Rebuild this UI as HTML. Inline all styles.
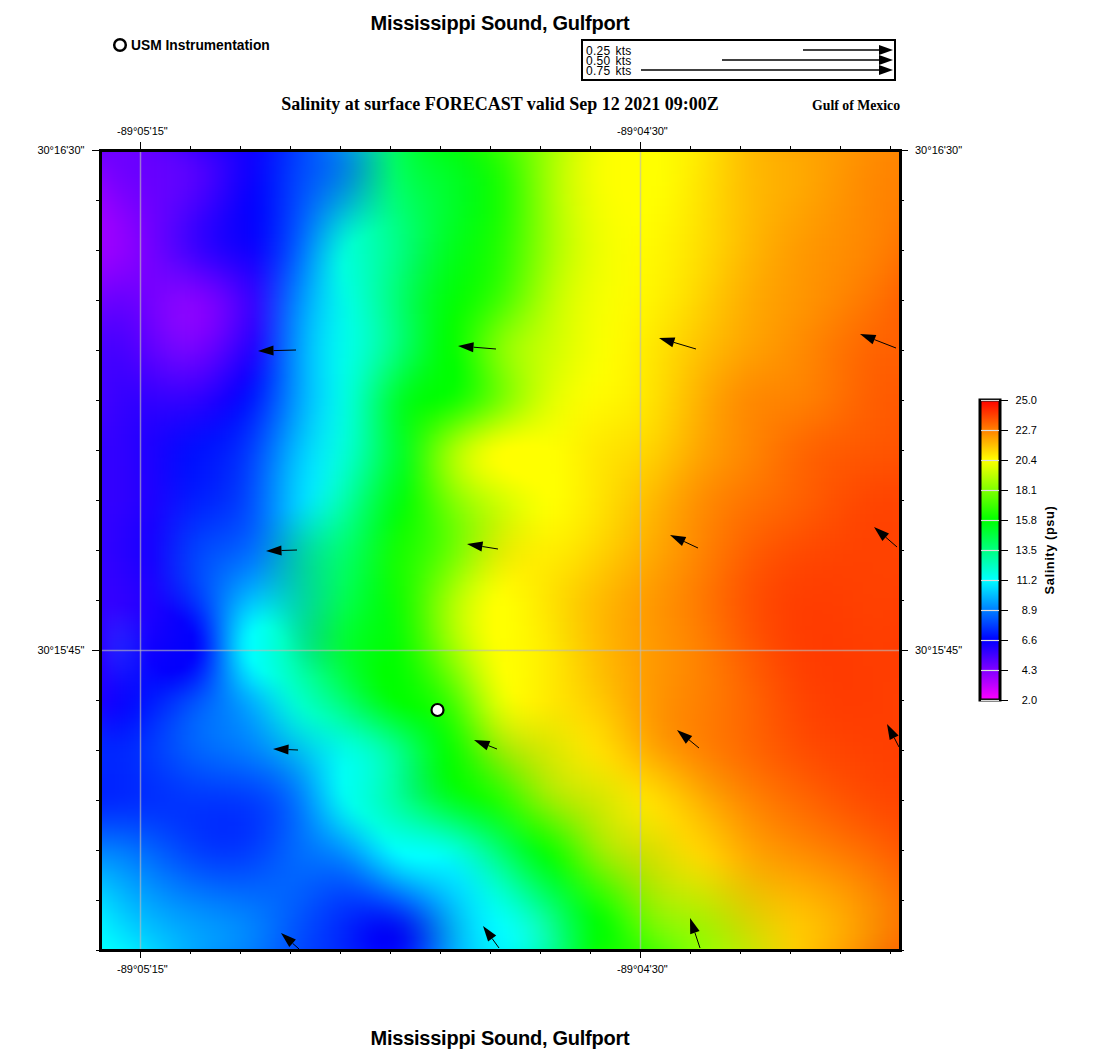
<!DOCTYPE html>
<html><head><meta charset="utf-8"><style>
html,body{margin:0;padding:0;background:#fff;}
body{width:1100px;height:1050px;position:relative;overflow:hidden;font-family:"Liberation Sans", sans-serif;color:#000;}
.a{position:absolute;white-space:nowrap;line-height:1;}
#hm{position:absolute;left:100px;top:150px;width:800px;height:800px;overflow:hidden;}
#hmi{position:absolute;left:-8px;top:-8px;width:816px;filter:blur(2px);}
#hmi i{display:block;height:4px;}
.lab{position:absolute;font-size:11px;line-height:12px;white-space:nowrap;}
.cbl{position:absolute;left:1000px;width:37px;text-align:right;font-size:11px;line-height:12px;}
svg{position:absolute;left:0;top:0;}
</style></head><body>
<div class="a" style="left:0;width:1000px;top:13px;text-align:center;font-weight:bold;font-size:20px;letter-spacing:-0.25px;">Mississippi Sound, Gulfport</div>
<div class="a" style="left:131px;top:39px;font-weight:bold;font-size:13.8px;">USM Instrumentation</div>
<div class="a" style="left:0;width:1000px;top:95px;text-align:center;font-family:'Liberation Serif', serif;font-weight:bold;font-size:18px;">Salinity at surface FORECAST valid Sep 12 2021 09:00Z</div>
<div class="a" style="left:812px;top:99px;font-family:'Liberation Serif', serif;font-weight:bold;font-size:13.8px;">Gulf of Mexico</div>
<div class="a" style="left:0;width:1000px;top:1028px;text-align:center;font-weight:bold;font-size:20px;letter-spacing:-0.25px;">Mississippi Sound, Gulfport</div>
<div id="hm"><div id="hmi">
<i style="background:linear-gradient(90deg,#6c00ff,#6d00ff,#6f00ff,#6f00ff,#6c00ff,#6800ff,#6200ff,#5b01ff,#5302ff,#4a02ff,#4101ff,#3700ff,#2e00ff,#2500ff,#1c00ff,#1400ff,#0e02ff,#090cff,#0519ff,#0329ff,#0139ff,#004aff,#005aff,#006bfc,#007cf6,#008feb,#00a4d8,#01bbc0,#01d2a3,#01e785,#01f868,#00ff4f,#00ff3b,#00ff2b,#00ff1e,#00ff15,#02fe0e,#09fd09,#13fd05,#1ffe02,#2eff01,#40ff00,#54ff00,#6aff00,#80ff00,#97ff00,#adff00,#c1ff00,#d4ff00,#e3ff00,#f0ff00,#f8ff00,#fdff00,#ffff00,#ffff00,#ffff00,#fffe00,#fffb00,#fff700,#fff200,#ffec00,#ffe400,#ffda00,#ffd100,#ffc700,#ffbe00,#ffb700,#ffb200,#ffae00,#ffaa00,#ffa700,#ffa400,#ffa100,#ff9d00,#ff9a00,#ff9700,#ff9300,#ff9000,#ff8d00,#ff8900,#ff8600,#ff8500)"></i>
<i style="background:linear-gradient(90deg,#6c00ff,#6d00ff,#6f00ff,#6f00ff,#6c00ff,#6800ff,#6200ff,#5b01ff,#5302ff,#4a02ff,#4101ff,#3700ff,#2e00ff,#2500ff,#1c00ff,#1400ff,#0e02ff,#090cff,#0519ff,#0329ff,#0139ff,#004aff,#005aff,#006bfc,#007cf6,#008feb,#00a4d8,#01bbc0,#01d2a3,#01e785,#01f868,#00ff4f,#00ff3b,#00ff2b,#00ff1e,#00ff15,#02fe0e,#09fd09,#13fd05,#1ffe02,#2eff01,#40ff00,#54ff00,#6aff00,#80ff00,#97ff00,#adff00,#c1ff00,#d4ff00,#e3ff00,#f0ff00,#f8ff00,#fdff00,#ffff00,#ffff00,#ffff00,#fffe00,#fffb00,#fff700,#fff200,#ffec00,#ffe400,#ffda00,#ffd100,#ffc700,#ffbe00,#ffb700,#ffb200,#ffae00,#ffaa00,#ffa700,#ffa400,#ffa100,#ff9d00,#ff9a00,#ff9700,#ff9300,#ff9000,#ff8d00,#ff8900,#ff8600,#ff8500)"></i>
<i style="background:linear-gradient(90deg,#6e00ff,#6f00ff,#6f00ff,#6e00ff,#6c00ff,#6800ff,#6300ff,#5d01ff,#5502ff,#4d02ff,#4401ff,#3b00ff,#3100ff,#2700ff,#1d00ff,#1500ff,#0e02ff,#090dff,#051aff,#0229ff,#013aff,#004aff,#0059fe,#0069fc,#007af5,#008cea,#00a2d7,#01b9bf,#01d1a2,#01e684,#01f868,#00ff4f,#00ff3c,#00ff2c,#00ff20,#00ff17,#02fe10,#08fd0a,#11fd06,#1dfe03,#2cff01,#3eff00,#52ff00,#69ff00,#80ff00,#97ff00,#adff00,#c2ff00,#d4fe00,#e4ff00,#f0ff00,#f9ff00,#feff00,#ffff00,#ffff00,#ffff00,#fffe00,#fefb00,#fff700,#fff200,#ffeb00,#ffe300,#ffda00,#ffd000,#ffc700,#ffbe00,#ffb800,#ffb200,#ffae00,#ffab00,#ffa700,#ffa400,#ffa100,#ff9e00,#ff9a00,#ff9700,#ff9300,#ff8f00,#ff8c00,#ff8900,#ff8600,#ff8500)"></i>
<i style="background:linear-gradient(90deg,#7200ff,#7200ff,#7000ff,#6e00ff,#6b00ff,#6800ff,#6400ff,#5f01ff,#5902ff,#5202ff,#4901ff,#4000ff,#3500ff,#2a00ff,#1f00ff,#1600ff,#0e03ff,#080dff,#041bff,#022aff,#013aff,#004aff,#0058fe,#0067fa,#0077f4,#0088e8,#009dd5,#01b5bd,#01cea1,#01e584,#00f768,#00ff50,#00ff3e,#00ff2f,#00ff24,#00ff1b,#02fe14,#07fd0e,#0ffd08,#19fd04,#28ff01,#3aff00,#4fff00,#66ff00,#7fff00,#97ff00,#aeff00,#c3ff00,#d6fe00,#e5fe00,#f1ff00,#f9ff00,#feff00,#ffff00,#ffff00,#ffff00,#ffff00,#fefc00,#fef700,#fff200,#ffeb00,#ffe200,#ffd900,#ffd000,#ffc700,#ffbe00,#ffb800,#ffb300,#ffaf00,#ffab00,#ffa800,#ffa500,#ffa100,#ff9e00,#ff9a00,#ff9600,#ff9200,#ff8e00,#ff8b00,#ff8800,#ff8500,#ff8500)"></i>
<i style="background:linear-gradient(90deg,#7600ff,#7600ff,#7100ff,#6e00ff,#6b00ff,#6800ff,#6400ff,#6001ff,#5c02ff,#5502ff,#4e01ff,#4400ff,#3900ff,#2d00ff,#2100ff,#1600ff,#0d03ff,#070dff,#041bff,#012bff,#003bff,#004aff,#0058fd,#0066f9,#0074f2,#0086e6,#009bd4,#00b3bc,#01cca0,#01e483,#00f768,#00ff52,#00ff40,#00ff32,#00ff27,#00ff1f,#01fe17,#05fc10,#0cfc0a,#16fd05,#24fe01,#36ff00,#4cff00,#64ff00,#7eff00,#97ff00,#afff00,#c4fe01,#d7fe00,#e6fe00,#f2ff00,#faff00,#feff00,#ffff00,#ffff00,#ffff00,#ffff00,#fefc00,#fef700,#fff100,#ffea00,#ffe200,#ffd900,#ffcf00,#ffc600,#ffbe00,#ffb800,#ffb300,#ffaf00,#ffac00,#ffa900,#ffa600,#ffa200,#ff9e00,#ff9a00,#ff9500,#ff9100,#ff8d00,#ff8a00,#ff8700,#ff8500,#ff8400)"></i>
<i style="background:linear-gradient(90deg,#7a00ff,#7900ff,#7300ff,#6e00ff,#6b00ff,#6800ff,#6500ff,#6201ff,#5e02ff,#5802ff,#5101ff,#4700ff,#3b00ff,#2f00ff,#2200ff,#1600ff,#0d03ff,#070eff,#031cff,#012bff,#003bff,#004aff,#0058fd,#0065f8,#0073f1,#0084e4,#0099d2,#00b2ba,#00cb9f,#00e383,#00f769,#00ff53,#00ff42,#00ff35,#00ff2b,#00ff22,#01fe1a,#04fc13,#0afc0c,#13fd06,#20fe02,#32ff00,#49ff00,#62ff00,#7dff00,#97ff00,#b0ff00,#c5fe01,#d8fe01,#e7fe00,#f2ff00,#faff00,#feff00,#ffff00,#ffff00,#ffff00,#ffff00,#fefc00,#fef700,#fff100,#ffea00,#ffe100,#ffd800,#ffcf00,#ffc600,#ffbe00,#ffb800,#ffb400,#ffb000,#ffad00,#ffaa00,#ffa600,#ffa200,#ff9e00,#ff9900,#ff9500,#ff9100,#ff8d00,#ff8900,#ff8600,#ff8400,#ff8400)"></i>
<i style="background:linear-gradient(90deg,#7e00ff,#7c00ff,#7500ff,#6f00ff,#6b00ff,#6900ff,#6600ff,#6301ff,#5f02ff,#5a02ff,#5301ff,#4900ff,#3d00ff,#3000ff,#2200ff,#1600ff,#0c03ff,#060eff,#021cff,#012cff,#003cff,#004bff,#0058fc,#0065f8,#0074ef,#0084e3,#0099d1,#00b2b9,#00cb9f,#00e384,#00f76a,#00ff55,#00ff44,#00ff38,#00ff2e,#00ff25,#01fe1d,#03fc15,#08fc0d,#11fd07,#1efe02,#30ff00,#47ff00,#61ff00,#7cff00,#97ff00,#b0ff00,#c6fe01,#d8fe01,#e7fe00,#f3ff00,#faff00,#feff00,#ffff00,#ffff00,#ffff00,#ffff00,#fefc00,#fef700,#fff000,#ffe900,#ffe100,#ffd800,#ffcf00,#ffc600,#ffbe00,#ffb800,#ffb400,#ffb000,#ffad00,#ffaa00,#ffa600,#ffa200,#ff9e00,#ff9900,#ff9400,#ff9000,#ff8c00,#ff8900,#ff8600,#ff8400,#ff8400)"></i>
<i style="background:linear-gradient(90deg,#8200ff,#8000ff,#7700ff,#7100ff,#6c00ff,#6900ff,#6700ff,#6401ff,#6002ff,#5c02ff,#5401ff,#4b00ff,#3e00ff,#3000ff,#2200ff,#1500ff,#0c03ff,#050eff,#021cff,#002cff,#003dff,#004cfe,#0059fc,#0067f7,#0075ee,#0086e1,#009acf,#00b2b8,#00cc9f,#00e384,#00f76c,#00ff57,#00ff47,#00ff3a,#00ff30,#00ff28,#00fe1f,#02fc17,#07fc0f,#0ffd08,#1bfe02,#2dff00,#44ff00,#5fff00,#7bff00,#97ff00,#b0ff00,#c6fe01,#d9fe01,#e8fe00,#f3ff00,#faff00,#feff00,#ffff00,#ffff00,#ffff00,#ffff00,#fefb00,#fef600,#fff000,#ffe900,#ffe000,#ffd700,#ffce00,#ffc600,#ffbe00,#ffb800,#ffb400,#ffb000,#ffad00,#ffaa00,#ffa600,#ffa200,#ff9d00,#ff9900,#ff9400,#ff8f00,#ff8b00,#ff8800,#ff8500,#ff8400,#ff8300)"></i>
<i style="background:linear-gradient(90deg,#8500ff,#8300ff,#7900ff,#7200ff,#6d00ff,#6a00ff,#6700ff,#6401ff,#6102ff,#5c02ff,#5501ff,#4b00ff,#3e00ff,#3000ff,#2100ff,#1500ff,#0b03ff,#040eff,#011dff,#002dff,#003eff,#004dfe,#005bfb,#0068f6,#0077ed,#0088e0,#009cce,#00b4b8,#00cd9f,#00e485,#00f76d,#00ff59,#00ff49,#00ff3d,#00ff33,#00ff2a,#00fe21,#02fc18,#06fc10,#0dfd08,#19fe02,#2bff00,#43ff00,#5eff00,#7bff00,#97ff00,#b0ff00,#c7fe01,#d9fe01,#e8fe00,#f3ff00,#faff00,#feff00,#ffff00,#ffff00,#ffff00,#ffff00,#fefb00,#fff600,#fff000,#ffe800,#ffe000,#ffd700,#ffce00,#ffc600,#ffbe00,#ffb800,#ffb400,#ffb000,#ffad00,#ffaa00,#ffa600,#ffa200,#ff9d00,#ff9800,#ff9300,#ff8f00,#ff8b00,#ff8700,#ff8500,#ff8300,#ff8300)"></i>
<i style="background:linear-gradient(90deg,#8900ff,#8600ff,#7b00ff,#7400ff,#6f00ff,#6b00ff,#6800ff,#6501ff,#6102ff,#5c02ff,#5501ff,#4b00ff,#3e00ff,#2f00ff,#2100ff,#1400ff,#0a03ff,#040eff,#011dff,#002dff,#003eff,#004efe,#005dfb,#006bf5,#007aec,#008bdf,#009fcd,#00b7b7,#00cf9f,#00e586,#00f76f,#00ff5b,#00ff4c,#00ff3f,#00ff35,#00ff2c,#00fe23,#01fd1a,#05fd11,#0bfd09,#17ff02,#29ff00,#41ff00,#5dff00,#7aff00,#96ff00,#b0ff00,#c7fe01,#d9fe01,#e8fe01,#f3ff00,#faff00,#feff00,#ffff00,#ffff00,#ffff00,#ffff00,#fefb00,#fff600,#ffef00,#ffe800,#ffdf00,#ffd700,#ffce00,#ffc600,#ffbe00,#ffb900,#ffb400,#ffb000,#ffad00,#ffaa00,#ffa600,#ffa200,#ff9d00,#ff9800,#ff9300,#ff8e00,#ff8a00,#ff8700,#ff8400,#ff8300,#ff8300)"></i>
<i style="background:linear-gradient(90deg,#8c00ff,#8900ff,#7e00ff,#7600ff,#7000ff,#6c00ff,#6800ff,#6501ff,#6102ff,#5c02ff,#5401ff,#4a00ff,#3d00ff,#2e00ff,#1f00fe,#1300ff,#0903ff,#030eff,#001dff,#002eff,#003fff,#0050fe,#005ffa,#006ef4,#007deb,#008fde,#00a3cc,#00bab7,#00d19f,#00e687,#00f871,#00ff5e,#00ff4e,#00ff42,#00ff37,#00ff2e,#00fe24,#01fd1b,#04fd11,#0afd09,#16ff02,#28ff00,#40ff00,#5cff00,#79ff00,#96ff00,#b0ff00,#c6fe01,#d9fe01,#e7fe01,#f2ff00,#faff00,#feff00,#ffff00,#ffff00,#ffff00,#ffff00,#fffb00,#fff500,#ffef00,#ffe700,#ffdf00,#ffd600,#ffce00,#ffc500,#ffbe00,#ffb900,#ffb400,#ffb000,#ffad00,#ffaa00,#ffa600,#ffa100,#ff9c00,#ff9700,#ff9300,#ff8e00,#ff8a00,#ff8700,#ff8400,#ff8200,#ff8200)"></i>
<i style="background:linear-gradient(90deg,#8f00ff,#8c00ff,#8000ff,#7800ff,#7200ff,#6d00ff,#6900ff,#6501ff,#6002ff,#5b02ff,#5301ff,#4800ff,#3b00ff,#2d00ff,#1e00fe,#1200ff,#0803ff,#020eff,#001dff,#002eff,#0040ff,#0051fe,#0061fa,#0171f3,#0082ea,#0093dd,#00a8cc,#00beb7,#00d4a0,#00e889,#00f873,#00ff60,#00ff51,#00ff44,#00ff39,#00ff2f,#00fe25,#00fd1b,#03fd12,#0afe09,#15ff02,#27ff00,#3fff00,#5bff00,#79ff00,#96ff00,#b0ff00,#c6fe01,#d8fe01,#e7fe01,#f2ff00,#f9ff00,#feff00,#ffff00,#ffff00,#ffff00,#fffe00,#fffa00,#fff500,#ffee00,#ffe700,#ffdf00,#ffd600,#ffcd00,#ffc500,#ffbe00,#ffb800,#ffb400,#ffb000,#ffad00,#ffa900,#ffa500,#ffa100,#ff9c00,#ff9700,#ff9200,#ff8e00,#ff8a00,#ff8600,#ff8400,#ff8200,#ff8200)"></i>
<i style="background:linear-gradient(90deg,#9100ff,#8f00ff,#8300ff,#7a00ff,#7400ff,#6e00ff,#6900ff,#6501ff,#6002ff,#5902ff,#5101ff,#4600ff,#3900ff,#2b00fe,#1d00fe,#1000ff,#0703ff,#020eff,#001dff,#002fff,#0041ff,#0053fe,#0164fa,#0175f3,#0087e9,#0099dc,#00adcb,#00c2b7,#00d7a1,#00ea8a,#00f975,#00ff63,#00ff53,#00ff46,#00ff3b,#00ff30,#00fe26,#00fd1c,#03fd12,#09fe09,#14ff02,#26ff00,#3eff00,#5bff00,#78ff00,#95ff00,#afff00,#c6fe01,#d8fe01,#e7fe01,#f2ff00,#f9ff00,#fdff00,#ffff00,#ffff00,#ffff00,#fffe00,#fffa00,#fff500,#ffee00,#ffe600,#ffde00,#ffd600,#ffcd00,#ffc500,#ffbe00,#ffb800,#ffb400,#ffb000,#ffac00,#ffa900,#ffa400,#ffa000,#ff9b00,#ff9700,#ff9200,#ff8d00,#ff8900,#ff8600,#ff8300,#ff8100,#ff8100)"></i>
<i style="background:linear-gradient(90deg,#9400ff,#9100ff,#8600ff,#7d00ff,#7500ff,#6f00ff,#6a00ff,#6501ff,#5f02ff,#5802ff,#4f01ff,#4400ff,#3700ff,#2900fe,#1b00fe,#0f00ff,#0603ff,#010eff,#001dff,#002fff,#0042ff,#0055fe,#0167f9,#017af2,#008ce8,#009fdb,#00b3cb,#00c7b7,#00daa2,#00ec8c,#00f977,#00ff65,#00ff56,#00ff48,#00ff3c,#00ff31,#00fe27,#00fd1c,#03fd12,#09fe09,#14ff02,#26ff00,#3eff00,#5aff00,#78ff00,#95ff00,#afff00,#c5ff01,#d8fe01,#e6fe01,#f1ff00,#f8ff00,#fdff00,#ffff00,#ffff00,#ffff00,#fffe00,#fffa00,#fff400,#ffee00,#ffe600,#ffde00,#ffd600,#ffcd00,#ffc500,#ffbe00,#ffb800,#ffb300,#ffaf00,#ffac00,#ffa800,#ffa400,#ff9f00,#ff9b00,#ff9600,#ff9100,#ff8d00,#ff8900,#ff8600,#ff8300,#ff8100,#ff8100)"></i>
<i style="background:linear-gradient(90deg,#9600ff,#9300ff,#8800ff,#7f00ff,#7700ff,#7100ff,#6b00ff,#6401ff,#5e02ff,#5602ff,#4d01ff,#4200ff,#3500ff,#2700fe,#1a00fe,#0e00ff,#0603ff,#010eff,#001eff,#0030ff,#0043ff,#0057fe,#016bf9,#017ef2,#0092e8,#00a5db,#00b9ca,#00ccb7,#00dea3,#00ee8e,#00fa7a,#00ff68,#00ff58,#00ff4a,#00ff3e,#00ff32,#00fe27,#00fd1c,#03fd12,#09fe09,#14ff02,#26ff00,#3eff00,#5aff00,#77ff00,#94ff00,#afff00,#c5ff01,#d7fe01,#e5fe01,#f0ff00,#f8ff00,#fcff00,#ffff00,#ffff00,#ffff00,#fffd00,#fff900,#fff400,#ffed00,#ffe600,#ffde00,#ffd500,#ffcd00,#ffc500,#ffbe00,#ffb800,#ffb300,#ffaf00,#ffab00,#ffa700,#ffa300,#ff9f00,#ff9a00,#ff9600,#ff9100,#ff8d00,#ff8900,#ff8500,#ff8300,#ff8000,#ff8000)"></i>
<i style="background:linear-gradient(90deg,#9800ff,#9600ff,#8b00ff,#8100ff,#7900ff,#7200ff,#6b00ff,#6401ff,#5c02ff,#5402ff,#4a01ff,#3f00ff,#3200ff,#2500fe,#1800fe,#0d00ff,#0503ff,#010eff,#001eff,#0030ff,#0044ff,#0059fe,#016ef9,#0183f1,#0098e7,#00acda,#00bfca,#00d2b8,#00e2a4,#00f090,#00fb7c,#00ff6a,#00ff5a,#00ff4c,#00ff3f,#00ff32,#00fe27,#00fe1c,#03fe12,#09fe09,#14ff02,#26ff00,#3eff00,#5aff00,#77ff00,#94ff00,#aeff00,#c4ff01,#d6fe01,#e5fe01,#f0ff00,#f7ff00,#fcff00,#feff00,#ffff00,#ffff00,#fffd00,#fff900,#fff300,#ffed00,#ffe500,#ffdd00,#ffd500,#ffcd00,#ffc500,#ffbe00,#ffb800,#ffb300,#ffae00,#ffaa00,#ffa600,#ffa200,#ff9e00,#ff9900,#ff9500,#ff9100,#ff8d00,#ff8900,#ff8500,#ff8200,#ff8000,#ff7f00)"></i>
<i style="background:linear-gradient(90deg,#9a00ff,#9700ff,#8d00ff,#8400ff,#7b00ff,#7300ff,#6c00ff,#6401ff,#5b02ff,#5202ff,#4801ff,#3c00ff,#3000ff,#2300fe,#1700fe,#0c00ff,#0503ff,#000eff,#001eff,#0031ff,#0045ff,#005cfe,#0172f8,#0188f1,#009ee6,#00b3da,#00c6ca,#00d7b8,#00e6a5,#00f292,#00fb7e,#00ff6c,#00ff5c,#00ff4d,#00ff3f,#00ff33,#00fe27,#01fe1b,#03fe11,#09fe09,#14ff02,#26ff00,#3eff00,#5aff00,#77ff00,#94ff00,#adff00,#c3ff01,#d6ff01,#e4ff01,#efff00,#f7ff00,#fbff00,#feff00,#ffff00,#ffff00,#fffc00,#fff800,#fff300,#ffec00,#ffe500,#ffdd00,#ffd500,#ffcd00,#ffc500,#ffbe00,#ffb800,#ffb200,#ffae00,#ffa900,#ffa500,#ffa100,#ff9d00,#ff9900,#ff9400,#ff9000,#ff8c00,#ff8800,#ff8500,#ff8200,#ff7f00,#ff7f00)"></i>
<i style="background:linear-gradient(90deg,#9b00ff,#9900ff,#8f00ff,#8600ff,#7d00ff,#7500ff,#6c00ff,#6301ff,#5a02ff,#5002ff,#4601ff,#3a00ff,#2d00ff,#2100fe,#1500fe,#0b00ff,#0403ff,#000eff,#001eff,#0031ff,#0047ff,#005efe,#0176f8,#018ef0,#00a5e6,#00bad9,#00cdca,#00ddb9,#00eaa6,#00f593,#00fc80,#00ff6e,#00ff5e,#00ff4e,#00ff40,#00ff33,#00ff26,#01fe1b,#03fe11,#0afe08,#15ff02,#27ff00,#3eff00,#5aff00,#77ff00,#93ff00,#adff00,#c3ff01,#d5ff01,#e3ff00,#eeff00,#f6ff00,#fbff00,#feff00,#ffff00,#ffff00,#fffc00,#fff800,#fff200,#ffec00,#ffe500,#ffdd00,#ffd500,#ffcd00,#ffc500,#ffbe00,#ffb700,#ffb200,#ffad00,#ffa900,#ffa500,#ffa000,#ff9c00,#ff9800,#ff9400,#ff9000,#ff8c00,#ff8800,#ff8500,#ff8100,#ff7e00,#ff7e00)"></i>
<i style="background:linear-gradient(90deg,#9d00ff,#9b00ff,#9100ff,#8800ff,#7f00ff,#7600ff,#6d00ff,#6301ff,#5902ff,#4e02ff,#4301ff,#3700ff,#2b00ff,#1f00fe,#1400fe,#0b00fe,#0403ff,#010eff,#001eff,#0032ff,#0048ff,#0060fe,#017af8,#0193f0,#00abe6,#00c1d9,#00d4ca,#00e3ba,#00efa8,#00f795,#00fd83,#00ff71,#00ff5f,#00ff4f,#00ff40,#00ff32,#00ff26,#01fe1a,#04fe10,#0aff08,#16ff02,#27ff00,#3fff00,#5aff00,#77ff00,#93ff00,#adff00,#c2ff01,#d4ff01,#e3ff00,#eeff00,#f6ff00,#fbff00,#fdff00,#ffff00,#fffe00,#fffb00,#fff700,#fff200,#ffeb00,#ffe400,#ffdd00,#ffd500,#ffcc00,#ffc500,#ffbd00,#ffb700,#ffb100,#ffac00,#ffa800,#ffa400,#ff9f00,#ff9b00,#ff9700,#ff9300,#ff9000,#ff8c00,#ff8800,#ff8500,#ff8100,#ff7e00,#ff7d00)"></i>
<i style="background:linear-gradient(90deg,#9d00ff,#9c00ff,#9300ff,#8a00ff,#8100ff,#7700ff,#6d00ff,#6301ff,#5802ff,#4d02ff,#4101ff,#3500ff,#2900ff,#1e00fe,#1300fe,#0b00fe,#0403ff,#010eff,#001fff,#0033ff,#004aff,#0063fe,#007ef8,#0099f0,#00b2e5,#00c9d9,#00dbca,#00e9ba,#00f3a9,#00fa97,#00fe85,#00ff72,#00ff61,#00ff50,#00ff40,#00ff32,#00ff25,#01ff19,#04ff0f,#0bff08,#17ff02,#28ff00,#40ff00,#5bff00,#77ff00,#93ff00,#acff00,#c2ff01,#d3ff01,#e2ff00,#edff00,#f5ff00,#faff00,#fdff00,#feff00,#fffe00,#fffb00,#fff700,#fff100,#ffeb00,#ffe400,#ffdc00,#ffd400,#ffcc00,#ffc400,#ffbd00,#ffb600,#ffb100,#ffac00,#ffa700,#ffa300,#ff9e00,#ff9a00,#ff9700,#ff9300,#ff8f00,#ff8b00,#ff8800,#ff8400,#ff8100,#ff7d00,#ff7c00)"></i>
<i style="background:linear-gradient(90deg,#9e00ff,#9d00ff,#9500ff,#8c00ff,#8200ff,#7800ff,#6e00ff,#6201ff,#5702ff,#4b02ff,#3f01ff,#3300ff,#2800ff,#1d00fe,#1300fe,#0b00fe,#0503ff,#010fff,#001fff,#0034ff,#004bff,#0066fe,#0082f8,#009eef,#00b9e5,#00d0d9,#00e2cb,#00efbb,#00f7aa,#00fc98,#00fe86,#00ff74,#00ff62,#00ff51,#00ff40,#00ff31,#00ff24,#02ff18,#05ff0f,#0cff07,#18ff02,#29ff00,#40ff00,#5bff00,#77ff00,#93ff00,#acff00,#c1ff01,#d3ff01,#e1ff00,#ecff00,#f4ff00,#faff00,#fdff00,#feff00,#fffd00,#fffa00,#fff600,#fff100,#ffeb00,#ffe400,#ffdc00,#ffd400,#ffcc00,#ffc400,#ffbd00,#ffb600,#ffb000,#ffab00,#ffa600,#ffa200,#ff9e00,#ff9a00,#ff9600,#ff9200,#ff8f00,#ff8b00,#ff8800,#ff8400,#ff8000,#ff7c00,#ff7b00)"></i>
<i style="background:linear-gradient(90deg,#9f00ff,#9d00ff,#9600ff,#8d00ff,#8400ff,#7900ff,#6e00ff,#6201ff,#5602ff,#4a02ff,#3e01ff,#3200ff,#2700ff,#1c00fe,#1300fe,#0b00fe,#0503ff,#020fff,#0020ff,#0035ff,#004dff,#0069fd,#0086f8,#00a3ef,#00bfe5,#00d7d9,#00e9cb,#00f4bc,#00fbab,#00fe9a,#00ff88,#00ff75,#00ff63,#00ff51,#00ff40,#00ff30,#00ff23,#02ff17,#06ff0e,#0dff07,#19ff02,#2aff00,#41ff00,#5cff00,#78ff00,#93ff00,#acff00,#c1ff01,#d2ff01,#e1ff00,#ecff00,#f4ff00,#f9ff00,#fcff00,#fefe00,#fffd00,#fffa00,#fff500,#fff000,#ffea00,#ffe300,#ffdc00,#ffd400,#ffcc00,#ffc400,#ffbc00,#ffb600,#ffaf00,#ffaa00,#ffa500,#ffa100,#ff9d00,#ff9900,#ff9500,#ff9200,#ff8e00,#ff8b00,#ff8700,#ff8400,#ff8000,#ff7b00,#ff7a00)"></i>
<i style="background:linear-gradient(90deg,#9f00ff,#9d00ff,#9700ff,#8e00ff,#8500ff,#7a00ff,#6f00ff,#6301ff,#5602ff,#4a02ff,#3d01ff,#3100ff,#2600ff,#1c00fe,#1300fe,#0c00fe,#0603ff,#030fff,#0120ff,#0036ff,#004fff,#006bfd,#008af8,#00a9ef,#00c5e5,#00ddd9,#00efcb,#00f9bc,#00ffac,#00ff9b,#00ff89,#00ff77,#00fe64,#00fe51,#00ff3f,#00ff2f,#01ff22,#02ff16,#06ff0d,#0eff06,#1aff02,#2bff00,#42ff00,#5dff00,#78ff00,#93ff00,#acff00,#c0ff01,#d2ff01,#e0ff00,#ebff00,#f3ff00,#f9ff00,#fcff00,#fefe00,#fffc00,#fff900,#fff500,#fff000,#ffea00,#ffe300,#ffdb00,#ffd300,#ffcb00,#ffc300,#ffbc00,#ffb500,#ffaf00,#ffa900,#ffa400,#ffa000,#ff9c00,#ff9800,#ff9500,#ff9100,#ff8e00,#ff8b00,#ff8700,#ff8300,#ff7f00,#ff7a00,#ff7900)"></i>
<i style="background:linear-gradient(90deg,#9e00ff,#9d00ff,#9700ff,#8f00ff,#8600ff,#7b00ff,#6f00ff,#6301ff,#5602ff,#4902ff,#3d01ff,#3100ff,#2600ff,#1c00fe,#1400fe,#0d00fe,#0703ff,#040fff,#0221ff,#0137ff,#0051ff,#006efd,#008ef8,#00aeef,#00cbe5,#00e3d9,#00f5cc,#00febd,#00ffad,#00ff9c,#00ff8a,#00fe77,#00fe64,#00fe51,#00fe3f,#00ff2e,#01ff20,#03ff15,#07ff0c,#0fff06,#1bff01,#2cff00,#43ff00,#5dff00,#79ff00,#93ff00,#acff00,#c0ff01,#d2ff01,#e0ff00,#ebff00,#f3ff00,#f9ff00,#fcff00,#fefd00,#fffc00,#fff900,#fff400,#ffef00,#ffe900,#ffe200,#ffdb00,#ffd300,#ffcb00,#ffc300,#ffbb00,#ffb400,#ffae00,#ffa800,#ffa300,#ff9f00,#ff9b00,#ff9700,#ff9400,#ff9100,#ff8d00,#ff8a00,#ff8700,#ff8300,#ff7e00,#ff7900,#ff7800)"></i>
<i style="background:linear-gradient(90deg,#9e00ff,#9d00ff,#9700ff,#9000ff,#8600ff,#7c00ff,#7000ff,#6301ff,#5702ff,#4a02ff,#3d01ff,#3200ff,#2700ff,#1d00fe,#1500fe,#0e00fe,#0903ff,#0510ff,#0322ff,#0138ff,#0053ff,#0071fe,#0092f8,#00b2ef,#00d0e5,#00e9da,#00facc,#00ffbe,#00ffae,#00ff9d,#00ff8b,#00fe78,#00fd64,#00fd50,#00fe3e,#00ff2d,#01ff1f,#03ff14,#08ff0b,#10ff05,#1cff01,#2eff00,#44ff00,#5eff00,#79ff00,#94ff00,#acff00,#c0ff00,#d1ff00,#e0ff00,#ebff00,#f3ff00,#f8ff00,#fcfe00,#fefd00,#fffb00,#fff800,#fff400,#ffef00,#ffe900,#ffe200,#ffda00,#ffd300,#ffcb00,#ffc300,#ffbb00,#ffb400,#ffad00,#ffa800,#ffa300,#ff9e00,#ff9a00,#ff9600,#ff9300,#ff9000,#ff8d00,#ff8a00,#ff8600,#ff8200,#ff7e00,#ff7800,#ff7700)"></i>
<i style="background:linear-gradient(90deg,#9d00ff,#9c00ff,#9700ff,#9000ff,#8600ff,#7c00ff,#7000ff,#6401ff,#5702ff,#4b02ff,#3f01ff,#3300ff,#2900ff,#1f00fe,#1700fe,#1000fe,#0b03ff,#0710ff,#0423ff,#023aff,#0055ff,#0074fe,#0096f8,#00b7f0,#00d5e6,#00eeda,#00ffcd,#00ffbe,#00ffaf,#00ff9e,#00ff8b,#00fe78,#00fc64,#00fc50,#00fd3c,#00fe2b,#01ff1d,#03ff12,#08ff0a,#10ff05,#1dff01,#2fff00,#46ff00,#5fff00,#7aff00,#95ff00,#acff00,#c0ff00,#d1ff00,#dfff00,#eaff00,#f2ff00,#f8ff00,#fcfe00,#fefd00,#fffb00,#fff800,#fff300,#ffee00,#ffe800,#ffe100,#ffda00,#ffd200,#ffca00,#ffc200,#ffba00,#ffb300,#ffad00,#ffa700,#ffa200,#ff9d00,#ff9900,#ff9600,#ff9300,#ff9000,#ff8d00,#ff8900,#ff8600,#ff8200,#ff7d00,#ff7700,#ff7600)"></i>
<i style="background:linear-gradient(90deg,#9c00ff,#9b00ff,#9600ff,#8f00ff,#8600ff,#7c00ff,#7100ff,#6501ff,#5902ff,#4d02ff,#4101ff,#3500ff,#2b00ff,#2200fe,#1a00fe,#1300fe,#0d03ff,#0811ff,#0524ff,#023bff,#0157ff,#0077fe,#0099f8,#00bbf0,#00d9e6,#00f2db,#00ffcd,#00ffbf,#00ffaf,#00ff9e,#00ff8b,#00fe78,#00fc63,#00fc4e,#00fd3b,#00fe2a,#01ff1c,#04ff11,#09ff09,#11ff04,#1eff01,#30ff00,#47ff00,#61ff00,#7bff00,#95ff00,#adff00,#c1ff00,#d2ff00,#dfff00,#eaff00,#f2ff00,#f8ff00,#fcfe00,#fefc00,#fffa00,#fff700,#fff300,#ffee00,#ffe800,#ffe100,#ffd900,#ffd200,#ffc900,#ffc100,#ffba00,#ffb300,#ffac00,#ffa600,#ffa100,#ff9c00,#ff9900,#ff9500,#ff9200,#ff8f00,#ff8c00,#ff8900,#ff8500,#ff8100,#ff7c00,#ff7600,#ff7500)"></i>
<i style="background:linear-gradient(90deg,#9a00ff,#9900ff,#9500ff,#8e00ff,#8600ff,#7c00ff,#7200ff,#6602ff,#5b02ff,#4f02ff,#4401ff,#3900ff,#2f00ff,#2500fe,#1d00fe,#1600fe,#1003ff,#0a11ff,#0625ff,#033dff,#015aff,#007afe,#009df8,#00bff0,#00dde7,#00f6db,#00ffce,#00ffbf,#01ffaf,#01ff9e,#00ff8b,#00fd77,#00fc62,#00fc4d,#00fd39,#00fe28,#01ff1a,#04ff10,#09ff09,#12ff04,#1fff01,#31ff00,#48ff00,#62ff00,#7cff00,#96ff00,#aeff00,#c1ff00,#d2ff00,#e0ff00,#eaff00,#f2ff00,#f8fe00,#fbfe00,#fefc00,#fffa00,#fff700,#fff200,#ffed00,#ffe700,#ffe000,#ffd900,#ffd100,#ffc900,#ffc100,#ffb900,#ffb200,#ffab00,#ffa600,#ffa000,#ff9c00,#ff9800,#ff9500,#ff9100,#ff8f00,#ff8b00,#ff8800,#ff8400,#ff8000,#ff7b00,#ff7500,#ff7300)"></i>
<i style="background:linear-gradient(90deg,#9800ff,#9800ff,#9300ff,#8c00ff,#8500ff,#7c00ff,#7200ff,#6802ff,#5d02ff,#5202ff,#4802ff,#3d00ff,#3300ff,#2a00fe,#2100fe,#1a00ff,#1303ff,#0d12ff,#0826ff,#043fff,#015dff,#007dfe,#00a0f8,#00c2f1,#00e0e7,#00f8dc,#00ffcf,#01ffc0,#01ffaf,#01ff9e,#00ff8a,#00fd76,#00fb60,#00fb4b,#00fd38,#00fe26,#01ff19,#04ff0e,#0aff08,#13ff03,#20ff01,#32ff00,#49ff00,#63ff00,#7eff00,#97ff00,#afff00,#c2ff00,#d3ff00,#e0ff00,#ebff00,#f2ff00,#f8fe00,#fbfd00,#fefc00,#fffa00,#fff600,#fff200,#ffed00,#ffe700,#ffe000,#ffd800,#ffd000,#ffc800,#ffc000,#ffb800,#ffb100,#ffab00,#ffa500,#ffa000,#ff9b00,#ff9700,#ff9400,#ff9100,#ff8e00,#ff8b00,#ff8800,#ff8400,#ff7f00,#ff7a00,#ff7300,#ff7200)"></i>
<i style="background:linear-gradient(90deg,#9600ff,#9500ff,#9000ff,#8a00ff,#8300ff,#7c00ff,#7300ff,#6a02ff,#6002ff,#5603ff,#4c02ff,#4200ff,#3900ff,#2f00fe,#2600fe,#1e00ff,#1604ff,#0f13ff,#0a28ff,#0541ff,#025fff,#0080fe,#00a3f9,#00c4f1,#00e3e8,#00fadd,#00ffcf,#01ffc0,#01ffaf,#01ff9d,#00ff89,#00fd74,#00fb5f,#00fb49,#00fd36,#00fe24,#01ff17,#04ff0d,#0aff07,#14ff03,#21ff01,#34ff00,#4bff00,#64ff00,#7fff00,#99ff00,#b0ff00,#c3ff00,#d3ff00,#e1ff00,#ebff00,#f3ff00,#f8fe00,#fbfd00,#fefc00,#fff900,#fff600,#fff200,#ffec00,#ffe600,#ffdf00,#ffd700,#ffcf00,#ffc700,#ffbf00,#ffb700,#ffb000,#ffaa00,#ffa400,#ff9f00,#ff9b00,#ff9700,#ff9400,#ff9100,#ff8e00,#ff8a00,#ff8700,#ff8300,#ff7e00,#ff7900,#ff7200,#ff7100)"></i>
<i style="background:linear-gradient(90deg,#9400ff,#9300ff,#8e00ff,#8800ff,#8200ff,#7b00ff,#7400ff,#6c02ff,#6303ff,#5b03ff,#5202ff,#4800ff,#3e00ff,#3500fe,#2b00fe,#2200ff,#1a04ff,#1214ff,#0b29ff,#0644ff,#0262ff,#0083fe,#00a6f9,#00c7f2,#00e4e9,#00fcde,#00ffd0,#01ffc1,#01ffaf,#01ff9c,#00ff88,#00fd72,#00fb5d,#00fb47,#00fd33,#00fe22,#01ff15,#04ff0c,#0bff06,#14ff02,#22ff01,#35ff00,#4cff00,#66ff00,#81ff00,#9aff00,#b1ff00,#c4ff00,#d4ff00,#e1ff00,#ebff00,#f3ff00,#f8fe00,#fcfd00,#fefc00,#fff900,#fff600,#fff100,#ffec00,#ffe500,#ffde00,#ffd700,#ffce00,#ffc600,#ffbe00,#ffb600,#ffaf00,#ffa900,#ffa400,#ff9f00,#ff9a00,#ff9700,#ff9300,#ff9000,#ff8d00,#ff8a00,#ff8600,#ff8200,#ff7d00,#ff7700,#ff7100,#ff6f00)"></i>
<i style="background:linear-gradient(90deg,#9100ff,#9000ff,#8a00ff,#8500ff,#8000ff,#7a00ff,#7400ff,#6e02ff,#6703ff,#6003ff,#5702ff,#4f00ff,#4500ff,#3b00fe,#3100fe,#2700ff,#1d04ff,#1515ff,#0d2bff,#0746ff,#0265ff,#0086fe,#00a8f9,#00c9f3,#00e6ea,#00fcde,#00ffd1,#01ffc1,#01ffaf,#01ff9b,#00ff86,#00fd71,#00fb5a,#00fb45,#00fd31,#00fe20,#01ff13,#05ff0b,#0bff05,#15ff02,#23ff00,#36ff00,#4eff00,#68ff00,#82ff00,#9cff00,#b3ff00,#c6ff00,#d5ff00,#e2ff00,#ecff00,#f3ff00,#f8fe00,#fcfd00,#fefb00,#fff900,#fff500,#fff100,#ffeb00,#ffe500,#ffde00,#ffd600,#ffce00,#ffc500,#ffbd00,#ffb500,#ffaf00,#ffa800,#ffa300,#ff9e00,#ff9a00,#ff9600,#ff9300,#ff9000,#ff8c00,#ff8900,#ff8500,#ff8100,#ff7c00,#ff7600,#ff6f00,#ff6e00)"></i>
<i style="background:linear-gradient(90deg,#8e00ff,#8c00ff,#8700ff,#8200ff,#7e00ff,#7900ff,#7500ff,#7002ff,#6b03ff,#6503ff,#5e02ff,#5500ff,#4c00ff,#4100fe,#3600fe,#2b00ff,#2104ff,#1715ff,#0f2dff,#0848ff,#0268ff,#0089fe,#00abfa,#00cbf3,#00e7eb,#00fddf,#00ffd2,#01ffc1,#01ffaf,#01ff9a,#00ff85,#00fd6f,#00fb58,#00fb43,#00fd2f,#00fe1e,#01ff12,#05ff09,#0cff04,#16ff01,#25ff00,#38ff00,#50ff00,#6aff00,#84ff00,#9eff00,#b4ff00,#c7ff00,#d7ff00,#e3ff00,#ecff00,#f4ff00,#f9fe00,#fcfd00,#fefb00,#fff900,#fff500,#fff000,#ffea00,#ffe400,#ffdd00,#ffd500,#ffcd00,#ffc400,#ffbc00,#ffb400,#ffae00,#ffa800,#ffa200,#ff9e00,#ff9a00,#ff9600,#ff9300,#ff8f00,#ff8c00,#ff8800,#ff8400,#ff8000,#ff7b00,#ff7500,#ff6e00,#ff6c00)"></i>
<i style="background:linear-gradient(90deg,#8a00ff,#8900ff,#8300ff,#7f00ff,#7b00ff,#7800ff,#7500ff,#7202ff,#6e03ff,#6a03ff,#6402ff,#5c00ff,#5200ff,#4700fe,#3c00fe,#3000ff,#2505ff,#1a16ff,#112eff,#094bff,#036bff,#008cfe,#00adfa,#00ccf4,#00e7ec,#00fce0,#00ffd2,#01ffc2,#01ffae,#01ff99,#01ff83,#00fd6c,#00fc56,#00fc40,#00fd2d,#00fe1c,#01ff10,#05ff08,#0dff03,#17ff01,#26ff00,#3aff00,#52ff00,#6cff00,#86ff00,#a0ff00,#b6ff00,#c9ff00,#d8ff00,#e4ff00,#edff00,#f4ff00,#f9fe00,#fcfd00,#fefb00,#fff800,#fff400,#fff000,#ffea00,#ffe300,#ffdc00,#ffd400,#ffcc00,#ffc300,#ffbb00,#ffb400,#ffad00,#ffa700,#ffa200,#ff9d00,#ff9900,#ff9600,#ff9200,#ff8f00,#ff8b00,#ff8700,#ff8300,#ff7f00,#ff7900,#ff7300,#ff6c00,#ff6b00)"></i>
<i style="background:linear-gradient(90deg,#8700ff,#8500ff,#7f00ff,#7b00ff,#7900ff,#7700ff,#7600ff,#7402ff,#7203ff,#6f03ff,#6a02ff,#6300ff,#5900ff,#4e00ff,#4100fe,#3500ff,#2805ff,#1d17ff,#1230ff,#0a4dff,#036dff,#008ffe,#00affa,#00cef5,#00e8ec,#00fce1,#00ffd3,#01ffc2,#01ffae,#01ff98,#01ff82,#00fe6a,#00fc54,#00fc3e,#00fd2b,#00fe1a,#01ff0e,#06ff07,#0eff02,#19ff01,#28ff00,#3cff00,#54ff00,#6eff00,#89ff00,#a2ff00,#b8ff00,#caff00,#d9ff00,#e5ff00,#eeff00,#f4ff00,#f9fe00,#fcfd00,#fefb00,#fff800,#fff400,#ffef00,#ffe900,#ffe200,#ffdb00,#ffd300,#ffcb00,#ffc200,#ffba00,#ffb300,#ffac00,#ffa600,#ffa100,#ff9d00,#ff9900,#ff9500,#ff9200,#ff8e00,#ff8b00,#ff8700,#ff8200,#ff7d00,#ff7800,#ff7200,#ff6b00,#ff6900)"></i>
<i style="background:linear-gradient(90deg,#8300ff,#8200ff,#7b00ff,#7800ff,#7600ff,#7600ff,#7600ff,#7602ff,#7603ff,#7403ff,#7002ff,#6900ff,#6000ff,#5400ff,#4700ff,#3900ff,#2b05ff,#1f18ff,#1432ff,#0a50ff,#0370ff,#0091fe,#00b1fb,#00cff5,#00e8ed,#00fbe2,#00ffd4,#01ffc2,#02ffae,#01ff98,#01ff80,#00fe69,#00fc51,#00fc3c,#00fd28,#00fe18,#01ff0d,#07ff06,#0fff02,#1bff00,#2bff00,#3fff00,#57ff00,#71ff00,#8bff00,#a4ff00,#baff00,#ccff00,#daff00,#e6ff00,#efff00,#f5ff00,#f9fe00,#fcfd00,#fefb00,#fff800,#fff400,#ffef00,#ffe800,#ffe200,#ffda00,#ffd200,#ffca00,#ffc100,#ffb900,#ffb200,#ffab00,#ffa600,#ffa100,#ff9d00,#ff9900,#ff9500,#ff9100,#ff8e00,#ff8a00,#ff8600,#ff8100,#ff7c00,#ff7700,#ff7100,#ff6a00,#ff6800)"></i>
<i style="background:linear-gradient(90deg,#8000ff,#7e00ff,#7700ff,#7400ff,#7300ff,#7400ff,#7600ff,#7802ff,#7903ff,#7903ff,#7602ff,#6f00ff,#6600ff,#5900ff,#4b00ff,#3d00ff,#2e05ff,#2119ff,#1533ff,#0b52ff,#0473ff,#0094fe,#00b4fb,#00d0f6,#00e8ee,#00fae3,#01ffd5,#01ffc3,#02ffae,#01ff97,#01ff7f,#00fe67,#00fc4f,#00fc3a,#00fd26,#00fe17,#01ff0b,#07ff04,#11ff01,#1dff00,#2dff00,#42ff00,#5aff00,#74ff00,#8eff00,#a6ff00,#bcff00,#cdff00,#dcff00,#e7ff00,#efff00,#f6ff00,#fafe00,#fdfc00,#fefa00,#fff700,#fff300,#ffee00,#ffe800,#ffe100,#ffd900,#ffd100,#ffc800,#ffc000,#ffb800,#ffb100,#ffaa00,#ffa500,#ffa000,#ff9c00,#ff9800,#ff9500,#ff9100,#ff8d00,#ff8900,#ff8500,#ff8000,#ff7b00,#ff7500,#ff6f00,#ff6800,#ff6700)"></i>
<i style="background:linear-gradient(90deg,#7c00ff,#7a00ff,#7300ff,#7000ff,#7100ff,#7300ff,#7600ff,#7902ff,#7c03ff,#7d04ff,#7b02ff,#7500ff,#6b00ff,#5f00ff,#5000ff,#4000ff,#3105ff,#231aff,#1635ff,#0c54ff,#0476ff,#0097fe,#00b5fc,#00d1f7,#00e8ef,#00fae4,#01ffd6,#02ffc3,#02ffae,#02ff97,#01ff7e,#00fe66,#00fd4e,#00fd38,#00fd24,#00fe15,#02ff0a,#09ff03,#12ff00,#20ff00,#31ff00,#45ff00,#5dff01,#77ff01,#91ff00,#a9ff00,#beff00,#cfff00,#ddff00,#e8ff00,#f0ff00,#f6ff00,#fafe00,#fdfc00,#fefa00,#fff700,#fff200,#ffed00,#ffe700,#ffe000,#ffd800,#ffd000,#ffc700,#ffbf00,#ffb700,#ffb000,#ffa900,#ffa400,#ffa000,#ff9c00,#ff9800,#ff9400,#ff9000,#ff8c00,#ff8800,#ff8400,#ff7f00,#ff7a00,#ff7400,#ff6e00,#ff6700,#ff6600)"></i>
<i style="background:linear-gradient(90deg,#7800ff,#7600ff,#6f00ff,#6d00ff,#6e00ff,#7100ff,#7600ff,#7b02ff,#7f04ff,#8104ff,#7f02ff,#7a00ff,#7000ff,#6300ff,#5400ff,#4300ff,#3305ff,#241aff,#1736ff,#0c56ff,#0478ff,#0099fe,#00b7fc,#00d2f7,#00e8f0,#00f9e5,#01ffd7,#02ffc4,#02ffae,#02ff97,#01ff7e,#00fe65,#00fd4d,#00fd36,#00fe23,#00ff13,#02ff08,#0aff02,#15ff00,#23ff00,#34ff00,#49ff00,#61ff01,#7aff01,#93ff00,#abff00,#bfff00,#d0ff00,#deff00,#e9ff00,#f1ff00,#f7ff00,#fafe00,#fdfc00,#fefa00,#fff600,#fff200,#ffec00,#ffe600,#ffdf00,#ffd700,#ffcf00,#ffc600,#ffbe00,#ffb600,#ffaf00,#ffa900,#ffa400,#ff9f00,#ff9b00,#ff9800,#ff9400,#ff9000,#ff8c00,#ff8700,#ff8200,#ff7d00,#ff7800,#ff7300,#ff6d00,#ff6600,#ff6500)"></i>
<i style="background:linear-gradient(90deg,#7400ff,#7200ff,#6b00ff,#6900ff,#6b00ff,#7000ff,#7501ff,#7c02ff,#8104ff,#8404ff,#8302ff,#7e00ff,#7400ff,#6700ff,#5700ff,#4600ff,#3505ff,#251bff,#1838ff,#0d58ff,#047aff,#009bfe,#00b9fc,#00d3f8,#00e8f1,#00f8e6,#01ffd8,#02ffc5,#02ffaf,#02ff97,#01ff7e,#00fe64,#00fd4c,#00fd35,#00fe21,#00ff11,#03ff07,#0bff01,#17ff00,#26ff00,#39ff00,#4eff00,#66ff01,#7eff01,#97ff01,#adff00,#c1ff00,#d2ff00,#dfff00,#e9ff00,#f1ff00,#f7ff00,#fbfd00,#fdfc00,#fef900,#fff600,#fff100,#ffeb00,#ffe500,#ffde00,#ffd600,#ffce00,#ffc500,#ffbd00,#ffb500,#ffae00,#ffa800,#ffa300,#ff9f00,#ff9b00,#ff9700,#ff9300,#ff8f00,#ff8b00,#ff8600,#ff8100,#ff7c00,#ff7700,#ff7100,#ff6b00,#ff6500,#ff6400)"></i>
<i style="background:linear-gradient(90deg,#7000ff,#6e00ff,#6700ff,#6600ff,#6900ff,#6e00ff,#7501ff,#7c03ff,#8204ff,#8604ff,#8603ff,#8100ff,#7700ff,#6900ff,#5900ff,#4700ff,#3605ff,#261cff,#1839ff,#0d5aff,#047dff,#009dff,#00bbfc,#00d4f8,#00e8f1,#00f8e7,#01ffd9,#02ffc6,#02ffb0,#02ff98,#01ff7e,#00fe64,#00fd4b,#00fd34,#00fe20,#00ff10,#03ff05,#0dff00,#1aff00,#2bff00,#3eff00,#53ff01,#6bff01,#83ff01,#9aff01,#b0ff00,#c3ff00,#d3ff00,#e0ff00,#eaff00,#f2ff00,#f7ff00,#fbfd00,#fdfb00,#fef900,#fff500,#fff000,#ffea00,#ffe400,#ffdd00,#ffd500,#ffcc00,#ffc400,#ffbc00,#ffb400,#ffad00,#ffa700,#ffa200,#ff9e00,#ff9a00,#ff9600,#ff9200,#ff8e00,#ff8a00,#ff8500,#ff8000,#ff7b00,#ff7500,#ff7000,#ff6a00,#ff6400,#ff6300)"></i>
<i style="background:linear-gradient(90deg,#6c00ff,#6a00ff,#6300ff,#6300ff,#6600ff,#6c00ff,#7401ff,#7c03ff,#8304ff,#8704ff,#8803ff,#8300ff,#7900ff,#6b00ff,#5a00ff,#4800ff,#3605ff,#261cff,#183aff,#0d5cff,#047fff,#00a0ff,#00bcfc,#00d5f9,#00e9f2,#00f7e8,#01ffda,#02ffc7,#02ffb1,#02ff99,#01ff7f,#00fe65,#00fd4b,#00fd34,#00fe1f,#00ff0f,#04ff04,#0fff00,#1eff00,#2fff00,#43ff00,#59ff01,#70ff01,#87ff01,#9eff01,#b2ff00,#c5ff00,#d4ff00,#e1ff00,#ebff00,#f2ff00,#f8ff00,#fbfd00,#fefb00,#fff800,#fff400,#ffef00,#ffe900,#ffe300,#ffdb00,#ffd300,#ffcb00,#ffc300,#ffbb00,#ffb300,#ffad00,#ffa700,#ffa200,#ff9e00,#ff9a00,#ff9600,#ff9200,#ff8d00,#ff8800,#ff8400,#ff7e00,#ff7900,#ff7400,#ff6f00,#ff6900,#ff6400,#ff6300)"></i>
<i style="background:linear-gradient(90deg,#6800ff,#6600ff,#6000ff,#6000ff,#6400ff,#6b00ff,#7301ff,#7c03ff,#8304ff,#8804ff,#8903ff,#8400ff,#7a00ff,#6b00ff,#5a00ff,#4800ff,#3605ff,#261cff,#183bff,#0d5dff,#0480ff,#00a1ff,#00befd,#00d6f9,#00e9f3,#00f7e9,#01ffdb,#02ffc8,#03ffb2,#02ff9a,#01ff80,#00fe65,#00fd4b,#00fd33,#00fe1e,#00ff0e,#05ff03,#11ff00,#21ff00,#34ff00,#49ff00,#5fff01,#76ff01,#8cff01,#a1ff01,#b5ff00,#c6ff00,#d5ff00,#e1ff00,#ebff00,#f3ff00,#f8ff00,#fcfd00,#fefb00,#fff700,#fff300,#ffee00,#ffe800,#ffe100,#ffda00,#ffd200,#ffca00,#ffc200,#ffba00,#ffb300,#ffac00,#ffa600,#ffa100,#ff9d00,#ff9900,#ff9500,#ff9100,#ff8c00,#ff8700,#ff8200,#ff7d00,#ff7800,#ff7200,#ff6d00,#ff6800,#ff6300,#ff6200)"></i>
<i style="background:linear-gradient(90deg,#6400ff,#6200ff,#5d00ff,#5d00ff,#6100ff,#6900ff,#7201ff,#7b03ff,#8304ff,#8805ff,#8903ff,#8500ff,#7a00ff,#6b00ff,#5a00ff,#4700ff,#3505ff,#251dff,#183cff,#0c5fff,#0482ff,#00a3ff,#00c0fd,#00d7f9,#00eaf3,#00f7e9,#01ffdc,#02ffc9,#03ffb3,#02ff9b,#01ff81,#00fe66,#00fe4c,#00fe33,#00fe1e,#00ff0d,#06ff01,#14ff00,#25ff00,#39ff00,#4fff00,#65ff01,#7bff02,#91ff02,#a5ff01,#b7ff00,#c8ff00,#d6ff00,#e2ff00,#ecff00,#f3ff00,#f9fe00,#fcfd00,#fefa00,#fff700,#fff300,#ffed00,#ffe700,#ffe000,#ffd900,#ffd100,#ffc900,#ffc100,#ffb900,#ffb200,#ffab00,#ffa500,#ffa100,#ff9c00,#ff9800,#ff9400,#ff9000,#ff8b00,#ff8600,#ff8100,#ff7b00,#ff7600,#ff7100,#ff6c00,#ff6700,#ff6300,#ff6200)"></i>
<i style="background:linear-gradient(90deg,#6000ff,#5e00ff,#5900ff,#5a00ff,#5f00ff,#6700ff,#7001ff,#7a03ff,#8205ff,#8705ff,#8903ff,#8400ff,#7900ff,#6a00ff,#5900ff,#4600ff,#3404ff,#251dff,#173cff,#0c60ff,#0484ff,#00a5ff,#00c1fd,#00d8f9,#00eaf3,#00f8ea,#01ffdc,#02ffca,#03ffb5,#03ff9c,#01ff82,#00fe67,#00fe4c,#00fe33,#00fe1d,#00ff0c,#07ff00,#16ff00,#29ff00,#3eff00,#55ff00,#6cff01,#81ff02,#96ff02,#a8ff01,#baff00,#c9ff00,#d7ff00,#e2ff00,#ecff00,#f4ff00,#f9fe00,#fcfd00,#fefa00,#fff600,#fff200,#ffec00,#ffe600,#ffdf00,#ffd700,#ffd000,#ffc800,#ffc000,#ffb800,#ffb100,#ffaa00,#ffa500,#ffa000,#ff9c00,#ff9700,#ff9300,#ff8f00,#ff8a00,#ff8500,#ff7f00,#ff7a00,#ff7500,#ff7000,#ff6b00,#ff6600,#ff6200,#ff6100)"></i>
<i style="background:linear-gradient(90deg,#5d00ff,#5b00ff,#5600ff,#5700ff,#5d00ff,#6500ff,#6f01ff,#7903ff,#8105ff,#8605ff,#8703ff,#8300ff,#7800ff,#6900ff,#5700ff,#4500ff,#3304ff,#231dff,#163dff,#0c61ff,#0485ff,#00a6ff,#00c2fd,#00d9fa,#00ebf4,#00f8eb,#01ffdd,#02ffcb,#03ffb6,#03ff9d,#01ff83,#00fe68,#00fe4d,#00fe33,#00fe1d,#00ff0b,#08ff00,#18ff00,#2cff00,#43ff00,#5bff00,#72ff01,#87ff02,#9aff02,#acff01,#bcff00,#cbff00,#d8ff00,#e3ff00,#edff00,#f4ff00,#f9fe00,#fdfc00,#fef900,#fff600,#fff100,#ffeb00,#ffe500,#ffde00,#ffd600,#ffce00,#ffc600,#ffbf00,#ffb700,#ffb000,#ffaa00,#ffa400,#ff9f00,#ff9b00,#ff9700,#ff9200,#ff8e00,#ff8900,#ff8300,#ff7e00,#ff7800,#ff7300,#ff6e00,#ff6a00,#ff6500,#ff6200,#ff6100)"></i>
<i style="background:linear-gradient(90deg,#5900ff,#5800ff,#5300ff,#5500ff,#5b00ff,#6300ff,#6d01ff,#7703ff,#7f05ff,#8405ff,#8503ff,#8100ff,#7600ff,#6700ff,#5500ff,#4200ff,#3104ff,#221dff,#153eff,#0b62ff,#0386ff,#00a8ff,#00c3fd,#00dafa,#00ecf4,#00f8eb,#01ffde,#02ffcc,#03ffb7,#03ff9e,#01ff84,#00fe69,#00fe4d,#00fe33,#00fe1c,#00ff0a,#08ff00,#1aff00,#30ff00,#48ff00,#61ff00,#78ff01,#8cff02,#9fff02,#afff01,#beff00,#ccff00,#d8ff00,#e4ff00,#edff00,#f4ff00,#fafe00,#fdfc00,#fef900,#fff500,#fff000,#ffea00,#ffe300,#ffdc00,#ffd500,#ffcd00,#ffc500,#ffbd00,#ffb600,#ffaf00,#ffa900,#ffa300,#ff9f00,#ff9a00,#ff9600,#ff9100,#ff8d00,#ff8700,#ff8200,#ff7c00,#ff7700,#ff7200,#ff6d00,#ff6800,#ff6500,#ff6200,#ff6100)"></i>
<i style="background:linear-gradient(90deg,#5600ff,#5400ff,#5100ff,#5300ff,#5800ff,#6100ff,#6b01ff,#7503ff,#7d05ff,#8205ff,#8303ff,#7e00ff,#7300ff,#6400ff,#5200ff,#4000ff,#2f04ff,#201eff,#143eff,#0a63ff,#0387ff,#00a9ff,#00c5fd,#00dbfa,#00ecf4,#00f9eb,#01ffde,#02ffcc,#03ffb7,#03ff9f,#02ff85,#00fe69,#00fe4d,#00fe33,#00fe1c,#00ff09,#09ff00,#1bff00,#33ff00,#4cff00,#66ff00,#7dff01,#91ff02,#a3ff02,#b2ff01,#c0ff00,#cdff00,#d9ff00,#e4ff00,#edff00,#f5ff00,#fafe00,#fdfc00,#fff800,#fff400,#ffef00,#ffe900,#ffe200,#ffdb00,#ffd300,#ffcb00,#ffc400,#ffbc00,#ffb500,#ffae00,#ffa800,#ffa300,#ff9e00,#ff9900,#ff9500,#ff9000,#ff8b00,#ff8600,#ff8100,#ff7b00,#ff7600,#ff7000,#ff6c00,#ff6700,#ff6400,#ff6100,#ff6100)"></i>
<i style="background:linear-gradient(90deg,#5300ff,#5100ff,#4e00ff,#5000ff,#5600ff,#5f00ff,#6901ff,#7203ff,#7a05ff,#7f05ff,#8003ff,#7b00ff,#7000ff,#6100ff,#4f00ff,#3d00ff,#2c04ff,#1e1eff,#123fff,#0964ff,#0388ff,#00aaff,#00c6fd,#00dcfa,#00edf4,#00f9eb,#01ffde,#02ffcd,#03ffb7,#03ff9f,#02ff85,#00fe69,#00fe4d,#00fe32,#00fe1b,#00ff09,#09ff00,#1dff00,#35ff00,#50ff00,#6aff00,#82ff01,#96ff02,#a7ff02,#b5ff01,#c2ff00,#cfff00,#daff00,#e5ff00,#eeff00,#f5ff00,#fafe00,#fdfc00,#fff800,#fff400,#ffee00,#ffe800,#ffe100,#ffda00,#ffd200,#ffca00,#ffc200,#ffbb00,#ffb400,#ffad00,#ffa700,#ffa200,#ff9d00,#ff9800,#ff9400,#ff8f00,#ff8a00,#ff8500,#ff7f00,#ff7a00,#ff7400,#ff6f00,#ff6a00,#ff6600,#ff6300,#ff6100,#ff6100)"></i>
<i style="background:linear-gradient(90deg,#5000ff,#4f00ff,#4c00ff,#4e00ff,#5400ff,#5d00ff,#6601ff,#7003ff,#7705ff,#7c05ff,#7d03ff,#7700ff,#6c00ff,#5d00ff,#4c00ff,#3a00ff,#2905ff,#1c1eff,#1140ff,#0964ff,#0389ff,#00abff,#00c6fd,#00ddfa,#00edf4,#00f9eb,#01ffde,#02ffcc,#03ffb7,#03ff9f,#02ff84,#00fe68,#00fe4c,#00fe32,#00fe1a,#00ff08,#09ff00,#1eff00,#37ff00,#53ff00,#6eff00,#86ff01,#9aff02,#aaff02,#b8ff01,#c4ff00,#d0ff00,#dbff00,#e5ff00,#eeff00,#f6ff00,#fbfe00,#fefb00,#fff800,#fff300,#ffed00,#ffe700,#ffe000,#ffd800,#ffd000,#ffc800,#ffc100,#ffb900,#ffb200,#ffac00,#ffa600,#ffa100,#ff9c00,#ff9800,#ff9300,#ff8f00,#ff8900,#ff8400,#ff7e00,#ff7800,#ff7300,#ff6e00,#ff6900,#ff6500,#ff6200,#ff6100,#ff6100)"></i>
<i style="background:linear-gradient(90deg,#4e00ff,#4d00ff,#4a00ff,#4c00ff,#5200ff,#5a00ff,#6401ff,#6d03ff,#7405ff,#7905ff,#7903ff,#7300ff,#6800ff,#5900ff,#4800ff,#3600ff,#2605ff,#191fff,#0f40ff,#0865ff,#028aff,#00abff,#00c7fd,#00ddfa,#00eef5,#00faeb,#01ffde,#02ffcc,#03ffb6,#03ff9d,#02ff83,#00fe67,#00fe4b,#00fe30,#00fe19,#00ff08,#09ff00,#1eff00,#38ff00,#55ff00,#71ff00,#89ff01,#9dff02,#adff02,#baff01,#c6ff00,#d1ff00,#dcff00,#e6ff00,#efff00,#f6ff00,#fbfe00,#fefb00,#fff700,#fff200,#ffed00,#ffe600,#ffdf00,#ffd700,#ffcf00,#ffc700,#ffbf00,#ffb800,#ffb100,#ffab00,#ffa500,#ffa000,#ff9b00,#ff9700,#ff9200,#ff8e00,#ff8900,#ff8300,#ff7d00,#ff7700,#ff7200,#ff6d00,#ff6800,#ff6400,#ff6200,#ff6000,#ff6000)"></i>
<i style="background:linear-gradient(90deg,#4c00ff,#4b00ff,#4800ff,#4a00ff,#5000ff,#5800ff,#6101ff,#6903ff,#7005ff,#7505ff,#7503ff,#6f00ff,#6400ff,#5500ff,#4400ff,#3200ff,#2306ff,#1720ff,#0e41ff,#0766ff,#028bff,#00acff,#00c8fd,#00defa,#00eef4,#00faeb,#01ffdd,#02ffcb,#03ffb5,#03ff9b,#02ff80,#00fe64,#00fe49,#00fe2f,#00fe18,#00ff07,#08ff00,#1eff00,#39ff00,#56ff00,#73ff00,#8bff01,#9fff02,#afff02,#bcff01,#c7ff00,#d2ff00,#ddff00,#e7ff00,#efff00,#f6ff00,#fbfe00,#fefb00,#fff700,#fff200,#ffec00,#ffe500,#ffde00,#ffd600,#ffce00,#ffc600,#ffbe00,#ffb600,#ffaf00,#ffa900,#ffa300,#ff9e00,#ff9a00,#ff9600,#ff9100,#ff8d00,#ff8800,#ff8200,#ff7c00,#ff7600,#ff7100,#ff6c00,#ff6700,#ff6400,#ff6100,#ff6000,#ff6000)"></i>
<i style="background:linear-gradient(90deg,#4a00ff,#4900ff,#4600ff,#4800ff,#4d00ff,#5500ff,#5e01ff,#6603ff,#6d04ff,#7004ff,#7003ff,#6a00ff,#5f00ff,#5000ff,#3f00ff,#2f00ff,#2007ff,#1520ff,#0c42ff,#0666ff,#028bff,#00acff,#00c8fd,#00defa,#00eff4,#00faeb,#01ffdc,#02ffc9,#03ffb2,#03ff99,#02ff7d,#00fe61,#00fe46,#00fe2d,#00fe17,#00ff06,#07ff00,#1dff00,#39ff00,#56ff00,#73ff00,#8cff01,#a0ff02,#b0ff02,#bdff01,#c9ff00,#d3ff00,#deff00,#e8ff00,#f0ff00,#f7ff00,#fcfe00,#fefb00,#fff700,#fff100,#ffeb00,#ffe400,#ffdd00,#ffd500,#ffcc00,#ffc400,#ffbc00,#ffb500,#ffae00,#ffa700,#ffa200,#ff9d00,#ff9900,#ff9500,#ff9000,#ff8c00,#ff8700,#ff8100,#ff7b00,#ff7600,#ff7000,#ff6b00,#ff6600,#ff6300,#ff6100,#ff6000,#ff6000)"></i>
<i style="background:linear-gradient(90deg,#4900ff,#4800ff,#4500ff,#4600ff,#4b00ff,#5200ff,#5a01ff,#6203ff,#6804ff,#6c04ff,#6b02ff,#6600ff,#5a00ff,#4b00ff,#3b00ff,#2b00ff,#1d07ff,#1221ff,#0a42ff,#0567ff,#028bff,#00adff,#00c8fe,#00defa,#00eff4,#00faea,#01ffdb,#02ffc7,#03ffaf,#04ff95,#02ff79,#00fe5d,#00fe43,#00fe2a,#00fe16,#00ff06,#06ff00,#1cff00,#37ff00,#55ff00,#72ff00,#8bff01,#a0ff02,#b0ff02,#beff01,#caff00,#d5ff00,#dfff00,#e9ff00,#f1ff00,#f8ff00,#fcfe00,#fffa00,#fff600,#fff100,#ffeb00,#ffe400,#ffdc00,#ffd300,#ffcb00,#ffc300,#ffbb00,#ffb300,#ffac00,#ffa600,#ffa000,#ff9b00,#ff9700,#ff9300,#ff8f00,#ff8b00,#ff8600,#ff8100,#ff7b00,#ff7500,#ff6f00,#ff6a00,#ff6500,#ff6200,#ff6000,#ff5f00,#ff6000)"></i>
<i style="background:linear-gradient(90deg,#4800ff,#4700ff,#4300ff,#4400ff,#4900ff,#4f00ff,#5701ff,#5e02ff,#6404ff,#6704ff,#6602ff,#6000ff,#5500ff,#4700ff,#3600ff,#2700ff,#1909ff,#0f22ff,#0943ff,#0468ff,#018cff,#00adff,#00c8fe,#00defa,#00eff4,#00fbea,#01ffda,#02ffc5,#03ffac,#04ff91,#02ff74,#00fe58,#00fe3e,#00fe27,#00fe14,#00ff05,#04ff00,#1aff00,#36ff00,#53ff00,#71ff00,#8aff01,#9fff02,#b0ff02,#beff01,#cbff00,#d6ff00,#e0ff00,#eaff00,#f2ff00,#f8ff00,#fcfd00,#fffa00,#fff600,#fff100,#ffea00,#ffe300,#ffdb00,#ffd200,#ffca00,#ffc100,#ffb900,#ffb100,#ffaa00,#ffa400,#ff9e00,#ff9a00,#ff9600,#ff9200,#ff8f00,#ff8a00,#ff8600,#ff8000,#ff7a00,#ff7400,#ff6f00,#ff6900,#ff6500,#ff6100,#ff5f00,#ff5f00,#ff5f00)"></i>
<i style="background:linear-gradient(90deg,#4700ff,#4600ff,#4200ff,#4200ff,#4600ff,#4c00ff,#5300ff,#5a02ff,#5f03ff,#6203ff,#6102ff,#5b00ff,#5000ff,#4200ff,#3200ff,#2300ff,#160aff,#0d24ff,#0744ff,#0368ff,#018cff,#00adff,#00c8fe,#00defa,#00eff4,#00fbe9,#01ffd8,#02ffc2,#03ffa8,#04ff8c,#02ff6f,#00fe53,#00fe3a,#00fe24,#00fe12,#00ff04,#03ff00,#18ff00,#33ff00,#51ff00,#6eff00,#88ff01,#9eff02,#afff02,#beff01,#cbff00,#d7ff00,#e2ff00,#ebff00,#f3ff00,#f9ff00,#fdfd00,#fffa00,#fff600,#fff000,#ffea00,#ffe200,#ffda00,#ffd200,#ffc900,#ffc000,#ffb700,#ffaf00,#ffa800,#ffa200,#ff9c00,#ff9800,#ff9400,#ff9100,#ff8e00,#ff8a00,#ff8500,#ff8000,#ff7a00,#ff7400,#ff6e00,#ff6900,#ff6400,#ff6100,#ff5f00,#ff5f00,#ff5f00)"></i>
<i style="background:linear-gradient(90deg,#4700ff,#4500ff,#4100ff,#4100ff,#4400ff,#4900ff,#5000ff,#5602ff,#5b03ff,#5d03ff,#5c01ff,#5600ff,#4b00ff,#3d00ff,#2d00ff,#1e00ff,#130cff,#0a25ff,#0545ff,#0269ff,#018cff,#00adff,#00c8fe,#00defa,#00eff4,#00fbe8,#01ffd6,#02ffbf,#03ffa4,#03ff86,#02ff69,#00fe4d,#00fd35,#00fd20,#00fe10,#00ff04,#02ff00,#17ff00,#31ff00,#4eff00,#6cff00,#86ff01,#9cff02,#afff02,#beff01,#ccff00,#d8ff00,#e3ff00,#ecff00,#f4ff00,#f9ff00,#fdfd00,#fffa00,#fff500,#fff000,#ffea00,#ffe200,#ffda00,#ffd100,#ffc700,#ffbe00,#ffb600,#ffae00,#ffa600,#ffa000,#ff9a00,#ff9600,#ff9300,#ff9000,#ff8d00,#ff8900,#ff8500,#ff7f00,#ff7a00,#ff7400,#ff6e00,#ff6800,#ff6400,#ff6000,#ff5e00,#ff5e00,#ff5e00)"></i>
<i style="background:linear-gradient(90deg,#4700ff,#4500ff,#4000ff,#3f00ff,#4200ff,#4600ff,#4c00ff,#5202ff,#5603ff,#5802ff,#5601ff,#5000ff,#4500ff,#3700ff,#2900ff,#1b00ff,#0f0dff,#0827ff,#0346ff,#016aff,#008dff,#00adff,#00c8fe,#00defa,#00eff3,#00fbe7,#00ffd5,#02ffbc,#03ff9f,#03ff80,#02ff62,#00fe47,#00fd30,#00fd1d,#00fe0e,#00ff03,#01ff00,#15ff00,#2fff00,#4cff00,#69ff00,#83ff01,#9aff01,#aeff01,#beff01,#cdff00,#daff00,#e4ff00,#edff00,#f5ff00,#faff00,#fefd00,#fff900,#fff500,#fff000,#ffe900,#ffe200,#ffd900,#ffd000,#ffc600,#ffbd00,#ffb400,#ffac00,#ffa400,#ff9e00,#ff9800,#ff9400,#ff9100,#ff8e00,#ff8c00,#ff8800,#ff8400,#ff7f00,#ff7900,#ff7300,#ff6d00,#ff6800,#ff6300,#ff6000,#ff5e00,#ff5e00,#ff5e00)"></i>
<i style="background:linear-gradient(90deg,#4700ff,#4500ff,#3f00ff,#3e00ff,#3f00ff,#4300ff,#4800ff,#4d02ff,#5102ff,#5302ff,#5101ff,#4b00ff,#4000ff,#3200ff,#2400ff,#1700ff,#0c0fff,#0628ff,#0248ff,#006aff,#008dff,#00adff,#00c8fe,#00defa,#00eef3,#00fae6,#00ffd3,#02ffb9,#03ff9a,#03ff7b,#02ff5c,#00fe41,#00fd2b,#00fd19,#00fe0c,#00ff03,#01ff00,#15ff00,#2eff00,#4aff00,#66ff00,#81ff01,#98ff01,#adff01,#bfff01,#ceff00,#dbff00,#e6ff00,#efff00,#f6ff00,#fbfe00,#fefc00,#fff900,#fff500,#ffef00,#ffe900,#ffe100,#ffd800,#ffcf00,#ffc500,#ffbc00,#ffb200,#ffaa00,#ffa200,#ff9c00,#ff9600,#ff9200,#ff8f00,#ff8d00,#ff8a00,#ff8700,#ff8300,#ff7e00,#ff7900,#ff7300,#ff6d00,#ff6800,#ff6300,#ff5f00,#ff5d00,#ff5d00,#ff5d00)"></i>
<i style="background:linear-gradient(90deg,#4700ff,#4500ff,#3e00ff,#3c00ff,#3d00ff,#4000ff,#4500ff,#4901ff,#4c02ff,#4d02ff,#4b00ff,#4500ff,#3b00ff,#2d00ff,#2000ff,#1301ff,#0911ff,#032aff,#0049ff,#006bff,#008eff,#00adff,#00c8fe,#00ddfa,#00eef3,#00fae5,#00ffd1,#02ffb5,#03ff96,#03ff75,#02ff56,#00fe3b,#00fd25,#00fd15,#00fe0a,#00ff02,#02ff00,#15ff00,#2dff00,#48ff00,#65ff00,#7fff00,#97ff01,#acff01,#bfff01,#cfff00,#dcff00,#e7ff00,#f0ff00,#f7ff00,#fcfe00,#fefc00,#fff900,#fff400,#ffef00,#ffe800,#ffe100,#ffd800,#ffce00,#ffc400,#ffba00,#ffb100,#ffa800,#ffa000,#ff9a00,#ff9400,#ff9000,#ff8e00,#ff8c00,#ff8900,#ff8700,#ff8300,#ff7e00,#ff7800,#ff7300,#ff6d00,#ff6700,#ff6300,#ff5f00,#ff5d00,#ff5c00,#ff5d00)"></i>
<i style="background:linear-gradient(90deg,#4700ff,#4400ff,#3d00ff,#3b00ff,#3b00ff,#3d00ff,#4100ff,#4401ff,#4702ff,#4801ff,#4600ff,#3f00ff,#3500ff,#2900ff,#1b00ff,#1003ff,#0714ff,#012cff,#004bff,#006dff,#008eff,#00adff,#00c8fe,#00ddfa,#00eef2,#00fae4,#00ffcf,#01ffb2,#02ff91,#03ff6f,#01ff4f,#00fe35,#00fd20,#00fd12,#00fe08,#00ff02,#04ff00,#16ff00,#2dff00,#48ff00,#64ff00,#7eff00,#96ff01,#acff01,#bfff00,#d0ff00,#deff00,#e9ff00,#f1ff00,#f8fe00,#fcfd00,#fffb00,#fff800,#fff400,#ffef00,#ffe800,#ffe000,#ffd700,#ffcd00,#ffc300,#ffb900,#ffaf00,#ffa700,#ff9f00,#ff9800,#ff9200,#ff8f00,#ff8c00,#ff8a00,#ff8800,#ff8600,#ff8200,#ff7d00,#ff7800,#ff7200,#ff6c00,#ff6700,#ff6200,#ff5f00,#ff5c00,#ff5c00,#ff5c00)"></i>
<i style="background:linear-gradient(90deg,#4600ff,#4400ff,#3d00ff,#3900ff,#3900ff,#3a00ff,#3d00ff,#4001ff,#4201ff,#4301ff,#4000ff,#3a00ff,#3000ff,#2400ff,#1700ff,#0c06ff,#0416ff,#002eff,#004dff,#006eff,#008fff,#00aeff,#00c8fe,#00ddfa,#00eef2,#00fae3,#00ffcd,#01ffaf,#02ff8d,#02ff6a,#01ff4a,#00fe2f,#00fd1c,#00fd0e,#00fe06,#00ff01,#06ff00,#18ff00,#2fff00,#49ff00,#64ff00,#7eff00,#96ff01,#adff01,#c0ff00,#d1ff00,#dfff00,#eaff00,#f3ff00,#f9fe00,#fdfc00,#fffa00,#fff700,#fff300,#ffee00,#ffe800,#ffe000,#ffd700,#ffcd00,#ffc200,#ffb800,#ffae00,#ffa500,#ff9d00,#ff9600,#ff9100,#ff8d00,#ff8a00,#ff8900,#ff8700,#ff8500,#ff8100,#ff7d00,#ff7700,#ff7200,#ff6c00,#ff6700,#ff6200,#ff5e00,#ff5c00,#ff5b00,#ff5c00)"></i>
<i style="background:linear-gradient(90deg,#4600ff,#4400ff,#3c00ff,#3800ff,#3700ff,#3800ff,#3a00ff,#3c01ff,#3d01ff,#3d01ff,#3b00ff,#3500ff,#2b00ff,#2000ff,#1400ff,#0908ff,#0219ff,#0031ff,#004fff,#006fff,#0090ff,#00aeff,#01c8fe,#01ddfa,#00eef1,#00fae2,#00ffcb,#01ffac,#01ff89,#02ff65,#01ff44,#00fe2a,#00fe17,#00fe0b,#00fe04,#00ff01,#0aff00,#1cff00,#32ff00,#4bff00,#65ff00,#7fff00,#97ff00,#aeff00,#c2ff00,#d3ff00,#e1ff00,#ecff00,#f4fe00,#fafd00,#fdfc00,#fffa00,#fff700,#fff300,#ffee00,#ffe700,#ffdf00,#ffd600,#ffcc00,#ffc100,#ffb700,#ffad00,#ffa400,#ff9b00,#ff9400,#ff8f00,#ff8b00,#ff8900,#ff8700,#ff8600,#ff8300,#ff8000,#ff7c00,#ff7700,#ff7100,#ff6c00,#ff6600,#ff6200,#ff5e00,#ff5c00,#ff5b00,#ff5b00)"></i>
<i style="background:linear-gradient(90deg,#4600ff,#4300ff,#3b00ff,#3700ff,#3500ff,#3500ff,#3600ff,#3801ff,#3901ff,#3801ff,#3500ff,#2f00ff,#2600ff,#1b00ff,#1001ff,#070bff,#001bff,#0033ff,#0051ff,#0071ff,#0091ff,#00afff,#01c8fe,#01ddfa,#00eef1,#00fae2,#00ffca,#00ffaa,#01ff86,#01ff61,#01ff40,#00fe26,#00fe14,#00fe09,#00fe03,#05ff01,#10ff00,#21ff00,#37ff00,#4fff00,#68ff00,#82ff00,#9aff00,#b0ff00,#c4ff00,#d5ff00,#e3ff00,#edfe00,#f5fe00,#fafd00,#fefb00,#fff900,#fff600,#fff200,#ffed00,#ffe700,#ffdf00,#ffd500,#ffcb00,#ffc000,#ffb600,#ffac00,#ffa200,#ff9a00,#ff9300,#ff8e00,#ff8a00,#ff8700,#ff8600,#ff8400,#ff8200,#ff7f00,#ff7b00,#ff7600,#ff7000,#ff6b00,#ff6600,#ff6100,#ff5e00,#ff5b00,#ff5a00,#ff5a00)"></i>
<i style="background:linear-gradient(90deg,#4500ff,#4300ff,#3b00ff,#3600ff,#3300ff,#3300ff,#3300ff,#3401ff,#3401ff,#3301ff,#3001ff,#2a00ff,#2100ff,#1700ff,#0d04ff,#040dff,#001eff,#0036ff,#0053ff,#0073ff,#0093ff,#00b0ff,#01c9fe,#01def9,#01eef0,#00fae1,#00ffc8,#00ffa8,#00ff83,#00ff5e,#00ff3c,#00fe22,#00fe11,#00fe07,#04fe02,#0bff00,#17ff00,#29ff00,#3eff00,#55ff00,#6eff00,#86ff00,#9dff00,#b3ff00,#c7ff00,#d7ff00,#e5ff00,#effe00,#f6fd00,#fbfc00,#fefa00,#fff800,#fff500,#fff100,#ffec00,#ffe600,#ffde00,#ffd500,#ffca00,#ffbf00,#ffb500,#ffaa00,#ffa100,#ff9900,#ff9200,#ff8c00,#ff8900,#ff8600,#ff8400,#ff8300,#ff8100,#ff7e00,#ff7a00,#ff7500,#ff7000,#ff6a00,#ff6500,#ff6100,#ff5d00,#ff5b00,#ff5a00,#ff5a00)"></i>
<i style="background:linear-gradient(90deg,#4400ff,#4200ff,#3a00ff,#3500ff,#3200ff,#3000ff,#3000ff,#3001ff,#3001ff,#2e01ff,#2b01ff,#2501ff,#1d00ff,#1402ff,#0b06ff,#0310ff,#0021ff,#0039ff,#0056ff,#0075ff,#0094ff,#00b1ff,#01cafd,#01def9,#01eef0,#00fae0,#00ffc7,#00ffa6,#00ff81,#00ff5b,#00ff39,#00fe1f,#02fe0f,#05fe05,#0afe01,#13ff00,#20ff00,#32ff00,#47ff00,#5dff00,#75ff00,#8dff00,#a3ff00,#b8ff00,#caff00,#daff00,#e7ff00,#f0fe00,#f7fc00,#fcfb00,#fef900,#fff600,#fff400,#fff000,#ffeb00,#ffe500,#ffdd00,#ffd400,#ffc900,#ffbf00,#ffb400,#ffaa00,#ffa000,#ff9800,#ff9100,#ff8b00,#ff8700,#ff8500,#ff8300,#ff8100,#ff7f00,#ff7c00,#ff7800,#ff7300,#ff6e00,#ff6900,#ff6500,#ff6000,#ff5d00,#ff5a00,#ff5a00,#ff5a00)"></i>
<i style="background:linear-gradient(90deg,#4300ff,#4100ff,#3900ff,#3400ff,#3000ff,#2e00ff,#2d00ff,#2c01ff,#2b01ff,#2902ff,#2602ff,#2002ff,#1902ff,#1004ff,#0809ff,#0113ff,#0024ff,#003cff,#0059ff,#0078ff,#0096ff,#00b3fe,#01cbfd,#02dff9,#01eff0,#00fadf,#00ffc7,#00ffa5,#00ff7f,#00ff5a,#00ff38,#01fe1e,#04fe0d,#0afe04,#11fe01,#1cff00,#2bff00,#3dff00,#52ff00,#68ff00,#7fff00,#95ff00,#aaff00,#bdff00,#cfff00,#ddff00,#e9fe00,#f2fd00,#f8fc00,#fcfa00,#fff800,#fff500,#fff200,#ffef00,#ffea00,#ffe400,#ffdc00,#ffd300,#ffc900,#ffbe00,#ffb300,#ffa900,#ff9f00,#ff9700,#ff9000,#ff8b00,#ff8700,#ff8400,#ff8200,#ff8000,#ff7d00,#ff7a00,#ff7600,#ff7200,#ff6d00,#ff6800,#ff6400,#ff6000,#ff5d00,#ff5a00,#ff5900,#ff5900)"></i>
<i style="background:linear-gradient(90deg,#4200ff,#4000ff,#3800ff,#3300ff,#2f00ff,#2d00ff,#2b00ff,#2901ff,#2702ff,#2502ff,#2103ff,#1c03ff,#1504ff,#0d06ff,#060cff,#0016ff,#0028ff,#003fff,#005cff,#007aff,#0099fe,#01b4fe,#01ccfc,#02e0f8,#01efef,#01fadf,#00ffc6,#00ffa4,#00ff7f,#00ff59,#00ff37,#02fe1d,#07fe0d,#0ffe04,#19fe00,#27ff00,#37ff00,#4aff01,#5eff00,#74ff00,#89ff00,#9eff00,#b2ff00,#c4ff00,#d3ff00,#e1ff00,#ebfe00,#f3fd00,#f9fb00,#fdf900,#fff600,#fff400,#fff100,#ffee00,#ffe900,#ffe300,#ffdb00,#ffd200,#ffc800,#ffbd00,#ffb200,#ffa800,#ff9f00,#ff9700,#ff9000,#ff8a00,#ff8600,#ff8300,#ff8000,#ff7e00,#ff7c00,#ff7800,#ff7500,#ff7000,#ff6c00,#ff6700,#ff6300,#ff5f00,#ff5c00,#ff5a00,#ff5900,#ff5900)"></i>
<i style="background:linear-gradient(90deg,#4000ff,#3e00ff,#3700ff,#3200ff,#2e00ff,#2b00ff,#2800ff,#2601ff,#2302ff,#2003ff,#1d04ff,#1804ff,#1105ff,#0b08ff,#040eff,#001aff,#002bff,#0043ff,#005fff,#007dfe,#009bfe,#01b6fd,#02cefc,#02e1f8,#02f0ee,#01fade,#00ffc5,#00ffa4,#00ff7e,#00ff58,#00ff36,#03fe1d,#0afe0c,#15fe04,#22fe00,#32ff00,#43ff00,#57ff01,#6cff01,#81ff00,#96ff00,#a9ff00,#bbff00,#cbff00,#d9ff00,#e4ff00,#eefe00,#f5fc00,#fafa00,#fdf800,#fff500,#fff200,#fff000,#ffec00,#ffe800,#ffe200,#ffdb00,#ffd100,#ffc700,#ffbc00,#ffb100,#ffa700,#ff9e00,#ff9600,#ff8f00,#ff8a00,#ff8500,#ff8200,#ff7f00,#ff7c00,#ff7a00,#ff7600,#ff7300,#ff6f00,#ff6a00,#ff6600,#ff6200,#ff5f00,#ff5c00,#ff5a00,#ff5800,#ff5800)"></i>
<i style="background:linear-gradient(90deg,#3e00ff,#3d00ff,#3700ff,#3100ff,#2d00ff,#2900ff,#2600ff,#2301ff,#2002ff,#1c03ff,#1805ff,#1406ff,#0e07ff,#080bff,#0311ff,#001dff,#002eff,#0046ff,#0062fe,#0080fe,#009efe,#01b8fd,#02cffc,#02e2f7,#02f0ee,#01fbde,#00ffc5,#00ffa4,#00ff7e,#00ff58,#00ff36,#04fe1d,#0dfe0d,#1bfe04,#2bfe00,#3dff00,#51ff00,#65ff01,#7aff00,#8fff00,#a2ff00,#b4ff00,#c4ff00,#d2ff00,#deff00,#e8ff00,#f0fe00,#f6fc00,#faf900,#fdf700,#fff400,#fff100,#ffee00,#ffeb00,#ffe700,#ffe100,#ffd900,#ffd000,#ffc600,#ffbb00,#ffb100,#ffa700,#ff9e00,#ff9600,#ff8f00,#ff8900,#ff8500,#ff8100,#ff7e00,#ff7b00,#ff7800,#ff7400,#ff7100,#ff6d00,#ff6900,#ff6500,#ff6100,#ff5e00,#ff5b00,#ff5900,#ff5800,#ff5800)"></i>
<i style="background:linear-gradient(90deg,#3d00ff,#3b00ff,#3600ff,#3100ff,#2c00ff,#2800ff,#2400ff,#2001ff,#1d03ff,#1904ff,#1406ff,#1007ff,#0b09ff,#060dff,#0214ff,#0020ff,#0032ff,#0049ff,#0065fe,#0083fe,#00a0fd,#01bbfd,#02d1fb,#02e3f7,#02f1ed,#01fbdd,#00ffc4,#00ffa3,#00ff7e,#00ff59,#00ff37,#04fe1e,#11fe0d,#21fe04,#34fe01,#48ff00,#5eff00,#74ff00,#89ff00,#9dff00,#b0fe00,#c0ff00,#ceff00,#daff00,#e4ff00,#ecff00,#f2fe00,#f7fc00,#fbf900,#fdf600,#fff200,#ffef00,#ffed00,#ffe900,#ffe500,#ffe000,#ffd800,#ffcf00,#ffc500,#ffba00,#ffb000,#ffa600,#ff9d00,#ff9600,#ff8f00,#ff8900,#ff8400,#ff8000,#ff7c00,#ff7900,#ff7600,#ff7200,#ff6f00,#ff6b00,#ff6700,#ff6400,#ff6000,#ff5d00,#ff5b00,#ff5900,#ff5700,#ff5700)"></i>
<i style="background:linear-gradient(90deg,#3b00ff,#3a00ff,#3500ff,#3000ff,#2b00ff,#2700ff,#2200ff,#1e02ff,#1903ff,#1505ff,#1107ff,#0c09ff,#080bff,#0410ff,#0117ff,#0023ff,#0035ff,#004dff,#0069fe,#0086fe,#00a3fd,#00bdfd,#02d3fb,#02e4f6,#02f1ed,#01fbdc,#00ffc4,#00ffa3,#00ff7e,#00ff59,#00ff38,#05ff1e,#14fe0e,#27fe05,#3cfe01,#54ff00,#6bff00,#82ff00,#98ff00,#abfe00,#bdfe00,#ccff00,#d8ff00,#e2ff00,#e9ff00,#f0ff00,#f5fe00,#f8fb00,#fbf800,#fef400,#fff100,#ffee00,#ffeb00,#ffe800,#ffe400,#ffde00,#ffd700,#ffce00,#ffc400,#ffb900,#ffaf00,#ffa600,#ff9d00,#ff9500,#ff8f00,#ff8900,#ff8400,#ff7f00,#ff7b00,#ff7700,#ff7400,#ff7000,#ff6c00,#ff6900,#ff6500,#ff6200,#ff5f00,#ff5d00,#ff5a00,#ff5800,#ff5700,#ff5700)"></i>
<i style="background:linear-gradient(90deg,#3900ff,#3800ff,#3400ff,#3000ff,#2b00ff,#2600ff,#2100ff,#1c02ff,#1704ff,#1206ff,#0d08ff,#090bff,#060dff,#0312ff,#001aff,#0026ff,#0038ff,#0050ff,#006cff,#0089fe,#00a6fd,#00bffc,#02d4fa,#03e5f5,#03f2ec,#01fbdc,#00ffc3,#00ffa3,#00ff7e,#00ff5a,#00ff39,#06ff1f,#17fe0f,#2cfe06,#45fe01,#5fff00,#78ff00,#90ff00,#a6ff00,#b9fe00,#cafe00,#d7ff00,#e1ff00,#e9ff00,#efff00,#f3ff00,#f7fe00,#fafb00,#fcf700,#fef300,#fff000,#ffec00,#ffe900,#ffe600,#ffe200,#ffdd00,#ffd600,#ffcd00,#ffc300,#ffb800,#ffae00,#ffa500,#ff9d00,#ff9500,#ff8f00,#ff8900,#ff8300,#ff7e00,#ff7a00,#ff7600,#ff7200,#ff6e00,#ff6a00,#ff6700,#ff6400,#ff6100,#ff5e00,#ff5c00,#ff5a00,#ff5800,#ff5600,#ff5600)"></i>
<i style="background:linear-gradient(90deg,#3800ff,#3700ff,#3400ff,#2f00ff,#2a00ff,#2500ff,#1f00ff,#1a02ff,#1404ff,#0f07ff,#0a09ff,#060cff,#030fff,#0114ff,#001cff,#0029ff,#003bff,#0053ff,#006fff,#008cfe,#00a9fe,#00c2fc,#02d6fa,#03e7f5,#03f3eb,#02fbdb,#00ffc2,#00ffa2,#00ff7e,#00ff5a,#00ff3a,#07ff21,#19fe10,#32fe06,#4dff02,#69ff00,#84ff00,#9dff00,#b3ff00,#c6fe00,#d6fe00,#e2ff00,#eaff00,#f0ff00,#f4ff00,#f7ff00,#f9fd00,#fbfa00,#fcf700,#fef200,#ffee00,#ffeb00,#ffe800,#ffe500,#ffe100,#ffdb00,#ffd400,#ffcb00,#ffc200,#ffb700,#ffad00,#ffa400,#ff9c00,#ff9500,#ff8e00,#ff8800,#ff8300,#ff7e00,#ff7900,#ff7400,#ff7000,#ff6c00,#ff6800,#ff6500,#ff6200,#ff5f00,#ff5d00,#ff5b00,#ff5900,#ff5700,#ff5600,#ff5600)"></i>
<i style="background:linear-gradient(90deg,#3600ff,#3600ff,#3300ff,#2f00ff,#2a00ff,#2400ff,#1e00ff,#1802ff,#1205ff,#0c08ff,#080bff,#040eff,#0111ff,#0016ff,#001fff,#002cff,#003eff,#0056ff,#0072ff,#008fff,#00abfe,#00c4fd,#02d8fa,#03e8f4,#03f4ea,#02fcda,#00ffc1,#00ffa2,#00ff7e,#00ff5b,#00ff3a,#07ff22,#1cfe11,#36fe07,#54ff02,#73ff00,#8fff00,#a9ff00,#bfff00,#d2fe00,#e1fe00,#ebff00,#f2ff00,#f6ff00,#f9ff00,#faff00,#fbfd00,#fcfa00,#fdf600,#fef200,#ffed00,#ffea00,#ffe600,#ffe300,#ffdf00,#ffda00,#ffd300,#ffca00,#ffc000,#ffb600,#ffac00,#ffa300,#ff9b00,#ff9400,#ff8e00,#ff8800,#ff8200,#ff7d00,#ff7800,#ff7300,#ff6e00,#ff6a00,#ff6600,#ff6300,#ff6000,#ff5e00,#ff5c00,#ff5a00,#ff5800,#ff5700,#ff5500,#ff5500)"></i>
<i style="background:linear-gradient(90deg,#3500ff,#3500ff,#3300ff,#2f00ff,#2a00ff,#2400ff,#1d00ff,#1703ff,#1005ff,#0a08ff,#050cff,#020fff,#0013ff,#0019ff,#0021ff,#002eff,#0041ff,#0059ff,#0075ff,#0092ff,#00aeff,#00c6fd,#02dafa,#03e9f4,#03f4e9,#02fcd8,#00ffc0,#00ffa1,#00ff7e,#00ff5b,#00ff3b,#07ff22,#1efe12,#3bfe08,#5bff03,#7bff00,#99ff00,#b3ff00,#caff00,#dcfe00,#eafe00,#f4ff00,#f9ff00,#fcff00,#fdff00,#fcff00,#fcfd00,#fdfa00,#fdf500,#fef100,#ffec00,#ffe800,#ffe500,#ffe200,#ffdd00,#ffd800,#ffd100,#ffc800,#ffbf00,#ffb500,#ffab00,#ffa200,#ff9b00,#ff9400,#ff8e00,#ff8800,#ff8200,#ff7c00,#ff7600,#ff7100,#ff6c00,#ff6800,#ff6500,#ff6100,#ff5f00,#ff5d00,#ff5b00,#ff5900,#ff5700,#ff5600,#ff5500,#ff5400)"></i>
<i style="background:linear-gradient(90deg,#3400ff,#3400ff,#3200ff,#2f00ff,#2a00ff,#2300ff,#1d01ff,#1503ff,#0f06ff,#0809ff,#030dff,#0010ff,#0015ff,#001aff,#0023ff,#0031ff,#0043ff,#005cff,#0078ff,#0095ff,#00b1ff,#00c9fe,#02dcfa,#03eaf3,#03f5e8,#02fcd7,#00ffbe,#00ff9f,#00ff7d,#00ff5a,#00ff3b,#08ff23,#20fe12,#3efe08,#60ff03,#82ff01,#a1ff00,#bcff00,#d2ff00,#e4ff00,#f1ff00,#faff00,#ffff00,#ffff00,#ffff00,#ffff00,#fefd00,#fefa00,#fef500,#fef000,#ffeb00,#ffe700,#ffe400,#ffe000,#ffdc00,#ffd600,#ffcf00,#ffc700,#ffbd00,#ffb300,#ffaa00,#ffa100,#ff9a00,#ff9300,#ff8d00,#ff8700,#ff8100,#ff7b00,#ff7500,#ff7000,#ff6b00,#ff6700,#ff6300,#ff6000,#ff5d00,#ff5b00,#ff5900,#ff5800,#ff5600,#ff5500,#ff5400,#ff5300)"></i>
<i style="background:linear-gradient(90deg,#3300ff,#3300ff,#3200ff,#2f00ff,#2a00ff,#2300ff,#1c01ff,#1503ff,#0d06ff,#070aff,#020eff,#0012ff,#0016ff,#001cfe,#0025fe,#0033ff,#0046ff,#005fff,#007bff,#0098ff,#00b3ff,#00cbff,#02defa,#03ecf3,#03f6e7,#02fcd5,#00ffbc,#00ff9d,#00ff7b,#00ff59,#00ff3b,#08ff23,#21fe12,#40fe08,#64ff03,#87ff01,#a7ff00,#c2ff00,#d8ff00,#eaff00,#f7ff00,#ffff00,#ffff00,#ffff00,#ffff00,#ffff00,#fffe00,#fefa00,#fef500,#fef000,#ffeb00,#ffe600,#ffe200,#ffdf00,#ffda00,#ffd500,#ffce00,#ffc500,#ffbb00,#ffb200,#ffa800,#ffa000,#ff9900,#ff9200,#ff8c00,#ff8700,#ff8100,#ff7a00,#ff7500,#ff6f00,#ff6a00,#ff6500,#ff6200,#ff5e00,#ff5c00,#ff5a00,#ff5800,#ff5700,#ff5500,#ff5400,#ff5300,#ff5300)"></i>
<i style="background:linear-gradient(90deg,#3200ff,#3200ff,#3200ff,#2f00ff,#2a00ff,#2300ff,#1c01ff,#1403ff,#0d07ff,#060bff,#010fff,#0013ff,#0017ff,#001efe,#0027fe,#0035fe,#0148ff,#0161ff,#007dff,#009aff,#00b6ff,#00cdff,#02dffb,#03edf3,#04f6e6,#02fdd3,#00ffba,#00ff9b,#00ff79,#00ff58,#00ff3a,#08ff22,#21fe12,#42fe08,#66ff03,#8aff01,#aaff00,#c6ff00,#dcff00,#edff00,#f9ff00,#ffff00,#ffff00,#ffff00,#ffff00,#ffff00,#fffe00,#fffa00,#fff500,#ffef00,#ffea00,#ffe500,#ffe100,#ffdd00,#ffd900,#ffd300,#ffcc00,#ffc300,#ffba00,#ffb000,#ffa700,#ff9f00,#ff9800,#ff9100,#ff8b00,#ff8600,#ff8000,#ff7a00,#ff7400,#ff6e00,#ff6900,#ff6400,#ff6000,#ff5d00,#ff5b00,#ff5800,#ff5700,#ff5500,#ff5400,#ff5300,#ff5200,#ff5200)"></i>
<i style="background:linear-gradient(90deg,#3100ff,#3200ff,#3200ff,#2f00ff,#2a00ff,#2300ff,#1c01ff,#1404ff,#0c07ff,#050bff,#000fff,#0014ff,#0019fe,#001ffe,#0029fe,#0036fe,#014aff,#0163ff,#007fff,#009cff,#00b8ff,#00cfff,#02e1fb,#03eef2,#04f7e4,#02fdd1,#00ffb7,#00ff98,#00ff77,#00ff56,#00ff38,#07ff21,#22fe11,#43fe08,#67ff03,#8cff00,#acff00,#c7ff00,#ddff00,#eeff00,#faff00,#ffff00,#ffff00,#ffff00,#ffff00,#ffff00,#fffe00,#fffa00,#fff500,#ffef00,#ffe900,#ffe400,#ffe000,#ffdc00,#ffd700,#ffd100,#ffca00,#ffc100,#ffb800,#ffae00,#ffa500,#ff9d00,#ff9600,#ff9000,#ff8a00,#ff8500,#ff7f00,#ff7900,#ff7300,#ff6d00,#ff6800,#ff6300,#ff5f00,#ff5c00,#ff5900,#ff5700,#ff5500,#ff5400,#ff5300,#ff5200,#ff5100,#ff5000)"></i>
<i style="background:linear-gradient(90deg,#3100ff,#3200ff,#3200ff,#2f00ff,#2a00ff,#2300ff,#1c01ff,#1304ff,#0c08ff,#050cff,#0010ff,#0015ff,#001afe,#0020fe,#002afe,#0038fe,#014cff,#0165ff,#0181ff,#009fff,#00baff,#00d1ff,#02e2fc,#03eff2,#04f8e3,#02fdce,#00ffb4,#00ff95,#00ff74,#00ff53,#00ff36,#07ff1f,#21fe10,#43fe07,#68ff02,#8cff00,#acff00,#c7ff00,#ddff00,#edff00,#f9ff00,#ffff00,#ffff00,#ffff00,#ffff00,#ffff00,#fffe00,#fffa00,#fff400,#ffef00,#ffe900,#ffe400,#ffdf00,#ffda00,#ffd500,#ffcf00,#ffc800,#ffbf00,#ffb600,#ffac00,#ffa300,#ff9b00,#ff9500,#ff8f00,#ff8900,#ff8300,#ff7e00,#ff7800,#ff7200,#ff6c00,#ff6700,#ff6200,#ff5e00,#ff5b00,#ff5800,#ff5600,#ff5400,#ff5300,#ff5100,#ff5000,#ff5000,#ff4f00)"></i>
<i style="background:linear-gradient(90deg,#3100ff,#3200ff,#3200ff,#2f00fe,#2a00ff,#2300ff,#1c01ff,#1304ff,#0c08ff,#050dff,#0011ff,#0016ff,#001bfe,#0022fe,#002bfd,#003afe,#014dff,#0167ff,#0183ff,#00a1ff,#00bcff,#00d3ff,#02e4fc,#03f0f1,#04f8e1,#02fdcc,#00ffb1,#00ff92,#00ff71,#00ff50,#00ff34,#07ff1e,#21fe0f,#42fe06,#67ff02,#8bff00,#abff00,#c5ff00,#dbff00,#ebff00,#f6ff00,#feff00,#ffff00,#ffff00,#ffff00,#ffff00,#fffe00,#fffa00,#fff500,#ffef00,#ffe900,#ffe300,#ffde00,#ffd900,#ffd400,#ffcd00,#ffc600,#ffbd00,#ffb400,#ffaa00,#ffa100,#ff9a00,#ff9300,#ff8d00,#ff8800,#ff8200,#ff7d00,#ff7700,#ff7100,#ff6c00,#ff6600,#ff6200,#ff5e00,#ff5a00,#ff5700,#ff5500,#ff5300,#ff5100,#ff5000,#ff4f00,#ff4e00,#ff4e00)"></i>
<i style="background:linear-gradient(90deg,#3100ff,#3200ff,#3200fe,#2f00fe,#2a00fe,#2300ff,#1c01ff,#1404ff,#0c09ff,#050dff,#0012ff,#0017ff,#001cfe,#0023fd,#002dfd,#003bfe,#014fff,#0168ff,#0185ff,#00a2ff,#00beff,#00d4ff,#02e5fc,#03f1f0,#04f9df,#02fdc9,#00ffad,#00ff8e,#00ff6d,#00ff4d,#00ff31,#06ff1c,#20fe0e,#41fe05,#65ff01,#89ff00,#a8ff00,#c2ff00,#d7ff00,#e7ff00,#f2ff00,#faff00,#ffff00,#ffff00,#ffff00,#ffff00,#fffe00,#fffa00,#fff500,#ffee00,#ffe800,#ffe300,#ffdd00,#ffd800,#ffd200,#ffcb00,#ffc400,#ffbb00,#ffb100,#ffa800,#ff9f00,#ff9800,#ff9100,#ff8b00,#ff8600,#ff8100,#ff7b00,#ff7600,#ff7000,#ff6b00,#ff6600,#ff6100,#ff5d00,#ff5a00,#ff5600,#ff5400,#ff5200,#ff5000,#ff4f00,#ff4e00,#ff4d00,#ff4d00)"></i>
<i style="background:linear-gradient(90deg,#3100ff,#3200ff,#3200fe,#2f00fe,#2a00fe,#2400ff,#1c01ff,#1405ff,#0c09ff,#050eff,#0013ff,#0018ff,#001dfe,#0024fd,#002efd,#003cfe,#0150ff,#016aff,#0187ff,#00a4ff,#00bfff,#00d6ff,#02e6fc,#03f2ef,#04f9dc,#02fdc5,#00ffa9,#00ff8a,#00ff69,#00ff4a,#00ff2e,#06ff19,#1fff0c,#40fe04,#63ff01,#86ff00,#a5ff00,#beff00,#d2ff00,#e2ff00,#eeff00,#f6ff00,#fcff00,#ffff00,#ffff00,#ffff00,#ffff00,#fffa00,#fff500,#ffee00,#ffe800,#ffe200,#ffdc00,#ffd700,#ffd100,#ffca00,#ffc200,#ffb900,#ffaf00,#ffa600,#ff9d00,#ff9600,#ff8f00,#ff8a00,#ff8400,#ff7f00,#ff7a00,#ff7500,#ff6f00,#ff6a00,#ff6500,#ff6100,#ff5d00,#ff5900,#ff5600,#ff5300,#ff5000,#ff4e00,#ff4d00,#ff4c00,#ff4c00,#ff4c00)"></i>
<i style="background:linear-gradient(90deg,#3100ff,#3200ff,#3200fe,#2f00fe,#2a00fe,#2400ff,#1c01ff,#1405ff,#0c0aff,#060fff,#0014ff,#0019ff,#001efe,#0025fd,#002ffd,#003dfe,#0151ff,#016bff,#0088ff,#00a5ff,#00c1ff,#00d7ff,#02e7fc,#03f2ed,#04fada,#02fec2,#00ffa5,#00ff86,#00ff65,#00ff46,#00ff2b,#05ff17,#1eff0a,#3eff03,#60ff00,#82ff00,#a0ff00,#b9ff00,#cdff00,#dcff00,#e8ff00,#f1ff00,#f8ff00,#fdff00,#ffff00,#ffff00,#ffff00,#fffa00,#fff500,#ffee00,#ffe800,#ffe200,#fedc00,#fed500,#ffcf00,#ffc800,#ffc000,#ffb700,#ffad00,#ffa400,#ff9b00,#ff9400,#ff8d00,#ff8800,#ff8300,#ff7e00,#ff7900,#ff7400,#ff6f00,#ff6a00,#ff6500,#ff6000,#ff5c00,#ff5800,#ff5500,#ff5200,#ff4f00,#ff4d00,#ff4c00,#ff4b00,#ff4b00,#ff4b00)"></i>
<i style="background:linear-gradient(90deg,#3200ff,#3200ff,#3200fe,#2f00fe,#2a00fe,#2400ff,#1c01ff,#1405ff,#0d0aff,#0610ff,#0115ff,#001aff,#0020fe,#0027fd,#0030fd,#003ffd,#0152ff,#016cff,#0089ff,#00a6ff,#00c2ff,#00d8ff,#02e8fa,#03f3eb,#04fad7,#02febe,#00ffa1,#00ff81,#00ff61,#00ff42,#00ff28,#05ff15,#1dff08,#3cff02,#5dff00,#7eff00,#9bff00,#b3ff00,#c7ff00,#d6ff00,#e2ff00,#ecff00,#f4ff00,#faff00,#feff00,#ffff00,#ffff00,#fffa00,#fff500,#ffee00,#ffe800,#ffe100,#fedb00,#fed400,#ffcd00,#ffc600,#ffbe00,#ffb500,#ffab00,#ffa200,#ff9900,#ff9200,#ff8c00,#ff8600,#ff8100,#ff7c00,#ff7700,#ff7300,#ff6e00,#ff6900,#ff6400,#ff6000,#ff5b00,#ff5700,#ff5400,#ff5100,#ff4e00,#ff4c00,#ff4a00,#ff4a00,#ff4a00,#ff4a00)"></i>
<i style="background:linear-gradient(90deg,#3200ff,#3200ff,#3200fe,#2f00fe,#2a00fe,#2400ff,#1c01ff,#1506ff,#0d0bff,#0611ff,#0116ff,#001cff,#0021fe,#0028fd,#0032fd,#0040fd,#0154ff,#016dff,#008aff,#00a7ff,#00c3ff,#00d9ff,#02e9f9,#03f4e8,#03fad3,#02feba,#00ff9d,#00ff7d,#00ff5d,#00ff3e,#00ff25,#05ff12,#1cff07,#3aff01,#5aff00,#7aff00,#96ff00,#adff01,#c0ff01,#d0ff00,#dcff00,#e7ff00,#efff00,#f7ff00,#fcff00,#ffff00,#ffff00,#fffa00,#fff400,#ffee00,#ffe700,#ffe100,#feda00,#fed300,#ffcc00,#ffc400,#ffbc00,#ffb300,#ffa900,#ffa000,#ff9800,#ff9000,#ff8a00,#ff8400,#ff7f00,#ff7a00,#ff7600,#ff7100,#ff6d00,#ff6800,#ff6400,#ff5f00,#ff5b00,#ff5700,#ff5300,#ff5000,#ff4d00,#ff4b00,#ff4900,#ff4800,#ff4800,#ff4900)"></i>
<i style="background:linear-gradient(90deg,#3200ff,#3300ff,#3200fe,#2f00fe,#2a00fe,#2400ff,#1d01ff,#1506ff,#0e0cff,#0712ff,#0218ff,#001eff,#0023fe,#002afd,#0033fd,#0041fe,#0055ff,#006eff,#008bff,#00a8ff,#00c3ff,#00d9ff,#02e9f6,#03f4e5,#03fad0,#02feb6,#00ff98,#00ff78,#00ff58,#00ff3b,#00ff22,#05ff0f,#1cff05,#38ff00,#56ff00,#75ff00,#90ff00,#a7ff01,#baff01,#c9ff01,#d6ff00,#e2ff00,#ebff00,#f4ff00,#faff00,#ffff00,#fffe00,#fffa00,#fff400,#ffee00,#ffe700,#ffe000,#fed900,#fed200,#ffcb00,#ffc300,#ffba00,#ffb100,#ffa700,#ff9e00,#ff9600,#ff8e00,#ff8800,#ff8200,#ff7d00,#ff7900,#ff7400,#ff7000,#ff6c00,#ff6700,#ff6300,#ff5f00,#ff5a00,#ff5600,#ff5200,#ff4f00,#ff4c00,#ff4900,#ff4800,#ff4700,#ff4700,#ff4800)"></i>
<i style="background:linear-gradient(90deg,#3300ff,#3300ff,#3200fe,#2f00fe,#2a00fe,#2400ff,#1c01ff,#1507ff,#0e0dff,#0713ff,#021aff,#001fff,#0025fe,#002bfd,#0035fd,#0042fe,#0056ff,#006fff,#008cff,#00a9ff,#00c4ff,#00daff,#02eaf3,#03f4e1,#03facb,#02feb1,#00ff94,#00ff74,#00ff54,#00ff37,#00ff1f,#06ff0d,#1bff03,#36ff00,#53ff00,#70ff00,#8bff01,#a1ff01,#b4ff01,#c3ff01,#d1ff00,#ddff00,#e8ff00,#f1ff00,#f8ff00,#feff00,#fffe00,#fffa00,#fff400,#ffee00,#ffe700,#ffdf00,#fed800,#fed100,#ffc900,#ffc100,#ffb800,#ffaf00,#ffa600,#ff9d00,#ff9400,#ff8d00,#ff8600,#ff8100,#ff7c00,#ff7700,#ff7300,#ff6f00,#ff6a00,#ff6600,#ff6200,#ff5e00,#ff5a00,#ff5500,#ff5100,#ff4e00,#ff4b00,#ff4800,#ff4700,#ff4600,#ff4700,#ff4700)"></i>
<i style="background:linear-gradient(90deg,#3300ff,#3300ff,#3200fe,#2f00fe,#2a00ff,#2300ff,#1c01ff,#1507ff,#0e0eff,#0815ff,#031cff,#0022ff,#0027fe,#002dfd,#0036fd,#0044fe,#0057ff,#0070ff,#008cff,#00a9ff,#00c4ff,#00dafc,#01eaef,#02f4dd,#03fac7,#02fead,#00ff8f,#00ff70,#00ff50,#00ff34,#00ff1c,#06ff0b,#1aff01,#34ff00,#50ff00,#6cff00,#85ff01,#9bff01,#aeff01,#befe01,#ccff00,#d9ff00,#e5ff00,#efff00,#f7ff00,#fdff00,#fffd00,#fff900,#fff400,#ffed00,#ffe600,#ffdf00,#fed700,#fed000,#ffc800,#ffbf00,#ffb700,#ffad00,#ffa400,#ff9b00,#ff9300,#ff8b00,#ff8500,#ff7f00,#ff7a00,#ff7500,#ff7100,#ff6d00,#ff6900,#ff6500,#ff6100,#ff5d00,#ff5900,#ff5400,#ff5000,#ff4d00,#ff4a00,#ff4700,#ff4600,#ff4500,#ff4600,#ff4600)"></i>
<i style="background:linear-gradient(90deg,#3300ff,#3300ff,#3200ff,#2e00ff,#2900ff,#2300ff,#1c01ff,#1508ff,#0e0fff,#0817ff,#031eff,#0024ff,#0029fe,#0030fe,#0038fe,#0045fe,#0058ff,#0071ff,#008dff,#00aaff,#00c4ff,#00daf7,#01eaea,#02f4d8,#02fac2,#01fea8,#00ff8b,#00ff6b,#00ff4d,#00ff30,#00ff19,#07ff09,#1aff00,#32ff00,#4dff00,#68ff00,#81ff01,#96fe02,#a9fe01,#bafe01,#c9fe00,#d6fe00,#e3ff00,#edff00,#f6ff00,#fcff00,#fffd00,#fff800,#fff300,#ffed00,#ffe500,#ffde00,#fed600,#fecf00,#ffc600,#ffbe00,#ffb500,#ffac00,#ffa300,#ff9a00,#ff9100,#ff8a00,#ff8300,#ff7e00,#ff7800,#ff7400,#ff6f00,#ff6b00,#ff6800,#ff6400,#ff6000,#ff5c00,#ff5800,#ff5400,#ff5000,#ff4c00,#ff4900,#ff4600,#ff4500,#ff4400,#ff4500,#ff4500)"></i>
<i style="background:linear-gradient(90deg,#3300ff,#3300ff,#3100ff,#2e00ff,#2800ff,#2200ff,#1b02ff,#1409ff,#0e11ff,#0819ff,#0320ff,#0027ff,#002cff,#0032fe,#003afe,#0047fe,#0059ff,#0071ff,#008dff,#00aaff,#00c4fb,#00daf2,#01e9e4,#02f4d2,#02fabc,#01fea3,#00ff86,#00ff67,#00ff49,#00ff2d,#00ff17,#08ff07,#1aff00,#31ff00,#4aff00,#64ff00,#7cff01,#92fe02,#a5fd02,#b6fd01,#c6fc00,#d4fd00,#e1fe00,#ecff00,#f5ff00,#fcfe00,#fffc00,#fff800,#fff200,#ffec00,#ffe500,#ffdd00,#fed500,#fecd00,#ffc500,#ffbd00,#ffb400,#ffaa00,#ffa100,#ff9900,#ff9000,#ff8900,#ff8200,#ff7c00,#ff7700,#ff7200,#ff6e00,#ff6a00,#ff6600,#ff6200,#ff5f00,#ff5b00,#ff5700,#ff5200,#ff4f00,#ff4b00,#ff4800,#ff4600,#ff4400,#ff4400,#ff4500,#ff4500)"></i>
<i style="background:linear-gradient(90deg,#3300ff,#3300ff,#3100ff,#2d00ff,#2800ff,#2100ff,#1b02ff,#140aff,#0e12ff,#081bff,#0323ff,#002aff,#002fff,#0035ff,#003dff,#0049ff,#005aff,#0072ff,#008dfe,#00a9fb,#00c4f5,#00d9eb,#01e9de,#02f3cc,#02fab6,#01fe9d,#00ff81,#00ff63,#00ff46,#00ff2b,#00ff14,#0aff05,#1bff00,#30ff00,#48ff00,#61ff00,#78ff01,#8efe02,#a2fd02,#b4fc01,#c4fb00,#d3fb00,#e0fc00,#ecfd00,#f5fe00,#fcfd00,#fffb00,#fff700,#fff100,#ffeb00,#ffe400,#ffdc00,#fed400,#fecc00,#ffc400,#ffbb00,#ffb200,#ffa900,#ffa000,#ff9700,#ff8f00,#ff8800,#ff8100,#ff7b00,#ff7500,#ff7000,#ff6c00,#ff6800,#ff6500,#ff6100,#ff5d00,#ff5900,#ff5500,#ff5100,#ff4e00,#ff4a00,#ff4700,#ff4500,#ff4400,#ff4300,#ff4400,#ff4400)"></i>
<i style="background:linear-gradient(90deg,#3300ff,#3300ff,#3000ff,#2c00ff,#2700ff,#2100ff,#1a02ff,#130aff,#0d14ff,#081dff,#0326ff,#002dff,#0032ff,#0038ff,#003fff,#004bff,#005cff,#0073fd,#008efb,#00a9f6,#00c3ef,#00d8e5,#01e8d7,#01f3c5,#01fab0,#01fe98,#00ff7d,#00ff60,#00ff43,#00ff28,#01ff12,#0bff04,#1bff00,#2fff00,#46ff00,#5eff00,#75ff01,#8bfd02,#9ffc02,#b2fa01,#c3fa00,#d3fa00,#e0fa00,#ecfc00,#f5fc00,#fcfc00,#fffa00,#fff600,#fff000,#ffea00,#ffe300,#ffdb00,#fed300,#fecb00,#ffc300,#ffba00,#ffb100,#ffa800,#ff9f00,#ff9700,#ff8e00,#ff8700,#ff8000,#ff7a00,#ff7400,#ff6f00,#ff6a00,#ff6600,#ff6300,#ff5f00,#ff5c00,#ff5800,#ff5400,#ff5000,#ff4d00,#ff4900,#ff4600,#ff4400,#ff4300,#ff4300,#ff4400,#ff4400)"></i>
<i style="background:linear-gradient(90deg,#3300ff,#3300ff,#3000ff,#2b00ff,#2600ff,#2000ff,#1902ff,#130bff,#0d16ff,#0720ff,#0329ff,#0030ff,#0035ff,#003bff,#0042ff,#004dff,#005dfe,#0074fc,#008ef7,#00a9f1,#00c3e9,#00d8dd,#01e7cf,#01f2be,#01f9aa,#01fe93,#00ff78,#00ff5c,#00ff40,#00ff26,#03ff10,#0dff02,#1cff00,#2fff00,#45ff00,#5cff00,#73fe01,#89fd02,#9efb02,#b1f901,#c3f800,#d3f800,#e1f900,#ecfa00,#f5fb00,#fcfa00,#fff800,#fff500,#ffef00,#ffe900,#ffe200,#ffda00,#fed200,#feca00,#ffc100,#ffb900,#ffb000,#ffa700,#ff9e00,#ff9600,#ff8d00,#ff8600,#ff7f00,#ff7800,#ff7200,#ff6d00,#ff6900,#ff6500,#ff6100,#ff5e00,#ff5a00,#ff5600,#ff5300,#ff4f00,#ff4c00,#ff4800,#ff4600,#ff4400,#ff4300,#ff4300,#ff4400,#ff4400)"></i>
<i style="background:linear-gradient(90deg,#3300ff,#3300ff,#2f00ff,#2b00ff,#2500ff,#1f00ff,#1802ff,#120cff,#0c17fe,#0722fe,#032cff,#0033ff,#0039ff,#003eff,#0045ff,#004fff,#005ffe,#0075fa,#008ef4,#00a9ec,#00c2e2,#00d7d6,#00e7c8,#01f2b7,#01f9a4,#00fd8d,#00ff74,#00ff58,#00ff3d,#00ff23,#05ff0f,#0fff01,#1dff00,#2fff00,#44ff00,#5aff00,#70fe01,#87fc02,#9cfa02,#b1f801,#c3f600,#d4f600,#e2f700,#edf800,#f6f900,#fcf900,#fff700,#fff300,#ffee00,#ffe800,#ffe100,#ffd900,#fed100,#fec900,#ffc000,#ffb800,#ffaf00,#ffa600,#ff9d00,#ff9500,#ff8d00,#ff8500,#ff7e00,#ff7700,#ff7100,#ff6c00,#ff6700,#ff6300,#ff5f00,#ff5c00,#ff5800,#ff5500,#ff5100,#ff4e00,#ff4b00,#ff4800,#ff4500,#ff4300,#ff4200,#ff4200,#ff4300,#ff4400)"></i>
<i style="background:linear-gradient(90deg,#3300ff,#3300ff,#2f00ff,#2a00ff,#2400ff,#1e00ff,#1802ff,#120dfe,#0c19fe,#0724fe,#032efe,#0036ff,#003cff,#0041ff,#0048ff,#0052ff,#0061fe,#0076f8,#008ff0,#00a9e7,#00c1db,#00d6cf,#00e6c0,#00f1b0,#00f99d,#00fd88,#00ff70,#00ff55,#00ff3a,#02ff21,#07ff0d,#11ff00,#1eff00,#2fff00,#43ff00,#59ff00,#6ffe01,#86fc02,#9cf902,#b1f701,#c4f500,#d5f500,#e3f500,#eef600,#f6f700,#fcf700,#fff500,#fff200,#ffed00,#ffe600,#ffdf00,#ffd800,#fed000,#fec700,#ffbf00,#ffb600,#ffae00,#ffa500,#ff9c00,#ff9400,#ff8c00,#ff8400,#ff7d00,#ff7600,#ff7000,#ff6a00,#ff6500,#ff6100,#ff5d00,#ff5a00,#ff5700,#ff5300,#ff5000,#ff4d00,#ff4a00,#ff4700,#ff4500,#ff4300,#ff4200,#ff4200,#ff4300,#ff4400)"></i>
<i style="background:linear-gradient(90deg,#3300ff,#3300ff,#2e00ff,#2900ff,#2300ff,#1d00ff,#1702ff,#110efe,#0b1afe,#0727fe,#0331fe,#003aff,#003fff,#0045ff,#004bff,#0054ff,#0063fd,#0078f6,#0090ed,#00a9e2,#00c1d5,#00d5c7,#00e5b9,#00f0a9,#00f897,#00fd83,#00ff6c,#00ff52,#01ff38,#04ff20,#0aff0c,#13ff00,#20ff00,#30ff00,#43ff00,#58ff00,#6efe01,#85fc02,#9cf902,#b2f601,#c6f400,#d7f300,#e5f400,#eff500,#f7f600,#fdf600,#fff400,#fff000,#ffeb00,#ffe500,#ffde00,#ffd600,#fece00,#fec600,#ffbe00,#ffb500,#ffad00,#ffa400,#ff9c00,#ff9300,#ff8b00,#ff8300,#ff7c00,#ff7500,#ff6e00,#ff6900,#ff6400,#ff5f00,#ff5b00,#ff5800,#ff5500,#ff5100,#ff4e00,#ff4b00,#ff4900,#ff4600,#ff4400,#ff4300,#ff4200,#ff4200,#ff4300,#ff4300)"></i>
<i style="background:linear-gradient(90deg,#3300ff,#3200ff,#2e00ff,#2900ff,#2300ff,#1d00ff,#1603ff,#100ffe,#0b1cfe,#0629fe,#0234fe,#003dff,#0043ff,#0048ff,#004eff,#0058ff,#0066fd,#007af5,#0091ea,#00a9dd,#00c0ce,#00d4c0,#00e4b2,#00f0a2,#00f891,#00fd7e,#00ff68,#01ff4f,#02ff35,#06ff1e,#0cff0b,#15ff00,#21ff00,#31ff00,#43ff00,#58ff00,#6efe01,#86fb02,#9df802,#b4f501,#c8f300,#d9f200,#e7f200,#f1f300,#f8f400,#fdf400,#fff200,#ffef00,#ffea00,#ffe300,#ffdc00,#ffd500,#fecd00,#fec500,#ffbc00,#ffb400,#ffab00,#ffa300,#ff9b00,#ff9300,#ff8b00,#ff8300,#ff7b00,#ff7400,#ff6d00,#ff6700,#ff6200,#ff5d00,#ff5a00,#ff5600,#ff5300,#ff5000,#ff4d00,#ff4a00,#ff4800,#ff4500,#ff4400,#ff4300,#ff4200,#ff4200,#ff4300,#ff4300)"></i>
<i style="background:linear-gradient(90deg,#3300ff,#3200ff,#2e00ff,#2800ff,#2200ff,#1c00ff,#1603ff,#100ffe,#0b1dfd,#062bfd,#0237fe,#0040ff,#0046ff,#004cff,#0052ff,#005bff,#0069fd,#007cf3,#0092e6,#00a9d8,#00c0c9,#00d4b9,#00e3ab,#00ef9c,#00f78c,#00fd7a,#00ff64,#01ff4c,#03ff33,#07ff1c,#0dff0a,#16ff00,#23ff00,#32ff00,#44ff00,#58ff00,#6ffe01,#87fb02,#9ff802,#b6f401,#cbf200,#dcf100,#e9f100,#f2f200,#f9f300,#fdf200,#fff100,#ffed00,#ffe800,#ffe200,#ffdb00,#ffd300,#ffcb00,#ffc300,#ffbb00,#ffb300,#ffaa00,#ffa200,#ff9a00,#ff9200,#ff8a00,#ff8200,#ff7a00,#ff7300,#ff6c00,#ff6600,#ff6000,#ff5c00,#ff5800,#ff5400,#ff5100,#ff4e00,#ff4b00,#ff4900,#ff4700,#ff4500,#ff4300,#ff4200,#ff4200,#ff4200,#ff4300,#ff4300)"></i>
<i style="background:linear-gradient(90deg,#3300ff,#3200ff,#2d00ff,#2800ff,#2200ff,#1c00ff,#1603ff,#1010fe,#0a1efd,#062cfd,#0239fe,#0043ff,#004aff,#004fff,#0056ff,#005fff,#006cfc,#007ef2,#0193e4,#00aad4,#00c0c3,#00d3b3,#00e2a5,#00ee96,#00f787,#00fd75,#00ff61,#02ff49,#04ff31,#08ff1b,#0fff09,#18ff00,#24ff00,#34ff00,#45ff00,#5aff00,#70fe01,#89fb02,#a1f702,#b9f401,#cdf100,#def000,#ebf000,#f4f100,#faf100,#fef100,#ffef00,#ffeb00,#ffe600,#ffe000,#ffd900,#ffd100,#ffca00,#ffc200,#ffb900,#ffb100,#ffa900,#ffa100,#ff9900,#ff9100,#ff8900,#ff8100,#ff7900,#ff7200,#ff6b00,#ff6400,#ff5f00,#ff5a00,#ff5600,#ff5200,#ff4f00,#ff4d00,#ff4a00,#ff4800,#ff4600,#ff4400,#ff4300,#ff4200,#ff4200,#ff4200,#ff4300,#ff4300)"></i>
<i style="background:linear-gradient(90deg,#3300ff,#3200ff,#2d00ff,#2800ff,#2200ff,#1c00ff,#1603ff,#1011fe,#0a1ffd,#062efd,#023bfe,#0045ff,#004dff,#0053ff,#005aff,#0063ff,#0070fc,#0181f0,#0195e1,#00abd0,#00c0bf,#00d2ae,#00e29f,#00ed91,#00f682,#00fd71,#00ff5d,#02ff47,#05ff2f,#09ff1a,#10ff08,#1aff00,#26ff00,#35ff00,#47ff00,#5cff00,#73fe01,#8bfb02,#a4f702,#bcf401,#d1f100,#e1ef00,#edef00,#f6f000,#fbf000,#feef00,#ffed00,#ffea00,#ffe400,#ffde00,#ffd700,#ffd000,#ffc800,#ffc000,#ffb800,#ffb000,#ffa800,#ffa000,#ff9800,#ff9000,#ff8800,#ff8000,#ff7800,#ff7100,#ff6900,#ff6300,#ff5d00,#ff5800,#ff5400,#ff5100,#ff4e00,#ff4b00,#ff4900,#ff4700,#ff4500,#ff4400,#ff4300,#ff4200,#ff4200,#ff4200,#ff4300,#ff4300)"></i>
<i style="background:linear-gradient(90deg,#3300ff,#3200ff,#2d00ff,#2800ff,#2200ff,#1c00ff,#1603ff,#1011fe,#0a20fd,#052ffd,#023dfe,#0048ff,#0050ff,#0057ff,#005eff,#0067ff,#0074fc,#0184ef,#0198df,#01accd,#00c0bb,#00d2aa,#00e19b,#00ed8d,#00f67e,#00fc6e,#00ff5a,#02ff44,#05ff2e,#0aff18,#11ff07,#1bff00,#28ff00,#37ff00,#4aff00,#5eff00,#76fe01,#8efb02,#a7f702,#bff401,#d4f100,#e4ef00,#f0ef00,#f7ef00,#fcef00,#feee00,#ffec00,#ffe800,#ffe300,#ffdc00,#ffd500,#ffce00,#ffc600,#ffbe00,#ffb600,#ffae00,#ffa700,#ff9f00,#ff9700,#ff8f00,#ff8700,#ff7f00,#ff7700,#ff6f00,#ff6800,#ff6100,#ff5b00,#ff5600,#ff5200,#ff4f00,#ff4c00,#ff4900,#ff4700,#ff4500,#ff4400,#ff4300,#ff4200,#ff4200,#ff4200,#ff4200,#ff4300,#ff4300)"></i>
<i style="background:linear-gradient(90deg,#3300ff,#3200ff,#2e00ff,#2800ff,#2200ff,#1c00ff,#1603ff,#1011fe,#0a21fd,#0630fd,#023efe,#004aff,#0053ff,#005bff,#0062ff,#006cff,#0078fc,#0188ef,#019ade,#01aecb,#00c1b8,#00d2a7,#00e097,#00ec89,#00f67b,#00fc6b,#00ff58,#02ff42,#06ff2c,#0bff17,#12ff06,#1cff00,#2aff00,#3aff00,#4cff00,#62ff00,#79fe01,#92fb02,#abf802,#c3f401,#d7f100,#e7ef00,#f2ef00,#f9ee00,#fdee00,#ffed00,#ffea00,#ffe600,#ffe100,#ffda00,#ffd300,#ffcc00,#ffc400,#ffbc00,#ffb500,#ffad00,#ffa500,#ff9d00,#ff9600,#ff8e00,#ff8600,#ff7e00,#ff7600,#ff6e00,#ff6700,#ff6000,#ff5a00,#ff5500,#ff5100,#ff4d00,#ff4a00,#ff4800,#ff4600,#ff4500,#ff4300,#ff4200,#ff4200,#ff4200,#ff4200,#ff4200,#ff4300,#ff4300)"></i>
<i style="background:linear-gradient(90deg,#3300ff,#3200ff,#2e00ff,#2900ff,#2300ff,#1d00ff,#1603ff,#1011fd,#0b21fd,#0630fd,#023ffe,#004cff,#0056ff,#005eff,#0067ff,#0071ff,#007dfc,#018cee,#019ddd,#01afca,#00c1b6,#00d2a4,#00e095,#00ec86,#00f578,#00fc68,#00ff55,#02ff40,#06ff2a,#0bff16,#12ff06,#1dff00,#2bff00,#3cff00,#50ff00,#66ff00,#7efe01,#97fc02,#b0f802,#c7f501,#dbf200,#eaf000,#f4ef00,#faee00,#feed00,#ffec00,#ffe900,#ffe400,#ffdf00,#ffd800,#ffd100,#ffca00,#ffc200,#ffba00,#ffb300,#ffab00,#ffa400,#ff9c00,#ff9500,#ff8d00,#ff8500,#ff7d00,#ff7500,#ff6d00,#ff6500,#ff5e00,#ff5800,#ff5300,#ff4f00,#ff4c00,#ff4900,#ff4700,#ff4500,#ff4400,#ff4300,#ff4200,#ff4200,#ff4200,#ff4200,#ff4200,#ff4200,#ff4300)"></i>
<i style="background:linear-gradient(90deg,#3300ff,#3300ff,#2f00ff,#2a00ff,#2400ff,#1d00ff,#1703ff,#1111fd,#0b21fd,#0631fd,#0240fd,#004dff,#0058ff,#0062ff,#006cff,#0076ff,#0082fc,#0191ee,#01a1dc,#01b2c9,#00c2b5,#00d2a3,#00e093,#00eb84,#00f576,#00fc66,#00ff53,#02ff3e,#05ff29,#0bff15,#13ff05,#1eff00,#2dff00,#3fff00,#53ff00,#6aff00,#82fe01,#9cfc02,#b5f902,#cbf601,#dff300,#edf100,#f6f000,#fcee00,#feed00,#ffeb00,#ffe700,#ffe200,#ffdd00,#ffd600,#ffcf00,#ffc800,#ffc000,#ffb900,#ffb100,#ffaa00,#ffa200,#ff9b00,#ff9300,#ff8c00,#ff8400,#ff7c00,#ff7400,#ff6c00,#ff6400,#ff5d00,#ff5700,#ff5200,#ff4e00,#ff4a00,#ff4800,#ff4500,#ff4400,#ff4300,#ff4200,#ff4200,#ff4100,#ff4100,#ff4200,#ff4200,#ff4200,#ff4200)"></i>
<i style="background:linear-gradient(90deg,#3300ff,#3300ff,#2f00ff,#2a00ff,#2500ff,#1e00ff,#1803ff,#1111fd,#0b20fd,#0630fd,#0240fd,#004eff,#005aff,#0066ff,#0070ff,#007bff,#0088fc,#0196ee,#01a5dc,#01b4c8,#00c3b4,#00d2a1,#00df91,#00eb82,#00f574,#00fc63,#00ff51,#02ff3c,#05ff28,#0aff14,#13ff05,#1fff00,#2eff00,#41ff00,#57ff00,#6fff00,#88fe01,#a1fd02,#b9fa02,#d0f701,#e2f500,#f0f200,#f9f000,#fdef00,#ffed00,#ffea00,#ffe600,#ffe100,#ffdb00,#ffd400,#ffcd00,#ffc600,#ffbe00,#ffb700,#ffaf00,#ffa800,#ffa100,#ff9900,#ff9200,#ff8b00,#ff8300,#ff7b00,#ff7300,#ff6b00,#ff6300,#ff5c00,#ff5600,#ff5000,#ff4c00,#ff4900,#ff4600,#ff4400,#ff4300,#ff4200,#ff4100,#ff4100,#ff4100,#ff4100,#ff4200,#ff4200,#ff4200,#ff4200)"></i>
<i style="background:linear-gradient(90deg,#3300ff,#3300ff,#3000ff,#2b00ff,#2500ff,#1f00ff,#1803ff,#1211fd,#0c20fd,#0630fd,#0240fd,#004fff,#005cff,#0069ff,#0075ff,#0081ff,#008efc,#019bee,#01a9dc,#01b7c8,#00c5b4,#00d2a1,#00df90,#00eb81,#00f472,#00fc61,#00ff4f,#02ff3b,#05ff26,#0aff14,#12ff05,#1fff00,#30ff00,#44ff00,#5bff00,#73ff00,#8dff01,#a6fd02,#bffb02,#d4f801,#e6f600,#f3f400,#fbf100,#ffef00,#ffec00,#ffe900,#ffe400,#ffdf00,#ffd900,#ffd200,#ffcb00,#ffc300,#ffbc00,#ffb500,#ffae00,#ffa600,#ff9f00,#ff9800,#ff9100,#ff8a00,#ff8200,#ff7a00,#ff7200,#ff6900,#ff6200,#ff5a00,#ff5400,#ff4f00,#ff4b00,#ff4800,#ff4500,#ff4300,#ff4200,#ff4100,#ff4100,#ff4100,#ff4100,#ff4100,#ff4200,#ff4200,#ff4200,#ff4200)"></i>
<i style="background:linear-gradient(90deg,#3300ff,#3300ff,#3000ff,#2c00ff,#2600ff,#2000ff,#1903ff,#1310fd,#0c1ffd,#072ffd,#023ffd,#004fff,#005eff,#006cff,#007aff,#0087ff,#0094fc,#01a1ee,#01aedc,#01bac8,#00c7b4,#00d3a1,#00df90,#00ea80,#00f470,#00fc60,#00ff4d,#01ff39,#04ff25,#09ff13,#12ff04,#1fff00,#31fe00,#47ff00,#5fff00,#78ff00,#92ff01,#acfe02,#c4fc02,#d9fa01,#eaf800,#f6f500,#fdf300,#fff000,#ffec00,#ffe800,#ffe300,#ffdd00,#ffd700,#ffd000,#ffc900,#ffc100,#ffba00,#ffb300,#ffac00,#ffa500,#ff9e00,#ff9700,#ff9000,#ff8800,#ff8100,#ff7900,#ff7100,#ff6800,#ff6000,#ff5900,#ff5300,#ff4e00,#ff4a00,#ff4700,#ff4400,#ff4200,#ff4100,#ff4100,#ff4000,#ff4100,#ff4100,#ff4100,#ff4100,#ff4200,#ff4100,#ff4100)"></i>
<i style="background:linear-gradient(90deg,#3300ff,#3300ff,#3100ff,#2d00ff,#2700ff,#2100ff,#1a03ff,#130ffd,#0d1dfd,#072dfd,#023efe,#004fff,#005fff,#0070ff,#007fff,#008eff,#009bfc,#01a7ee,#01b2dd,#00bdc9,#00c8b4,#00d4a1,#00df8f,#00ea7f,#00f46f,#00fc5e,#00ff4b,#01ff37,#03ff24,#08ff12,#11ff04,#1fff00,#32fe00,#49fe00,#63ff00,#7dff00,#98ff01,#b1fe02,#c9fd02,#ddfb01,#edf900,#f8f700,#fef400,#fff000,#ffec00,#ffe800,#ffe200,#fedc00,#fed500,#ffce00,#ffc700,#ffc000,#ffb800,#ffb100,#ffaa00,#ffa300,#ff9c00,#ff9600,#ff8f00,#ff8700,#ff8000,#ff7800,#ff7000,#ff6700,#ff5f00,#ff5800,#ff5200,#ff4d00,#ff4900,#ff4500,#ff4300,#ff4100,#ff4000,#ff4000,#ff4000,#ff4000,#ff4100,#ff4100,#ff4100,#ff4100,#ff4100,#ff4100)"></i>
<i style="background:linear-gradient(90deg,#3300ff,#3300ff,#3100ff,#2d00ff,#2800ff,#2200ff,#1b03ff,#140efe,#0d1bfd,#072bfd,#023cfe,#004eff,#0060ff,#0072ff,#0084ff,#0094ff,#00a2fc,#01aeee,#01b8dd,#00c1c9,#00cab5,#00d4a1,#00df8f,#00ea7e,#00f46d,#00fc5c,#00ff49,#00ff36,#02ff23,#07ff12,#11ff04,#1fff00,#33fe00,#4cfe00,#66fe00,#82ff00,#9dff01,#b7ff02,#cdfe02,#e1fd01,#f0fb00,#fbf800,#fff500,#fff100,#ffec00,#ffe700,#ffe100,#fedb00,#fed400,#fecc00,#ffc500,#ffbe00,#ffb700,#ffb000,#ffa900,#ffa200,#ff9b00,#ff9400,#ff8e00,#ff8600,#ff7f00,#ff7700,#ff6f00,#ff6700,#ff5f00,#ff5700,#ff5100,#ff4c00,#ff4800,#ff4400,#ff4200,#ff4100,#ff4000,#ff3f00,#ff4000,#ff4000,#ff4000,#ff4100,#ff4100,#ff4100,#ff4100,#ff4100)"></i>
<i style="background:linear-gradient(90deg,#3300ff,#3300ff,#3200ff,#2e00ff,#2900ff,#2200ff,#1b02ff,#140dfe,#0d19fd,#0728fd,#0239fe,#004cff,#0061ff,#0075ff,#0089ff,#009bff,#00a9fc,#01b4ef,#01bddd,#00c5ca,#00ccb5,#00d5a1,#00df8f,#00ea7d,#00f36c,#00fb5a,#00ff47,#00ff34,#02ff22,#07ff11,#10ff04,#1ffe00,#34fe00,#4efe00,#6afe00,#86ff00,#a2ff01,#bcff02,#d2ff02,#e5fe01,#f3fc00,#fdfa00,#fff600,#fff200,#ffed00,#ffe700,#ffe000,#fed900,#fed200,#fecb00,#ffc300,#ffbc00,#ffb500,#ffae00,#ffa700,#ffa000,#ff9a00,#ff9300,#ff8d00,#ff8600,#ff7e00,#ff7600,#ff6e00,#ff6600,#ff5e00,#ff5700,#ff5000,#ff4b00,#ff4700,#ff4400,#ff4100,#ff4000,#ff3f00,#ff3f00,#ff3f00,#ff4000,#ff4000,#ff4100,#ff4100,#ff4100,#ff4000,#ff4000)"></i>
<i style="background:linear-gradient(90deg,#3300ff,#3300ff,#3200ff,#2e00ff,#2900ff,#2300ff,#1c02ff,#150bfe,#0e17fd,#0725fd,#0336fe,#004aff,#0061ff,#0078ff,#008eff,#00a1ff,#00b1fc,#01bcef,#01c3de,#00c9ca,#00cfb6,#00d6a1,#00df8e,#00e97c,#00f36a,#00fb58,#00ff45,#00ff32,#01ff20,#06ff11,#0fff04,#1ffe00,#35fe00,#50fe00,#6dfe00,#8aff00,#a7ff01,#c0ff02,#d6ff02,#e8ff01,#f6fe00,#fffb00,#fff700,#fff300,#ffed00,#ffe700,#fee000,#fed800,#fed100,#fec900,#ffc200,#ffba00,#ffb300,#ffac00,#ffa600,#ff9f00,#ff9900,#ff9200,#ff8c00,#ff8500,#ff7d00,#ff7600,#ff6d00,#ff6500,#ff5d00,#ff5600,#ff5000,#ff4a00,#ff4600,#ff4300,#ff4100,#ff3f00,#ff3f00,#ff3e00,#ff3f00,#ff3f00,#ff4000,#ff4100,#ff4100,#ff4100,#ff4000,#ff4000)"></i>
<i style="background:linear-gradient(90deg,#3300ff,#3300ff,#3200ff,#2f00ff,#2a00ff,#2300ff,#1c02ff,#1509fe,#0e14fd,#0821fd,#0333fe,#0048ff,#0060ff,#007aff,#0093ff,#00a8ff,#00b9fc,#01c3ef,#00c9de,#00cdcb,#00d1b6,#00d7a1,#00df8e,#00e97b,#01f368,#00fb56,#00ff43,#00ff31,#00ff1f,#05ff10,#0eff04,#1ffe00,#36fe00,#51fd00,#70fe00,#8eff00,#abff01,#c4ff02,#daff02,#ecff01,#f9ff00,#fffc00,#fff800,#fff300,#ffed00,#ffe600,#fedf00,#fed800,#fed000,#fec800,#ffc000,#ffb900,#ffb200,#ffab00,#ffa500,#ff9e00,#ff9800,#ff9200,#ff8b00,#ff8400,#ff7d00,#ff7500,#ff6d00,#ff6500,#ff5d00,#ff5500,#ff4f00,#ff4a00,#ff4600,#ff4200,#ff4000,#ff3f00,#ff3e00,#ff3e00,#ff3e00,#ff3f00,#ff4000,#ff4000,#ff4100,#ff4100,#ff4000,#ff3f00)"></i>
<i style="background:linear-gradient(90deg,#3300ff,#3300ff,#3200ff,#2f00ff,#2a00ff,#2300ff,#1c01ff,#1507fe,#0e10fd,#081dfd,#032efe,#0045ff,#005fff,#007cff,#0097ff,#00afff,#00c1fc,#00cbef,#00d0de,#00d2cb,#00d4b6,#00d8a1,#00e08c,#01e979,#01f366,#00fb53,#00ff41,#00ff2f,#00ff1e,#04ff10,#0dff05,#1efe00,#36fe00,#53fd00,#72fe00,#91fe00,#aeff01,#c8ff01,#ddff01,#eeff01,#fbff00,#fffe00,#fff900,#fff400,#ffee00,#ffe600,#fedf00,#fdd700,#fdcf00,#fec700,#ffbf00,#ffb800,#ffb100,#ffaa00,#ffa400,#ff9d00,#ff9700,#ff9100,#ff8b00,#ff8400,#ff7d00,#ff7500,#ff6d00,#ff6400,#ff5c00,#ff5500,#ff4f00,#ff4900,#ff4500,#ff4200,#ff3f00,#ff3e00,#ff3e00,#ff3e00,#ff3e00,#ff3f00,#ff4000,#ff4000,#ff4000,#ff4000,#ff3f00,#ff3f00)"></i>
<i style="background:linear-gradient(90deg,#3300ff,#3300ff,#3201ff,#2e00ff,#2900ff,#2300ff,#1c00ff,#1505fe,#0e0cfd,#0818fd,#032afe,#0041ff,#005eff,#007eff,#009cff,#00b6ff,#00c9fc,#00d3ef,#00d6de,#00d6ca,#00d6b5,#00d9a0,#00e08b,#01e977,#01f263,#01fb51,#00ff3e,#00ff2d,#00ff1d,#03ff0f,#0cff05,#1efe00,#36fd00,#53fd00,#73fe00,#93fe00,#b1ff01,#caff01,#dfff01,#f0ff01,#fcff00,#fffe00,#fffa00,#fff500,#ffee00,#ffe700,#fedf00,#fdd700,#fdce00,#fec600,#ffbe00,#ffb700,#ffb000,#ffa900,#ffa300,#ff9d00,#ff9700,#ff9100,#ff8a00,#ff8400,#ff7d00,#ff7500,#ff6d00,#ff6400,#ff5c00,#ff5500,#ff4f00,#ff4900,#ff4500,#ff4100,#ff3f00,#ff3e00,#ff3d00,#ff3d00,#ff3e00,#ff3f00,#ff3f00,#ff4000,#ff4000,#ff4000,#ff3f00,#ff3f00)"></i>
<i style="background:linear-gradient(90deg,#3200ff,#3201ff,#3103ff,#2e03ff,#2901ff,#2300ff,#1c00ff,#1502fe,#0e08fd,#0813fd,#0324fe,#003dff,#005cff,#007fff,#00a1ff,#00bdff,#00d1fc,#00dbef,#00ddde,#00dbca,#00d9b4,#00da9f,#01e089,#01e975,#01f261,#01fb4e,#00ff3c,#00ff2b,#00ff1c,#02ff0f,#0cff05,#1dfe00,#36fd00,#54fd00,#74fe00,#95fe00,#b2ff01,#ccff01,#e1ff01,#f2ff01,#feff00,#ffff00,#fffb00,#fff500,#ffee00,#ffe700,#fedf00,#fdd700,#fdce00,#fec600,#ffbe00,#ffb600,#ffaf00,#ffa900,#ffa200,#ff9c00,#ff9600,#ff9000,#ff8a00,#ff8400,#ff7d00,#ff7500,#ff6d00,#ff6500,#ff5d00,#ff5500,#ff4f00,#ff4900,#ff4500,#ff4100,#ff3f00,#ff3d00,#ff3d00,#ff3d00,#ff3d00,#ff3e00,#ff3f00,#ff4000,#ff4000,#ff4000,#ff3f00,#ff3e00)"></i>
<i style="background:linear-gradient(90deg,#3201ff,#3202ff,#3106ff,#2d06ff,#2804ff,#2201ff,#1b00ff,#1400fe,#0d03fd,#070dfd,#031efe,#0038ff,#005aff,#0080ff,#00a5ff,#00c4ff,#00d9fc,#00e3ef,#00e4de,#00e0c9,#00dcb3,#00dc9d,#01e087,#01e972,#01f25e,#01fb4a,#00ff39,#00ff29,#00ff1a,#01ff0f,#0bff06,#1cfe00,#35fd00,#54fd00,#75fe00,#95fe00,#b3ff00,#cdff01,#e2ff01,#f3ff01,#ffff00,#ffff00,#fffb00,#fff600,#ffef00,#ffe700,#fedf00,#fdd700,#fdce00,#fec500,#ffbd00,#ffb600,#ffaf00,#ffa800,#ffa200,#ff9c00,#ff9600,#ff9000,#ff8a00,#ff8400,#ff7d00,#ff7500,#ff6d00,#ff6500,#ff5d00,#ff5500,#ff4f00,#ff4900,#ff4400,#ff4100,#ff3e00,#ff3d00,#ff3c00,#ff3d00,#ff3d00,#ff3e00,#ff3f00,#ff4000,#ff4000,#ff3f00,#ff3e00,#ff3e00)"></i>
<i style="background:linear-gradient(90deg,#3101ff,#3103ff,#3009ff,#2c0aff,#2707ff,#2102ff,#1a00ff,#1400fe,#0d00fd,#0708fd,#0218fe,#0033ff,#0058ff,#0081ff,#00a9ff,#00cbff,#00e1fc,#00ebef,#00eadd,#00e5c9,#00dfb2,#00dd9b,#01e185,#01e86f,#01f25b,#01fb47,#00ff36,#00ff26,#00ff19,#01ff0e,#0aff06,#1bfe01,#35fd00,#53fd00,#74fe00,#96fe00,#b4ff00,#ceff01,#e3ff01,#f4ff01,#ffff00,#ffff00,#fffb00,#fff600,#ffef00,#ffe800,#fde000,#fdd700,#fdce00,#fec500,#ffbd00,#ffb500,#ffae00,#ffa800,#ffa200,#ff9c00,#ff9600,#ff9000,#ff8a00,#ff8400,#ff7d00,#ff7600,#ff6e00,#ff6500,#ff5d00,#ff5600,#ff4f00,#ff4900,#ff4500,#ff4100,#ff3e00,#ff3d00,#ff3c00,#ff3c00,#ff3d00,#ff3e00,#ff3f00,#ff3f00,#ff4000,#ff3f00,#ff3e00,#ff3d00)"></i>
<i style="background:linear-gradient(90deg,#3101ff,#3104ff,#2f0cff,#2b0dff,#2609ff,#2003ff,#1900ff,#1300fe,#0c00fd,#0702fd,#0213fe,#002eff,#0055ff,#0081ff,#00adff,#00d1ff,#00e9fc,#00f2ee,#00f1dd,#00eac8,#00e2b1,#00df99,#01e182,#01e96c,#01f257,#01fb44,#00ff33,#00ff24,#00ff18,#00ff0e,#09ff06,#1bfe01,#34fd00,#52fd00,#74fe00,#95fe00,#b3ff00,#ceff01,#e3ff01,#f4ff00,#ffff00,#ffff00,#fffb00,#fff600,#fff000,#ffe800,#fde000,#fcd700,#fdce00,#fec500,#ffbd00,#ffb500,#ffae00,#ffa700,#ffa100,#ff9c00,#ff9600,#ff9100,#ff8b00,#ff8500,#ff7e00,#ff7600,#ff6e00,#ff6600,#ff5e00,#ff5600,#ff4f00,#ff4900,#ff4500,#ff4100,#ff3e00,#ff3d00,#ff3c00,#ff3c00,#ff3d00,#ff3d00,#ff3e00,#ff3f00,#ff3f00,#ff3f00,#ff3e00,#ff3d00)"></i>
<i style="background:linear-gradient(90deg,#3001ff,#3005ff,#2e0eff,#2a10ff,#250cff,#1f05ff,#1800ff,#1200fd,#0c00fd,#0600fd,#020dfe,#002aff,#0053ff,#0082ff,#00b0ff,#00d7ff,#00f0fc,#00f9ee,#00f7dc,#00eec7,#00e5b0,#00e098,#01e280,#01e96a,#02f255,#01fb41,#00ff30,#00ff22,#00ff16,#00ff0d,#09ff06,#1afe02,#33fd00,#51fd00,#73fe00,#94fe00,#b2ff00,#cdff01,#e3ff01,#f3ff00,#ffff00,#ffff00,#fffc00,#fff600,#fff000,#ffe900,#fde100,#fcd800,#fdcf00,#fec600,#ffbd00,#ffb500,#ffae00,#ffa700,#ffa100,#ff9c00,#ff9600,#ff9100,#ff8b00,#ff8500,#ff7e00,#ff7700,#ff6f00,#ff6700,#ff5e00,#ff5700,#ff5000,#ff4a00,#ff4500,#ff4100,#ff3e00,#ff3d00,#ff3c00,#ff3c00,#ff3c00,#ff3d00,#ff3e00,#ff3f00,#ff3f00,#ff3f00,#ff3d00,#ff3d00)"></i>
<i style="background:linear-gradient(90deg,#3001ff,#2f05ff,#2c11ff,#2813ff,#230eff,#1d06ff,#1700ff,#1100fd,#0b00fd,#0600fd,#0208fe,#0026ff,#0050ff,#0082ff,#00b3ff,#00dcff,#00f7fc,#00ffee,#00fcdc,#00f3c6,#00e8ae,#00e296,#01e37e,#01e967,#02f252,#01fb3e,#00ff2e,#00ff20,#00ff15,#00ff0d,#08ff06,#19fe02,#31fd00,#50fd00,#71fe00,#92fe00,#b1ff00,#cbff00,#e2ff00,#f3ff00,#ffff00,#ffff00,#fffc00,#fff700,#fff100,#ffe900,#fde100,#fcd800,#fdcf00,#fec600,#ffbd00,#ffb500,#ffae00,#ffa700,#ffa200,#ff9c00,#ff9700,#ff9100,#ff8c00,#ff8600,#ff7f00,#ff7800,#ff7000,#ff6700,#ff5f00,#ff5700,#ff5000,#ff4a00,#ff4500,#ff4100,#ff3e00,#ff3c00,#ff3c00,#ff3c00,#ff3c00,#ff3d00,#ff3e00,#ff3e00,#ff3f00,#ff3e00,#ff3d00,#ff3d00)"></i>
<i style="background:linear-gradient(90deg,#2f01ff,#2e06ff,#2b13ff,#2716ff,#2110ff,#1c07ff,#1600ff,#1000fd,#0a00fd,#0600fd,#0203fd,#0022ff,#004eff,#0082ff,#00b5ff,#00e1ff,#00fcfc,#00ffee,#00ffdb,#00f7c5,#00ebad,#00e495,#01e47c,#01ea65,#02f24f,#01fb3c,#00ff2c,#00ff1e,#00ff14,#00ff0c,#07ff06,#18fe02,#30fe00,#4efd00,#6ffe00,#90fe00,#afff00,#caff00,#e0ff00,#f2ff00,#feff00,#ffff00,#fffb00,#fff700,#fff100,#ffea00,#fde200,#fcd900,#fdd000,#fec600,#ffbd00,#ffb500,#ffae00,#ffa800,#ffa200,#ff9c00,#ff9700,#ff9100,#ff8c00,#ff8600,#ff8000,#ff7800,#ff7000,#ff6800,#ff6000,#ff5800,#ff5100,#ff4b00,#ff4600,#ff4200,#ff3e00,#ff3d00,#ff3c00,#ff3c00,#ff3c00,#ff3d00,#ff3e00,#ff3e00,#ff3e00,#ff3e00,#ff3d00,#ff3c00)"></i>
<i style="background:linear-gradient(90deg,#2e01ff,#2e06ff,#2a15ff,#2518ff,#2012ff,#1a08ff,#1400ff,#0f00fd,#0a00fd,#0500fd,#0200fd,#001eff,#004cff,#0082ff,#00b7ff,#00e4ff,#00fffc,#00ffee,#00ffdb,#00fac5,#00edac,#00e593,#01e57b,#02ea63,#02f24d,#01fb3a,#00ff2a,#00ff1c,#00ff12,#00ff0b,#06ff06,#16fe02,#2efe00,#4cfd00,#6cfe00,#8dff00,#acff00,#c7ff00,#deff00,#f0ff00,#feff00,#ffff00,#fffb00,#fff700,#fff100,#ffeb00,#fde300,#fcda00,#fdd000,#fec700,#ffbe00,#ffb600,#ffae00,#ffa800,#ffa200,#ff9c00,#ff9700,#ff9200,#ff8c00,#ff8700,#ff8000,#ff7900,#ff7100,#ff6900,#ff6100,#ff5900,#ff5200,#ff4c00,#ff4600,#ff4200,#ff3f00,#ff3d00,#ff3c00,#ff3b00,#ff3c00,#ff3d00,#ff3d00,#ff3e00,#ff3e00,#ff3e00,#ff3d00,#ff3c00)"></i>
<i style="background:linear-gradient(90deg,#2e01ff,#2d06ff,#2816ff,#2319ff,#1e14ff,#1809ff,#1300ff,#0e00fd,#0900fd,#0500fd,#0200fd,#001cff,#004bff,#0082ff,#00b8ff,#00e7ff,#00fffc,#00ffee,#00ffdb,#00fec4,#00f0ac,#00e893,#01e77a,#02eb62,#02f34c,#01fb38,#00ff28,#00ff1b,#00ff11,#00ff0a,#06ff05,#15fe02,#2dfe00,#49fd00,#69fe00,#8aff00,#a9ff00,#c4ff00,#dcff00,#efff00,#fdff00,#fffe00,#fffb00,#fff700,#fff200,#ffeb00,#fde300,#fcda00,#fdd100,#fec700,#ffbe00,#ffb600,#ffaf00,#ffa800,#ffa200,#ff9d00,#ff9700,#ff9200,#ff8d00,#ff8700,#ff8100,#ff7a00,#ff7200,#ff6a00,#ff6200,#ff5a00,#ff5300,#ff4c00,#ff4700,#ff4200,#ff3f00,#ff3d00,#ff3c00,#ff3b00,#ff3c00,#ff3c00,#ff3d00,#ff3e00,#ff3e00,#ff3e00,#ff3c00,#ff3c00)"></i>
<i style="background:linear-gradient(90deg,#2d01ff,#2c06ff,#2717ff,#211bff,#1c15ff,#1609ff,#1100ff,#0c00fd,#0800fd,#0400fd,#0100fd,#001bff,#004aff,#0082ff,#00b9ff,#00e8ff,#00fffc,#00ffee,#00ffdb,#00ffc4,#00f3ac,#00ea92,#01e879,#02ed61,#02f44b,#01fb37,#00ff27,#00ff1a,#00ff10,#00ff09,#05ff04,#14fe01,#2bfe00,#47fe00,#66fe00,#86ff00,#a5ff00,#c1ff00,#d9ff00,#edff00,#fbff00,#fffe00,#fffb00,#fff700,#fff200,#ffec00,#fde400,#fddb00,#fdd200,#fec800,#ffbf00,#ffb600,#ffaf00,#ffa800,#ffa200,#ff9d00,#ff9800,#ff9200,#ff8d00,#ff8800,#ff8200,#ff7b00,#ff7300,#ff6b00,#ff6300,#ff5b00,#ff5400,#ff4d00,#ff4700,#ff4300,#ff3f00,#ff3d00,#ff3c00,#ff3b00,#ff3c00,#ff3c00,#ff3d00,#ff3d00,#ff3e00,#ff3d00,#ff3c00,#ff3c00)"></i>
<i style="background:linear-gradient(90deg,#2c00ff,#2b06ff,#2517ff,#201bff,#1a15ff,#150aff,#1000ff,#0b00fd,#0700fd,#0400fd,#0100fd,#001aff,#004aff,#0081ff,#00b9ff,#00e8ff,#00fffc,#00ffee,#00ffdb,#00ffc5,#00f5ac,#00ec93,#01ea79,#02ee61,#02f54b,#01fb37,#00ff26,#00ff19,#00ff0f,#00ff08,#04ff03,#13fe00,#28fe00,#43fe00,#62fe00,#82ff00,#a0ff00,#bdff00,#d6ff00,#ebff00,#faff00,#fffe00,#fffb00,#fff800,#fff200,#ffec00,#fee400,#fddc00,#fdd200,#fec900,#ffbf00,#ffb700,#ffaf00,#ffa900,#ffa300,#ff9d00,#ff9800,#ff9300,#ff8e00,#ff8800,#ff8200,#ff7b00,#ff7400,#ff6c00,#ff6400,#ff5c00,#ff5500,#ff4e00,#ff4800,#ff4300,#ff4000,#ff3d00,#ff3c00,#ff3b00,#ff3b00,#ff3c00,#ff3d00,#ff3d00,#ff3e00,#ff3d00,#ff3c00,#ff3c00)"></i>
<i style="background:linear-gradient(90deg,#2c00ff,#2a05ff,#2417ff,#1e1bff,#1815ff,#130aff,#0e00ff,#0a00fd,#0600fd,#0300fd,#0100fe,#001bff,#004aff,#0081ff,#00b8ff,#00e7ff,#00fffc,#00ffee,#00ffdb,#00ffc5,#00f7ad,#00ef94,#01ed7a,#02f062,#02f64b,#01fc37,#00ff26,#00ff18,#00ff0e,#00ff06,#04ff01,#11ff00,#26fe00,#40fe00,#5efe00,#7dff00,#9cff00,#b9ff01,#d2ff01,#e8ff00,#f9ff00,#fffe00,#fffb00,#fff800,#fff300,#ffed00,#fee500,#fddc00,#fdd300,#fec900,#ffc000,#ffb800,#ffb000,#ffa900,#ffa300,#ff9d00,#ff9800,#ff9300,#ff8e00,#ff8800,#ff8300,#ff7c00,#ff7400,#ff6d00,#ff6500,#ff5d00,#ff5600,#ff4f00,#ff4900,#ff4400,#ff4000,#ff3d00,#ff3c00,#ff3b00,#ff3b00,#ff3c00,#ff3c00,#ff3d00,#ff3d00,#ff3d00,#ff3c00,#ff3c00)"></i>
<i style="background:linear-gradient(90deg,#2b00ff,#2a04ff,#2315ff,#1c1aff,#1615ff,#110bff,#0c00ff,#0900fe,#0500fd,#0300fd,#0100fe,#001dff,#004bff,#0081ff,#00b6ff,#00e5ff,#00fffc,#00ffee,#00ffdc,#00ffc6,#00f9ae,#00f195,#01ef7c,#02f264,#02f74d,#01fc38,#00ff26,#00ff18,#00ff0d,#00ff04,#03ff00,#10ff00,#24fe00,#3dfe00,#59fe00,#78ff00,#96ff00,#b4ff01,#cfff01,#e5ff01,#f7ff00,#fffe00,#fffc00,#fff800,#fff300,#ffed00,#ffe500,#fddd00,#fdd300,#feca00,#ffc100,#ffb800,#ffb000,#ffa900,#ffa300,#ff9d00,#ff9800,#ff9300,#ff8e00,#ff8900,#ff8300,#ff7c00,#ff7500,#ff6d00,#ff6600,#ff5e00,#ff5700,#ff5000,#ff4a00,#ff4500,#ff4100,#ff3e00,#ff3c00,#ff3b00,#ff3b00,#ff3c00,#ff3c00,#ff3d00,#ff3d00,#ff3d00,#ff3c00,#ff3c00)"></i>
<i style="background:linear-gradient(90deg,#2a00ff,#2903ff,#2114ff,#1a18ff,#1414ff,#0f0bff,#0b00ff,#0700fe,#0400fd,#0200fd,#0103fe,#0021ff,#004dff,#0080ff,#00b4ff,#00e1ff,#00fffc,#00ffef,#00ffdd,#00ffc8,#00fbb0,#00f498,#01f27f,#01f466,#02f84f,#01fd3a,#00ff27,#00ff18,#00ff0c,#00ff03,#02ff00,#0eff00,#21fe00,#39fe00,#54fe00,#72ff00,#91ff01,#afff01,#cbff01,#e2ff01,#f5ff00,#fffe00,#fffc00,#fff800,#fff300,#ffed00,#ffe600,#fedd00,#fdd400,#fecb00,#fec100,#ffb900,#ffb100,#ffaa00,#ffa300,#ff9d00,#ff9800,#ff9300,#ff8e00,#ff8900,#ff8300,#ff7d00,#ff7600,#ff6e00,#ff6600,#ff5f00,#ff5800,#ff5100,#ff4b00,#ff4500,#ff4100,#ff3e00,#ff3c00,#ff3b00,#ff3b00,#ff3b00,#ff3c00,#ff3d00,#ff3d00,#ff3d00,#ff3d00,#ff3c00)"></i>
<i style="background:linear-gradient(90deg,#2a00ff,#2802ff,#2012ff,#1916ff,#1313ff,#0e0bff,#0901ff,#0600fe,#0400fd,#0200fd,#0109fe,#0025ff,#004fff,#0080ff,#00b1ff,#00dcff,#00fafc,#00ffef,#00ffde,#00ffca,#00fdb3,#00f79b,#01f582,#01f769,#02fa52,#01fd3c,#00ff29,#00ff19,#00ff0b,#00ff01,#02ff00,#0dff00,#1efe00,#35fe00,#4ffe00,#6dff00,#8bff01,#aaff02,#c6ff01,#dfff01,#f3ff00,#ffff00,#fffc00,#fff800,#fff300,#ffed00,#ffe600,#fedd00,#fed400,#fecb00,#fec200,#ffb900,#ffb100,#ffaa00,#ffa300,#ff9d00,#ff9800,#ff9300,#ff8e00,#ff8900,#ff8300,#ff7d00,#ff7600,#ff6f00,#ff6700,#ff6000,#ff5900,#ff5200,#ff4b00,#ff4600,#ff4200,#ff3f00,#ff3d00,#ff3b00,#ff3b00,#ff3b00,#ff3c00,#ff3d00,#ff3d00,#ff3d00,#ff3d00,#ff3d00)"></i>
<i style="background:linear-gradient(90deg,#2900ff,#2701ff,#1e0fff,#1714ff,#1112ff,#0c0bff,#0803ff,#0500fe,#0300fd,#0100fd,#000ffe,#002aff,#0051ff,#0080ff,#00aeff,#00d7ff,#00f4fc,#00fff0,#00ffe0,#00ffcc,#00feb6,#00fa9e,#01f886,#01f96d,#02fb56,#01fe40,#00ff2c,#00ff1a,#00ff0c,#00ff00,#01ff00,#0bff00,#1cfe00,#31fe00,#4afe00,#67ff00,#85ff01,#a4ff02,#c2ff02,#dcff01,#f1ff00,#ffff00,#fffc00,#fff800,#fff300,#ffed00,#ffe600,#fede00,#fed500,#fecc00,#fec300,#feba00,#ffb200,#ffab00,#ffa400,#ff9d00,#ff9800,#ff9300,#ff8e00,#ff8900,#ff8300,#ff7d00,#ff7700,#ff7000,#ff6800,#ff6100,#ff5900,#ff5300,#ff4c00,#ff4700,#ff4200,#ff3f00,#ff3d00,#ff3c00,#ff3b00,#ff3b00,#ff3c00,#ff3c00,#ff3d00,#ff3d00,#ff3d00,#ff3d00)"></i>
<i style="background:linear-gradient(90deg,#2800ff,#2600ff,#1d0dff,#1511ff,#0f10ff,#0a0bff,#0706ff,#0401fe,#0201fd,#0107fd,#0016fe,#0030ff,#0054ff,#007fff,#00aaff,#00d1ff,#00edfc,#00fdf1,#00ffe1,#00ffce,#00ffb9,#00fca2,#01fb8a,#01fc72,#01fd5a,#01ff44,#00ff2f,#00ff1c,#00ff0c,#00ff00,#01ff00,#0aff00,#19fe00,#2dfe00,#45fe00,#61ff00,#7fff01,#9eff02,#bdff02,#d8ff01,#efff00,#feff00,#fffd00,#fff900,#fff300,#ffed00,#ffe600,#ffde00,#fed500,#fecd00,#fec400,#febb00,#ffb300,#ffab00,#ffa400,#ff9d00,#ff9800,#ff9200,#ff8e00,#ff8900,#ff8300,#ff7d00,#ff7700,#ff7000,#ff6900,#ff6200,#ff5a00,#ff5400,#ff4d00,#ff4700,#ff4300,#ff3f00,#ff3d00,#ff3c00,#ff3b00,#ff3b00,#ff3c00,#ff3c00,#ff3d00,#ff3d00,#ff3d00,#ff3d00)"></i>
<i style="background:linear-gradient(90deg,#2700ff,#2500ff,#1b0aff,#130fff,#0d0eff,#090cff,#0508ff,#0306fe,#0108fd,#010ffd,#001dfe,#0036ff,#0058ff,#007fff,#00a7ff,#00caff,#00e6fc,#00f6f2,#00fee3,#00ffd1,#00ffbc,#00fea6,#01fe8f,#01fe77,#01fe5f,#01ff48,#00ff33,#00ff1f,#00ff0e,#00ff00,#00ff00,#09ff00,#16fe00,#29fe00,#40fe00,#5aff00,#78ff01,#98ff02,#b8ff02,#d5ff01,#ecff00,#fcff00,#fffd00,#fff900,#fff300,#ffed00,#ffe600,#ffde00,#fed600,#fecd00,#fec400,#febc00,#feb300,#ffac00,#ffa400,#ff9d00,#ff9700,#ff9200,#ff8d00,#ff8800,#ff8300,#ff7e00,#ff7700,#ff7100,#ff6a00,#ff6200,#ff5b00,#ff5400,#ff4e00,#ff4800,#ff4300,#ff4000,#ff3d00,#ff3c00,#ff3b00,#ff3b00,#ff3c00,#ff3c00,#ff3d00,#ff3d00,#ff3d00,#ff3d00)"></i>
<i style="background:linear-gradient(90deg,#2600ff,#2400ff,#1a08ff,#120cff,#0c0dff,#070cff,#040bff,#020bfe,#010efd,#0017fd,#0025fe,#003cff,#005bff,#007fff,#00a3ff,#00c4ff,#00defd,#00eff2,#00f9e4,#00fed3,#00ffc0,#00ffaa,#01ff94,#01ff7c,#01ff65,#01ff4e,#00ff37,#00ff22,#00ff10,#00ff01,#00ff00,#07ff00,#14fe00,#25fe00,#3afe00,#54ff00,#72ff01,#92ff03,#b3ff02,#d1ff01,#e9ff00,#fbff00,#fffd00,#fff800,#fff300,#ffed00,#ffe600,#ffde00,#fed600,#fece00,#fec500,#febd00,#feb400,#ffac00,#ffa400,#ff9d00,#ff9700,#ff9200,#ff8d00,#ff8800,#ff8300,#ff7e00,#ff7800,#ff7100,#ff6a00,#ff6300,#ff5c00,#ff5500,#ff4f00,#ff4900,#ff4400,#ff4000,#ff3e00,#ff3c00,#ff3b00,#ff3b00,#ff3c00,#ff3c00,#ff3d00,#ff3d00,#ff3e00,#ff3e00)"></i>
<i style="background:linear-gradient(90deg,#2500ff,#2200ff,#1806ff,#100aff,#0a0cff,#060dff,#030eff,#0110fe,#0015fd,#001ffd,#002dfe,#0043ff,#005fff,#007eff,#009fff,#00bdff,#00d6fd,#00e8f3,#00f4e6,#00fbd6,#00ffc3,#00ffaf,#01ff99,#01ff82,#01ff6b,#01ff54,#00ff3d,#00ff27,#00ff13,#00ff03,#00ff00,#06ff00,#11fe00,#21fe00,#35fe00,#4eff00,#6bff01,#8cff03,#adff03,#ccff01,#e6ff00,#f8ff00,#fffd00,#fff800,#fff300,#ffed00,#ffe600,#ffdf00,#fed700,#fecf00,#fec600,#febe00,#feb500,#ffad00,#ffa500,#ff9d00,#ff9700,#ff9200,#ff8d00,#ff8800,#ff8300,#ff7e00,#ff7800,#ff7100,#ff6b00,#ff6400,#ff5d00,#ff5600,#ff5000,#ff4a00,#ff4500,#ff4100,#ff3e00,#ff3d00,#ff3c00,#ff3b00,#ff3c00,#ff3c00,#ff3d00,#ff3e00,#ff3e00,#ff3e00)"></i>
<i style="background:linear-gradient(90deg,#2300ff,#2100ff,#1704ff,#0f08ff,#090bff,#050dff,#0211ff,#0015fe,#001cfe,#0027fd,#0035fe,#0049ff,#0062ff,#007eff,#009bff,#00b6ff,#00cdfd,#00e0f4,#00eee8,#00f8d9,#00ffc7,#00ffb4,#01ff9f,#01ff89,#01ff72,#01ff5a,#00ff43,#00fe2c,#00fe17,#00fe06,#00ff00,#05ff00,#0eff00,#1dfe00,#2ffe00,#47ff00,#64ff01,#85ff03,#a8ff03,#c8ff01,#e3ff00,#f6ff00,#fffc00,#fff800,#fff300,#ffed00,#ffe600,#ffdf00,#fed800,#fed000,#fec800,#febf00,#feb600,#ffad00,#ffa500,#ff9e00,#ff9700,#ff9100,#ff8c00,#ff8700,#ff8300,#ff7d00,#ff7800,#ff7200,#ff6b00,#ff6500,#ff5e00,#ff5700,#ff5000,#ff4a00,#ff4500,#ff4100,#ff3f00,#ff3d00,#ff3c00,#ff3b00,#ff3c00,#ff3c00,#ff3d00,#ff3e00,#ff3e00,#ff3e00)"></i>
<i style="background:linear-gradient(90deg,#2200ff,#1f00ff,#1503ff,#0d07ff,#080aff,#040fff,#0114ff,#001afe,#0023fe,#002efe,#003dfe,#004fff,#0065ff,#007eff,#0097ff,#00afff,#00c6fd,#00d9f5,#00e8ea,#00f5db,#00fdcb,#00ffb9,#01ffa5,#01ff8f,#01ff79,#01ff62,#00ff4a,#00fe32,#00fe1d,#00fe0a,#00ff00,#04ff00,#0cff00,#19ff00,#2afe00,#41ff00,#5eff01,#7fff03,#a2ff03,#c3ff01,#dfff00,#f3ff00,#fffc00,#fff800,#fff200,#ffec00,#ffe600,#ffdf00,#fed800,#fed100,#fec900,#fec000,#ffb700,#ffae00,#ffa600,#ff9e00,#ff9700,#ff9100,#ff8c00,#ff8700,#ff8200,#ff7d00,#ff7800,#ff7200,#ff6c00,#ff6500,#ff5e00,#ff5800,#ff5100,#ff4b00,#ff4600,#ff4200,#ff3f00,#ff3d00,#ff3c00,#ff3c00,#ff3c00,#ff3c00,#ff3d00,#ff3e00,#ff3e00,#ff3f00)"></i>
<i style="background:linear-gradient(90deg,#2000ff,#1e00ff,#1402ff,#0c06ff,#060aff,#0310ff,#0017ff,#001ffe,#002afe,#0036fe,#0044fe,#0055ff,#0069ff,#007eff,#0093ff,#00a9ff,#00befd,#00d1f6,#00e3eb,#00f1de,#00fccf,#00ffbd,#01ffaa,#01ff96,#01ff80,#01ff6a,#00ff52,#00fe3a,#00fe23,#00fe10,#00ff00,#03ff00,#0aff00,#15ff00,#25ff00,#3bff00,#57ff01,#79ff03,#9cff02,#beff01,#dbff00,#f0ff00,#fcfb00,#fff700,#fff200,#ffec00,#ffe600,#ffe000,#fed900,#fed200,#feca00,#ffc200,#ffb800,#ffaf00,#ffa600,#ff9e00,#ff9700,#ff9100,#ff8c00,#ff8700,#ff8200,#ff7d00,#ff7800,#ff7200,#ff6c00,#ff6600,#ff5f00,#ff5800,#ff5200,#ff4c00,#ff4700,#ff4300,#ff4000,#ff3e00,#ff3c00,#ff3c00,#ff3c00,#ff3c00,#ff3d00,#ff3e00,#ff3f00,#ff3f00)"></i>
<i style="background:linear-gradient(90deg,#1e00ff,#1c00ff,#1202ff,#0b06ff,#050bff,#0212ff,#001aff,#0024fe,#0030fe,#003dfe,#004bfe,#005bff,#006bff,#007dff,#0090ff,#00a4ff,#00b7fd,#00cbf6,#00dded,#00ede1,#00f9d2,#00ffc2,#00ffb0,#01ff9d,#01ff88,#00ff72,#00fe5b,#00fe43,#00fe2b,#00fe17,#00ff07,#02ff00,#08ff00,#12ff00,#20ff00,#35ff00,#51ff01,#72ff02,#96ff02,#b9ff01,#d7ff00,#edfe00,#f9fb00,#fff600,#fff100,#ffec00,#fee600,#fee000,#feda00,#fed300,#ffcc00,#ffc300,#ffba00,#ffb000,#ffa700,#ff9e00,#ff9700,#ff9000,#ff8b00,#ff8600,#ff8200,#ff7d00,#ff7800,#ff7200,#ff6c00,#ff6600,#ff6000,#ff5900,#ff5200,#ff4c00,#ff4700,#ff4300,#ff4000,#ff3e00,#ff3d00,#ff3c00,#ff3c00,#ff3c00,#ff3d00,#ff3e00,#ff3f00,#ff3f00)"></i>
<i style="background:linear-gradient(90deg,#1c03ff,#1a02ff,#1003ff,#0906ff,#040cff,#0114ff,#001eff,#0029fe,#0035fe,#0043fe,#0051fe,#005fff,#006eff,#007dff,#008eff,#009fff,#00b1fe,#00c4f7,#00d7ee,#00e8e3,#00f6d6,#00ffc7,#00ffb6,#01ffa4,#01ff91,#00ff7b,#00fe64,#00fd4c,#00fd35,#00fe20,#00ff0f,#01ff03,#06ff00,#0eff00,#1cff00,#2fff00,#4aff01,#6cff02,#90ff02,#b4ff01,#d2ff01,#e9fd00,#f6f900,#fcf500,#fef000,#feeb00,#fde600,#fde100,#fedb00,#fed400,#ffcd00,#ffc500,#ffbb00,#ffb100,#ffa700,#ff9e00,#ff9700,#ff9000,#ff8b00,#ff8600,#ff8100,#ff7d00,#ff7700,#ff7200,#ff6c00,#ff6600,#ff6000,#ff5900,#ff5300,#ff4d00,#ff4800,#ff4400,#ff4100,#ff3e00,#ff3d00,#ff3c00,#ff3c00,#ff3d00,#ff3d00,#ff3e00,#ff3f00,#ff3f00)"></i>
<i style="background:linear-gradient(90deg,#1906ff,#1705ff,#0f05ff,#0808ff,#030eff,#0017ff,#0021ff,#002dfe,#003afe,#0048fe,#0056fe,#0063ff,#0070ff,#007dff,#008bff,#009aff,#00acfe,#00bff8,#00d2ef,#00e4e5,#00f3d9,#00fdcb,#00ffbc,#00ffab,#00ff99,#00ff85,#00fe6f,#00fd57,#00fd40,#00fe2a,#00ff18,#00ff0b,#04ff03,#0bff00,#17ff00,#2aff00,#44ff00,#66ff01,#8aff01,#aeff01,#cdfe01,#e4fb01,#f2f800,#f9f400,#fbf000,#fbeb00,#fbe600,#fce100,#fddc00,#ffd600,#ffcf00,#ffc600,#ffbd00,#ffb200,#ffa800,#ff9f00,#ff9700,#ff9000,#ff8a00,#ff8600,#ff8100,#ff7c00,#ff7700,#ff7200,#ff6c00,#ff6600,#ff6000,#ff5a00,#ff5300,#ff4e00,#ff4800,#ff4400,#ff4100,#ff3f00,#ff3d00,#ff3d00,#ff3d00,#ff3d00,#ff3d00,#ff3e00,#ff3f00,#ff3f00)"></i>
<i style="background:linear-gradient(90deg,#1709ff,#1508ff,#0d07ff,#070aff,#0310ff,#0019ff,#0024ff,#0031fe,#003efe,#004cfe,#005afe,#0066ff,#0072ff,#007dff,#0089ff,#0097ff,#00a7fe,#00b9f8,#00cdf0,#00dfe7,#00efdc,#00f9cf,#00ffc2,#00ffb3,#00ffa2,#00ff8f,#00fe7a,#00fd63,#00fe4c,#00fe36,#00ff23,#00ff15,#02ff0b,#08ff05,#13ff01,#25ff00,#3fff00,#60ff00,#84ff00,#a8fe01,#c8fc01,#dffa01,#eef701,#f5f301,#f8ef00,#f9ea00,#f9e600,#fbe200,#fddd00,#ffd700,#ffd000,#ffc800,#ffbe00,#ffb400,#ffa900,#ff9f00,#fe9700,#fe9000,#fe8a00,#ff8500,#ff8100,#ff7c00,#ff7700,#ff7200,#ff6c00,#ff6700,#ff6000,#ff5a00,#ff5400,#ff4e00,#ff4900,#ff4500,#ff4200,#ff3f00,#ff3e00,#ff3d00,#ff3d00,#ff3d00,#ff3d00,#ff3e00,#ff3f00,#ff3f00)"></i>
<i style="background:linear-gradient(90deg,#140dff,#120cff,#0b0aff,#060dff,#0213ff,#001cff,#0028ff,#0035fe,#0042fe,#0050fe,#005dfe,#0069ff,#0073ff,#007dff,#0087ff,#0094ff,#00a3fe,#00b5f9,#00c8f2,#00dae9,#00eadf,#00f6d4,#00fcc7,#00ffba,#00ffab,#00fe99,#00fd85,#00fd6f,#00fe59,#00fe43,#00ff2f,#00ff1f,#01ff13,#06ff0a,#0fff04,#20ff01,#39ff00,#5afe00,#7efe00,#a2fc00,#c2fb01,#daf802,#e9f502,#f1f201,#f4ee00,#f6ea00,#f7e600,#f9e200,#fcde00,#ffd900,#ffd200,#ffca00,#ffc000,#ffb500,#ffaa00,#ffa000,#fe9700,#fe9000,#fe8a00,#ff8500,#ff8000,#ff7c00,#ff7700,#ff7200,#ff6c00,#ff6700,#ff6100,#ff5a00,#ff5400,#ff4f00,#ff4a00,#ff4500,#ff4200,#ff4000,#ff3e00,#ff3e00,#ff3d00,#ff3d00,#ff3e00,#ff3e00,#ff3f00,#ff3f00)"></i>
<i style="background:linear-gradient(90deg,#1111ff,#1010ff,#090eff,#0510ff,#0216ff,#001fff,#002bff,#0038fe,#0045fe,#0053fe,#0060fe,#006bff,#0074ff,#007cff,#0086ff,#0091ff,#009ffe,#00b0f9,#00c3f3,#00d5ea,#00e5e1,#00f1d7,#00f9cd,#00fcc1,#00feb3,#00fea3,#00fd91,#00fe7c,#00fe66,#00ff50,#00ff3b,#00ff2a,#00ff1b,#03ff10,#0cff08,#1bff02,#34ff00,#54fe00,#78fd00,#9cfb00,#bcf901,#d4f702,#e3f402,#ecf002,#f0ed01,#f2ea00,#f4e600,#f8e300,#fbdf00,#ffda00,#ffd400,#ffcc00,#ffc200,#ffb700,#ffab00,#ffa100,#fe9800,#fe9000,#fe8a00,#ff8500,#ff8000,#ff7c00,#ff7700,#ff7200,#ff6c00,#ff6700,#ff6100,#ff5b00,#ff5500,#ff4f00,#ff4a00,#ff4600,#ff4300,#ff4100,#ff3f00,#ff3e00,#ff3e00,#ff3e00,#ff3e00,#ff3e00,#ff3f00,#ff3f00)"></i>
<i style="background:linear-gradient(90deg,#0e15ff,#0d14ff,#0811ff,#0413ff,#0119ff,#0022ff,#002eff,#003bff,#0048fe,#0055fe,#0062ff,#006cff,#0074ff,#007cff,#0084ff,#008eff,#009bfe,#00abf9,#00bdf3,#00cfec,#00e0e4,#00ecdb,#00f4d2,#00f9c8,#00fcbc,#00fdad,#00fd9c,#00fe89,#00fe73,#00ff5d,#00ff48,#00ff35,#00ff24,#01ff16,#09ff0b,#17ff03,#2eff00,#4efe00,#72fc00,#96fa00,#b6f801,#cef503,#def203,#e7ef02,#ecec01,#efe900,#f2e700,#f6e400,#fae000,#fedc00,#ffd600,#ffce00,#ffc300,#ffb800,#ffad00,#ffa200,#fe9900,#fe9100,#fe8b00,#ff8500,#ff8000,#ff7b00,#ff7700,#ff7200,#ff6c00,#ff6700,#ff6100,#ff5b00,#ff5500,#ff5000,#ff4b00,#ff4700,#ff4400,#ff4100,#ff4000,#ff3f00,#ff3e00,#ff3e00,#ff3e00,#ff3e00,#ff3f00,#ff3f00)"></i>
<i style="background:linear-gradient(90deg,#0c19ff,#0b18ff,#0615ff,#0317ff,#011dff,#0025ff,#0031ff,#003dff,#004afe,#0057fe,#0063ff,#006dff,#0074ff,#007bff,#0082ff,#008bff,#0098fe,#00a7fa,#00b8f4,#00caee,#00dae6,#00e7df,#00f0d7,#00f6ce,#00fac4,#00fcb7,#00fda8,#00fe95,#00ff80,#00ff6b,#00ff55,#00ff40,#00ff2d,#00ff1c,#06ff0e,#13ff04,#29ff00,#48fd00,#6bfb00,#8ff900,#aff601,#c8f303,#d8f103,#e1ee02,#e7eb01,#ebe900,#efe700,#f4e500,#f9e200,#fede00,#ffd800,#ffd000,#ffc500,#ffba00,#ffae00,#ffa300,#fe9a00,#fe9200,#fe8b00,#ff8600,#ff8100,#ff7c00,#ff7700,#ff7200,#ff6d00,#ff6700,#ff6100,#ff5c00,#ff5600,#ff5000,#ff4c00,#ff4800,#ff4400,#ff4200,#ff4000,#ff3f00,#ff3f00,#ff3e00,#ff3e00,#ff3f00,#ff3f00,#ff3f00)"></i>
<i style="background:linear-gradient(90deg,#091cff,#081bff,#0518ff,#021aff,#0120ff,#0028ff,#0033ff,#003fff,#004cfe,#0058fe,#0063ff,#006dff,#0074ff,#007aff,#0081ff,#0089ff,#0094fe,#00a3fa,#00b3f5,#00c4ef,#00d4e9,#00e1e2,#00ebdc,#00f3d5,#00f8cc,#00fcc1,#00feb3,#01ffa1,#01ff8d,#01ff78,#00ff62,#00ff4b,#00ff36,#00ff22,#03ff11,#0fff05,#25ff00,#43fd00,#65fa00,#88f800,#a8f501,#c1f203,#d1ef04,#dced03,#e2eb01,#e7e900,#ece700,#f2e500,#f8e300,#fddf00,#ffda00,#ffd200,#ffc700,#ffbc00,#ffb000,#ffa500,#fe9b00,#fd9300,#fe8c00,#fe8600,#ff8100,#ff7c00,#ff7700,#ff7200,#ff6d00,#ff6700,#ff6200,#ff5c00,#ff5600,#ff5100,#ff4c00,#ff4800,#ff4500,#ff4300,#ff4100,#ff4000,#ff3f00,#ff3f00,#ff3f00,#ff3f00,#ff3f00,#ff3f00)"></i>
<i style="background:linear-gradient(90deg,#0720ff,#061fff,#041cff,#021dff,#0023ff,#002bff,#0035ff,#0041ff,#004dfe,#0059fe,#0063ff,#006cff,#0073ff,#0079ff,#007fff,#0086ff,#0091fe,#009efa,#00aef6,#00bef0,#00ceeb,#00dbe5,#00e7e0,#00f0db,#00f6d3,#00fbca,#00febd,#01ffad,#01ff9a,#01ff84,#00ff6e,#00ff56,#00ff3e,#00ff28,#01ff15,#0cff06,#20ff00,#3dfc00,#5ffa00,#81f700,#a1f401,#b9f103,#caee04,#d6ec03,#ddea01,#e3e800,#e9e700,#f0e600,#f6e400,#fce100,#ffdb00,#ffd300,#ffc900,#ffbe00,#ffb200,#ffa700,#fe9d00,#fd9400,#fe8d00,#fe8700,#ff8200,#ff7d00,#ff7700,#ff7200,#ff6d00,#ff6800,#ff6200,#ff5d00,#ff5700,#ff5200,#ff4d00,#ff4900,#ff4600,#ff4400,#ff4200,#ff4100,#ff4000,#ff3f00,#ff3f00,#ff3f00,#ff3f00,#ff3f00)"></i>
<i style="background:linear-gradient(90deg,#0423ff,#0422ff,#021fff,#0120ff,#0025ff,#002dff,#0037ff,#0042ff,#004dfe,#0059fe,#0063ff,#006bff,#0071ff,#0077ff,#007cff,#0083ff,#008dfe,#009afb,#00a8f6,#00b8f2,#00c7ed,#00d5e8,#00e2e4,#00ece0,#00f5da,#00fbd2,#00ffc7,#01ffb8,#02ffa5,#02ff90,#01ff79,#00ff60,#00ff46,#00ff2d,#00ff18,#09ff07,#1cff00,#38fc00,#59f900,#7af600,#99f200,#b2f003,#c3ed04,#cfeb03,#d8e902,#dfe800,#e6e700,#ede600,#f5e500,#fbe200,#ffdd00,#ffd500,#ffcb00,#ffc000,#ffb400,#ffa900,#fe9f00,#fe9600,#fe8f00,#fe8900,#ff8300,#ff7d00,#ff7800,#ff7300,#ff6e00,#ff6800,#ff6300,#ff5d00,#ff5800,#ff5300,#ff4e00,#ff4a00,#ff4700,#ff4500,#ff4300,#ff4100,#ff4000,#ff4000,#ff3f00,#ff3f00,#ff3f00,#ff3f00)"></i>
<i style="background:linear-gradient(90deg,#0225ff,#0224ff,#0122ff,#0123ff,#0028ff,#002fff,#0038ff,#0043ff,#004dfe,#0058fe,#0061ff,#0069ff,#006fff,#0074ff,#007aff,#0080ff,#0089fe,#0095fb,#00a3f7,#00b1f3,#00c1ef,#00cfeb,#00dde8,#00e9e5,#00f3e1,#00fbda,#00ffcf,#01ffc1,#02ffb0,#02ff9b,#01ff83,#00ff69,#00ff4d,#00ff32,#00ff1a,#07ff07,#19fe00,#33fc00,#52f900,#73f500,#91f200,#aaef03,#bcec04,#c9ea03,#d2e902,#dae800,#e2e800,#ebe700,#f3e600,#fae300,#ffde00,#ffd700,#ffce00,#ffc300,#ffb700,#ffac00,#fea100,#fe9900,#fe9100,#fe8a00,#ff8400,#ff7f00,#ff7900,#ff7400,#ff6f00,#ff6900,#ff6400,#ff5e00,#ff5900,#ff5400,#ff4f00,#ff4b00,#ff4800,#ff4600,#ff4400,#ff4200,#ff4100,#ff4000,#ff4000,#ff3f00,#ff3f00,#ff3f00)"></i>
<i style="background:linear-gradient(90deg,#0127ff,#0126ff,#0024ff,#0025ff,#0029ff,#0030ff,#0039ff,#0043ff,#004dfe,#0057fe,#0060ff,#0067ff,#006dff,#0072ff,#0077ff,#007dff,#0085fe,#0090fb,#009df8,#00abf4,#00baf0,#00c9ee,#00d8ec,#00e6ea,#00f1e6,#00fbe0,#00ffd7,#01ffc9,#02ffb8,#02ffa4,#01ff8c,#00ff71,#00ff53,#00ff37,#00ff1d,#04ff08,#15fe00,#2efc00,#4cf900,#6bf500,#89f100,#a1ee02,#b4ec03,#c2ea03,#cde902,#d6e800,#dfe800,#e8e700,#f1e600,#f8e400,#fee000,#ffd900,#ffd000,#ffc500,#ffba00,#ffae00,#fea400,#fe9b00,#fe9400,#ff8d00,#ff8600,#ff8000,#ff7a00,#ff7500,#ff7000,#ff6a00,#ff6500,#ff5f00,#ff5a00,#ff5500,#ff5000,#ff4d00,#ff4900,#ff4700,#ff4500,#ff4300,#ff4200,#ff4100,#ff4000,#ff3f00,#ff3f00,#ff3f00)"></i>
<i style="background:linear-gradient(90deg,#0028ff,#0027ff,#0025ff,#0027ff,#002bff,#0031ff,#0039ff,#0042ff,#004cff,#0055ff,#005dff,#0064ff,#006aff,#006eff,#0073ff,#0079ff,#0080fe,#008afc,#0097f8,#00a4f5,#00b3f2,#00c3f0,#00d3ef,#00e3ed,#00f0eb,#00fbe6,#00ffdd,#01ffd0,#02ffc0,#02ffab,#01ff93,#00fe77,#00fe58,#00ff3a,#00ff1f,#03ff09,#12fe00,#29fc00,#46f900,#64f500,#80f100,#99ee01,#acec03,#bbea03,#c8e902,#d2e801,#dce800,#e6e800,#efe700,#f6e500,#fce100,#ffdb00,#ffd200,#ffc800,#ffbd00,#ffb200,#ffa800,#fe9f00,#fe9700,#ff8f00,#ff8800,#ff8200,#ff7c00,#ff7600,#ff7100,#ff6b00,#ff6600,#ff6000,#ff5b00,#ff5600,#ff5200,#ff4e00,#ff4b00,#ff4800,#ff4600,#ff4400,#ff4200,#ff4100,#ff4000,#ff4000,#ff3f00,#ff3f00)"></i>
<i style="background:linear-gradient(90deg,#0029ff,#0028ff,#0026ff,#0027ff,#002bff,#0031ff,#0039ff,#0041ff,#004aff,#0053ff,#005bff,#0061ff,#0066ff,#006aff,#006fff,#0074ff,#007bfe,#0085fc,#0090f9,#009df6,#00adf4,#00bdf2,#00cff2,#00e0f1,#00efef,#00fbea,#00ffe2,#01ffd6,#02ffc5,#02ffb1,#01ff98,#00fe7b,#00fd5c,#00fe3d,#00ff20,#01ff09,#0ffe00,#25fc00,#3ff900,#5cf500,#78f200,#90ef00,#a4ec02,#b4ea02,#c2e902,#cee901,#d9e800,#e3e800,#ece700,#f4e600,#fae200,#fedc00,#ffd400,#ffcb00,#ffc000,#ffb600,#ffac00,#ffa200,#ff9a00,#ff9200,#ff8b00,#ff8400,#ff7e00,#ff7800,#ff7200,#ff6d00,#ff6700,#ff6200,#ff5d00,#ff5800,#ff5300,#ff4f00,#ff4c00,#ff4900,#ff4700,#ff4500,#ff4300,#ff4200,#ff4100,#ff4000,#ff3f00,#ff3f00)"></i>
<i style="background:linear-gradient(90deg,#0029ff,#0028ff,#0026ff,#0028ff,#002bff,#0031ff,#0038ff,#0040ff,#0048ff,#0050ff,#0058ff,#005eff,#0062ff,#0066ff,#006aff,#006fff,#0076fe,#007efc,#0089fa,#0097f7,#00a6f5,#00b8f4,#00cbf4,#00def4,#00eff2,#00fced,#00ffe5,#01ffd9,#02ffc9,#02ffb5,#01ff9c,#00fd7f,#00fc5f,#00fd3f,#00fe22,#00ff0a,#0dfe00,#21fc00,#39f900,#54f600,#6ff200,#87ef00,#9ced01,#adeb01,#bdea02,#cae901,#d6e901,#e0e800,#eae800,#f1e600,#f7e300,#fcde00,#fed600,#ffce00,#ffc400,#ffba00,#ffb000,#ffa700,#ff9e00,#ff9600,#ff8e00,#fe8700,#fe8000,#fe7a00,#ff7400,#ff6f00,#ff6900,#ff6400,#ff5e00,#ff5900,#ff5500,#ff5100,#ff4e00,#ff4a00,#ff4800,#ff4600,#ff4400,#ff4200,#ff4100,#ff4000,#ff4000,#ff4000)"></i>
<i style="background:linear-gradient(90deg,#0028ff,#0027ff,#0026ff,#0027ff,#002bff,#0030ff,#0037ff,#003fff,#0046ff,#004eff,#0054ff,#005aff,#005eff,#0062ff,#0065ff,#006aff,#0070ff,#0078fd,#0083fb,#0090f8,#009ff7,#00b2f6,#00c6f6,#00dbf6,#00eef4,#00fdf0,#00ffe8,#01ffdc,#02ffcc,#02ffb7,#01ff9e,#00fc81,#00fb61,#00fc41,#00fd23,#00fe0b,#0bfe00,#1dfc00,#33fa00,#4cf700,#66f300,#7ef000,#93ee00,#a6ec01,#b7ea01,#c6e901,#d3e901,#dde901,#e7e801,#eee700,#f4e400,#f9df00,#fcd900,#ffd000,#ffc700,#ffbe00,#ffb400,#ffab00,#ffa200,#ff9900,#fe9100,#fe8a00,#fe8300,#fe7c00,#fe7600,#ff7000,#ff6b00,#ff6500,#ff6000,#ff5b00,#ff5700,#ff5300,#ff4f00,#ff4c00,#ff4900,#ff4700,#ff4500,#ff4300,#ff4200,#ff4100,#ff4000,#ff4000)"></i>
<i style="background:linear-gradient(90deg,#0027ff,#0027ff,#0026ff,#0027ff,#002bff,#0030ff,#0036ff,#003dff,#0044ff,#004bff,#0051ff,#0056ff,#005aff,#005dff,#0060ff,#0064ff,#006aff,#0072fd,#007cfb,#0089f9,#0099f8,#00acf8,#00c2f8,#00d9f8,#00edf6,#00fef2,#00ffea,#01ffde,#02ffcd,#02ffb9,#01ffa0,#00fb83,#00fa63,#00fb42,#00fc25,#00fe0c,#09fe00,#19fd00,#2dfb00,#45f800,#5df500,#74f200,#8bef00,#9fed00,#b1eb01,#c1ea02,#cfe902,#dae901,#e3e801,#ebe701,#f1e500,#f6e100,#fadb00,#fdd300,#ffcb00,#ffc200,#ffb900,#ffb000,#ffa600,#ff9e00,#fe9500,#fe8d00,#fe8600,#fe7f00,#fe7900,#ff7300,#ff6d00,#ff6700,#ff6200,#ff5d00,#ff5900,#ff5400,#ff5100,#ff4d00,#ff4a00,#ff4800,#ff4600,#ff4400,#ff4200,#ff4100,#ff4000,#ff4000)"></i>
<i style="background:linear-gradient(90deg,#0026ff,#0026ff,#0025ff,#0027ff,#002aff,#002fff,#0034ff,#003bff,#0041ff,#0048ff,#004dff,#0052ff,#0055ff,#0058ff,#005bff,#005fff,#0064ff,#006bfd,#0075fc,#0082fa,#0093f9,#00a7f9,#00bef9,#00d6f9,#00ecf7,#00fef3,#00ffeb,#01ffdf,#02ffce,#02ffba,#01ffa1,#00fb84,#00f964,#00fa44,#00fc26,#00fd0e,#07fe00,#15fd00,#28fb00,#3df900,#54f600,#6bf300,#82f000,#97ee00,#abec01,#bdea02,#cbe902,#d7e902,#e0e801,#e7e701,#ede500,#f3e200,#f8dd00,#fcd600,#ffcf00,#ffc700,#ffbe00,#ffb500,#ffab00,#ffa200,#fe9900,#fe9000,#fd8900,#fe8200,#fe7b00,#fe7500,#ff6f00,#ff6900,#ff6400,#ff5f00,#ff5b00,#ff5600,#ff5200,#ff4f00,#ff4c00,#ff4900,#ff4700,#ff4500,#ff4300,#ff4200,#ff4100,#ff4100)"></i>
<i style="background:linear-gradient(90deg,#0025ff,#0025ff,#0024ff,#0026ff,#0029ff,#002eff,#0033ff,#0039ff,#003fff,#0044ff,#0049ff,#004dff,#0050ff,#0053ff,#0055ff,#0059ff,#005eff,#0065fe,#006ffc,#007cfb,#008dfb,#00a2fa,#00bbfb,#00d4fa,#00ecf8,#00fef4,#00ffeb,#01ffdf,#02ffce,#02ffba,#01fea1,#00fa85,#00f965,#00f946,#00fb29,#00fd10,#06fe00,#12fe00,#22fc00,#36fa00,#4bf800,#62f500,#79f200,#90ef00,#a5ed01,#b8eb02,#c7ea02,#d3e902,#dce902,#e3e801,#eae600,#efe300,#f5df00,#fad900,#fed300,#ffcb00,#ffc300,#ffb900,#ffb000,#ffa600,#fe9d00,#fd9400,#fd8c00,#fd8500,#fe7e00,#fe7700,#ff7100,#ff6c00,#ff6600,#ff6100,#ff5d00,#ff5800,#ff5400,#ff5100,#ff4d00,#ff4a00,#ff4800,#ff4500,#ff4400,#ff4200,#ff4100,#ff4100)"></i>
<i style="background:linear-gradient(90deg,#0024ff,#0024ff,#0024ff,#0026ff,#0029ff,#002dff,#0032ff,#0037ff,#003cff,#0041ff,#0046ff,#0049ff,#004cff,#004eff,#0050ff,#0053ff,#0058ff,#005ffe,#0069fd,#0076fc,#0087fc,#009dfb,#00b7fc,#00d2fb,#00eaf9,#00fef4,#00ffeb,#01ffdf,#01ffce,#01ffba,#01ffa1,#00fa85,#00f867,#00f948,#00fb2c,#00fd13,#04fe02,#0ffe00,#1dfd00,#2ffb00,#43f900,#59f600,#71f400,#88f100,#9eee00,#b2ec02,#c2ea03,#cee902,#d8e902,#dfe801,#e6e600,#ece400,#f2e100,#f8dc00,#fdd600,#ffcf00,#ffc700,#ffbe00,#ffb400,#ffaa00,#fea100,#fd9800,#fd8f00,#fd8800,#fe8000,#fe7a00,#ff7400,#ff6e00,#ff6900,#ff6400,#ff5f00,#ff5a00,#ff5600,#ff5200,#ff4f00,#ff4c00,#ff4900,#ff4600,#ff4400,#ff4300,#ff4200,#ff4200)"></i>
<i style="background:linear-gradient(90deg,#0024ff,#0024ff,#0024ff,#0026ff,#0029ff,#002cff,#0031ff,#0035ff,#003aff,#003eff,#0042ff,#0045ff,#0047ff,#0049ff,#004bff,#004eff,#0052ff,#0059fe,#0063fe,#0070fd,#0082fd,#0099fc,#00b3fc,#00cffb,#00e9f9,#00fef4,#00ffeb,#01ffde,#01ffce,#01ffb9,#01ffa2,#00fa86,#00f869,#00f94b,#00fb2f,#00fd18,#03fe06,#0cff00,#18fe00,#28fd00,#3bfb00,#50f800,#68f500,#80f200,#97ef00,#aced02,#bdeb03,#caea03,#d3e902,#dbe801,#e1e700,#e8e500,#efe200,#f6df00,#fcda00,#ffd300,#ffcc00,#ffc300,#ffb900,#ffaf00,#fea500,#fd9b00,#fd9300,#fd8b00,#fe8300,#fe7c00,#ff7600,#ff7000,#ff6b00,#ff6600,#ff6100,#ff5d00,#ff5800,#ff5400,#ff5000,#ff4d00,#ff4a00,#ff4800,#ff4500,#ff4400,#ff4300,#ff4200)"></i>
<i style="background:linear-gradient(90deg,#0024ff,#0024ff,#0024ff,#0026ff,#0029ff,#002cff,#0030ff,#0034ff,#0038ff,#003cff,#003fff,#0041ff,#0043ff,#0044ff,#0046ff,#0049ff,#004dff,#0054ff,#005efe,#006bfe,#007dfd,#0094fd,#00b0fd,#00ccfc,#00e7f9,#00fcf4,#00ffeb,#01ffde,#01ffcd,#01ffb9,#01ffa2,#00fa88,#00f86b,#00f94f,#00fb34,#00fd1d,#03fe0c,#0aff00,#14ff00,#22fe00,#33fc00,#48fa00,#5ff700,#78f400,#90f100,#a6ee01,#b7ec02,#c4ea02,#cee902,#d6e801,#dde700,#e5e600,#ede400,#f4e100,#fbdd00,#ffd700,#ffd000,#ffc700,#ffbd00,#ffb300,#fea900,#fd9f00,#fd9600,#fd8e00,#fe8600,#fe7f00,#ff7900,#ff7300,#ff6d00,#ff6800,#ff6300,#ff5f00,#ff5a00,#ff5600,#ff5200,#ff4f00,#ff4b00,#ff4900,#ff4600,#ff4500,#ff4300,#ff4300)"></i>
<i style="background:linear-gradient(90deg,#0024ff,#0024ff,#0025ff,#0027ff,#0029ff,#002cff,#0030ff,#0033ff,#0036ff,#0039ff,#003cff,#003dff,#003eff,#003fff,#0041ff,#0044ff,#0048ff,#004fff,#0059ff,#0066fe,#0079fe,#0090fe,#00acfe,#00c9fc,#00e5f9,#00fbf3,#00ffea,#00ffdd,#01ffcd,#01ffba,#00ffa3,#00fb8a,#00f96f,#00f954,#00fb3a,#00fd24,#02ff12,#08ff06,#10ff00,#1cff00,#2cfe00,#3ffb00,#57f800,#70f500,#88f200,#9fef01,#b1ec02,#beeb02,#c9e902,#d1e801,#d9e800,#e1e700,#eae500,#f2e300,#fae000,#ffdb00,#ffd400,#ffcb00,#ffc200,#ffb700,#ffad00,#fda300,#fd9a00,#fd9100,#fe8900,#fe8200,#ff7b00,#ff7500,#ff7000,#ff6a00,#ff6600,#ff6100,#ff5c00,#ff5800,#ff5400,#ff5000,#ff4d00,#ff4a00,#ff4800,#ff4600,#ff4400,#ff4400)"></i>
<i style="background:linear-gradient(90deg,#0026ff,#0026ff,#0027ff,#0028ff,#002bff,#002dff,#0030ff,#0032ff,#0035ff,#0037ff,#0039ff,#003aff,#003bff,#003bff,#003dff,#003fff,#0044ff,#004aff,#0054ff,#0062ff,#0075ff,#008cfe,#00a8fe,#00c6fc,#00e2f9,#00f8f3,#00ffea,#00ffdd,#00ffcd,#01ffba,#00ffa5,#00fc8d,#00fa73,#00fa5a,#00fc42,#00fd2c,#01ff1b,#06ff0e,#0cff05,#17ff00,#25ff00,#38fd00,#4efa00,#67f600,#80f300,#97f000,#a9ed01,#b8eb01,#c3ea01,#cce901,#d4e800,#dde700,#e7e600,#f0e500,#f8e200,#fede00,#ffd700,#ffcf00,#ffc600,#ffbb00,#ffb100,#fea700,#fd9d00,#fe9400,#fe8c00,#ff8500,#ff7e00,#ff7800,#ff7200,#ff6d00,#ff6800,#ff6300,#ff5f00,#ff5a00,#ff5600,#ff5200,#ff4f00,#ff4b00,#ff4900,#ff4700,#ff4500,#ff4500)"></i>
<i style="background:linear-gradient(90deg,#0028ff,#0028ff,#0029ff,#002bff,#002dff,#002fff,#0030ff,#0032ff,#0034ff,#0036ff,#0037ff,#0037ff,#0037ff,#0038ff,#0039ff,#003bff,#0040ff,#0047ff,#0051ff,#005fff,#0071ff,#0089ff,#00a5fe,#00c2fd,#00def9,#00f5f3,#00ffea,#00ffde,#00ffce,#00ffbc,#00ffa8,#00fe91,#00fc79,#00fc61,#00fd4a,#00fe36,#01ff25,#04ff17,#09ff0d,#12ff06,#1fff02,#30fe00,#46fb00,#5ff800,#77f400,#8ef100,#a1ee00,#b0ec01,#bcea01,#c6e900,#d0e800,#dae800,#e4e700,#eee600,#f6e400,#fde000,#ffda00,#ffd200,#ffc900,#ffbf00,#ffb500,#feaa00,#fea100,#fe9800,#fe8f00,#ff8700,#ff8000,#ff7a00,#ff7400,#ff6f00,#ff6a00,#ff6600,#ff6100,#ff5c00,#ff5800,#ff5400,#ff5000,#ff4d00,#ff4a00,#ff4800,#ff4600,#ff4600)"></i>
<i style="background:linear-gradient(90deg,#002bff,#002cff,#002dff,#002eff,#002fff,#0031ff,#0032ff,#0033ff,#0034ff,#0034ff,#0035ff,#0035ff,#0034ff,#0034ff,#0035ff,#0038ff,#003cff,#0044ff,#004eff,#005cff,#006fff,#0086ff,#00a1ff,#00befd,#00daf9,#00f0f3,#00ffeb,#00ffdf,#00ffd0,#00ffbf,#00ffac,#00ff97,#00fe81,#00fe6a,#00fe55,#00ff41,#01ff30,#03ff22,#07ff17,#0eff0e,#19ff07,#2aff03,#3efc00,#56f900,#6ef600,#84f200,#98ef00,#a8ed00,#b5eb00,#c1ea00,#cce900,#d6e800,#e1e800,#ebe700,#f4e500,#fbe200,#ffdc00,#ffd500,#ffcc00,#ffc200,#ffb800,#ffae00,#ffa400,#ff9b00,#ff9200,#ff8a00,#ff8300,#ff7d00,#ff7700,#ff7200,#ff6d00,#ff6800,#ff6300,#ff5e00,#ff5a00,#ff5600,#ff5200,#ff4f00,#ff4c00,#ff4900,#ff4700,#ff4700)"></i>
<i style="background:linear-gradient(90deg,#0130ff,#0030ff,#0031ff,#0032ff,#0033ff,#0034ff,#0034ff,#0034ff,#0034ff,#0034ff,#0033ff,#0033ff,#0032ff,#0032ff,#0033ff,#0035ff,#003aff,#0041ff,#004cff,#005aff,#006cff,#0083ff,#009eff,#00bafd,#00d4f9,#00ebf4,#00fbec,#00ffe0,#00ffd3,#00ffc3,#00ffb1,#00ff9e,#00ff89,#00ff75,#00ff61,#00ff4e,#00ff3d,#02ff2e,#05ff21,#0bff17,#15ff0e,#24ff08,#37fd03,#4dfa00,#64f700,#7af400,#8ef100,#9fee00,#aeec00,#bbea00,#c7e900,#d3e900,#dee800,#e9e800,#f2e600,#f9e300,#fede00,#ffd700,#ffcf00,#ffc500,#ffbc00,#ffb100,#ffa800,#ff9e00,#ff9500,#ff8d00,#ff8500,#ff7f00,#ff7900,#ff7400,#ff6f00,#ff6a00,#ff6500,#ff6100,#ff5c00,#ff5800,#ff5400,#ff5100,#ff4d00,#ff4b00,#ff4900,#ff4800)"></i>
<i style="background:linear-gradient(90deg,#0135ff,#0135ff,#0037ff,#0037ff,#0037ff,#0037ff,#0037ff,#0036ff,#0035ff,#0034ff,#0033ff,#0031ff,#0030ff,#0030ff,#0031ff,#0033ff,#0038ff,#0040ff,#004aff,#0058ff,#006aff,#0081ff,#009aff,#00b5fd,#00cffa,#00e5f5,#00f6ed,#00ffe3,#00ffd6,#00ffc7,#00ffb7,#00ffa5,#00ff93,#00ff80,#00ff6e,#00ff5c,#00ff4b,#01ff3b,#03ff2d,#08ff21,#11ff16,#1eff0e,#2ffe07,#44fb02,#5af800,#6ff500,#84f200,#96ef00,#a6ed00,#b5eb00,#c3ea00,#d0e900,#dce901,#e6e801,#f0e700,#f7e400,#fcdf00,#ffd900,#ffd100,#ffc800,#ffbf00,#ffb500,#ffab00,#ffa100,#ff9800,#ff8f00,#ff8800,#ff8200,#ff7c00,#ff7700,#ff7200,#ff6d00,#ff6800,#ff6300,#ff5f00,#ff5a00,#ff5600,#ff5300,#ff4f00,#ff4c00,#ff4a00,#ff4a00)"></i>
<i style="background:linear-gradient(90deg,#013bff,#013bff,#003dff,#003dff,#003cff,#003bff,#003aff,#0038ff,#0036ff,#0034ff,#0032ff,#0030ff,#002fff,#002eff,#002fff,#0032ff,#0037ff,#003fff,#0049ff,#0058ff,#0069ff,#007eff,#0097ff,#00b0fd,#00c9fa,#00dff6,#00f0ef,#00fbe5,#00ffd9,#00ffcc,#00ffbe,#00ffae,#00ff9e,#00ff8d,#00ff7c,#00ff6b,#00ff5a,#00ff4a,#02ff3a,#06ff2c,#0dff1f,#19ff14,#28fe0b,#3bfc04,#4ff900,#64f600,#79f300,#8cf100,#9eee00,#afec00,#beea00,#cce901,#d9e901,#e4e801,#ede701,#f4e400,#fae000,#feda00,#ffd300,#ffcb00,#ffc200,#ffb800,#ffae00,#ffa400,#ff9b00,#ff9200,#ff8b00,#ff8400,#ff7e00,#ff7900,#ff7400,#ff6f00,#ff6a00,#ff6600,#ff6100,#ff5d00,#ff5900,#ff5500,#ff5100,#ff4e00,#ff4b00,#ff4b00)"></i>
<i style="background:linear-gradient(90deg,#0142ff,#0142ff,#0043ff,#0043ff,#0042ff,#0040ff,#003eff,#003bff,#0038ff,#0035ff,#0032ff,#0030ff,#002eff,#002dff,#002eff,#0031ff,#0036ff,#003eff,#0049ff,#0057ff,#0068ff,#007cff,#0093ff,#00abfe,#00c2fb,#00d7f7,#00e9f0,#00f6e8,#00ffde,#00ffd2,#00ffc5,#00ffb7,#00ffa9,#00ff9a,#00ff8a,#00ff7a,#00ff6a,#00ff59,#01ff48,#04ff38,#0aff29,#14ff1c,#22ff10,#32fd07,#45fa00,#59f800,#6df500,#82f200,#96ef00,#a8ed00,#baeb00,#c9ea01,#d6e901,#e1e801,#eae701,#f1e400,#f7e000,#fcdb00,#ffd500,#ffcd00,#ffc400,#ffbb00,#ffb100,#ffa700,#ff9e00,#ff9500,#ff8d00,#ff8600,#ff8100,#ff7b00,#ff7700,#ff7200,#ff6d00,#ff6800,#ff6400,#ff5f00,#ff5b00,#ff5700,#ff5300,#ff5000,#ff4d00,#ff4c00)"></i>
<i style="background:linear-gradient(90deg,#0149ff,#014aff,#004aff,#0049ff,#0048ff,#0045ff,#0042ff,#003eff,#003aff,#0036ff,#0033ff,#0030ff,#002eff,#002dff,#002dff,#0030ff,#0036ff,#003eff,#0049ff,#0057ff,#0067ff,#007aff,#008fff,#00a5fe,#00bbfc,#00d0f8,#00e1f2,#00f0eb,#00fbe2,#00ffd8,#00ffcd,#00ffc1,#00ffb4,#00ffa7,#00ff99,#00ff8a,#00ff7a,#00ff68,#01ff56,#03ff44,#08ff33,#10ff23,#1bff15,#2afe0a,#3bfb00,#4df900,#62f600,#77f300,#8df000,#a2ee00,#b5ec00,#c5ea01,#d3e902,#dde802,#e6e601,#eee400,#f4e100,#f9dc00,#fed600,#ffcf00,#ffc700,#ffbe00,#ffb400,#ffaa00,#ffa000,#ff9700,#ff9000,#ff8900,#ff8300,#ff7e00,#ff7900,#ff7400,#ff7000,#ff6b00,#ff6600,#ff6200,#ff5d00,#ff5900,#ff5500,#ff5200,#ff4e00,#ff4e00)"></i>
<i style="background:linear-gradient(90deg,#0151ff,#0151ff,#0052ff,#0050ff,#004eff,#004aff,#0046ff,#0042ff,#003dff,#0038ff,#0034ff,#0030ff,#002eff,#002dff,#002eff,#0031ff,#0036ff,#003fff,#004aff,#0057ff,#0067ff,#0079ff,#008cff,#00a0fe,#00b4fc,#00c7f9,#00d9f4,#00e9ee,#00f7e6,#00ffde,#00ffd4,#00ffca,#00ffc0,#00ffb5,#00ffa8,#00ff9a,#00ff8a,#00ff78,#00ff65,#02ff51,#06ff3e,#0cff2c,#16ff1c,#22fe0d,#30fc02,#42fa00,#57f800,#6df500,#84f200,#9bef00,#b0ec00,#c1ea01,#cfe902,#dae702,#e3e601,#eae400,#f1e000,#f7dc00,#fcd700,#ffd100,#ffc900,#ffc100,#ffb700,#ffad00,#ffa300,#ff9a00,#ff9200,#ff8c00,#ff8600,#ff8100,#ff7c00,#ff7700,#ff7200,#ff6e00,#ff6900,#ff6400,#ff6000,#ff5c00,#ff5800,#ff5400,#ff5000,#ff4f00)"></i>
<i style="background:linear-gradient(90deg,#0159ff,#015aff,#0059ff,#0057ff,#0054ff,#0050ff,#004bff,#0045ff,#0040ff,#003aff,#0036ff,#0032ff,#002fff,#002dff,#002eff,#0031ff,#0037ff,#0040ff,#004bff,#0058ff,#0067ff,#0077ff,#0088ff,#009aff,#00adfd,#00bffa,#00d1f7,#00e2f1,#00f2eb,#00ffe4,#00ffdc,#00ffd4,#00ffcb,#00ffc2,#00ffb7,#00ffa9,#00ff9a,#00ff87,#00ff73,#02ff5e,#04ff49,#09ff35,#10ff22,#1aff12,#27fd04,#37fb00,#4cf900,#63f600,#7cf300,#94f000,#aaed00,#bdeb01,#cbe902,#d6e702,#dfe501,#e7e300,#eee000,#f4dd00,#fad800,#ffd300,#ffcc00,#ffc300,#ffba00,#ffb000,#ffa600,#ff9d00,#ff9500,#ff8e00,#ff8800,#ff8300,#ff7f00,#ff7a00,#ff7500,#ff7100,#ff6c00,#ff6700,#ff6300,#ff5e00,#ff5a00,#ff5600,#ff5200,#ff5100)"></i>
<i style="background:linear-gradient(90deg,#0062ff,#0062ff,#0061ff,#005fff,#005bff,#0056ff,#0050ff,#0049ff,#0043ff,#003dff,#0038ff,#0033ff,#0030ff,#002fff,#002fff,#0032ff,#0038ff,#0041ff,#004cff,#0059ff,#0067ff,#0076ff,#0085ff,#0095ff,#00a5fe,#00b6fc,#00c8f9,#00dbf4,#00ecf0,#00fbea,#00ffe4,#00ffdd,#00ffd6,#00ffce,#00ffc5,#00ffb8,#00ffa9,#00ff96,#00ff82,#01ff6c,#03ff55,#06ff3e,#0bff29,#13ff16,#1efe07,#2dfd00,#41fa00,#59f700,#73f400,#8df100,#a5ee00,#b8eb01,#c7e902,#d2e702,#dbe501,#e3e200,#eae000,#f1dd00,#f8d900,#fed400,#ffce00,#ffc600,#ffbd00,#ffb300,#ffa900,#ff9f00,#ff9700,#ff9100,#ff8b00,#ff8600,#ff8100,#ff7d00,#ff7800,#ff7400,#ff6f00,#ff6a00,#ff6600,#ff6100,#ff5d00,#ff5800,#ff5400,#ff5300)"></i>
<i style="background:linear-gradient(90deg,#006aff,#006aff,#0069ff,#0066ff,#0061ff,#005cff,#0055ff,#004eff,#0047ff,#0040ff,#003aff,#0035ff,#0032ff,#0030ff,#0031ff,#0034ff,#003aff,#0043ff,#004dff,#005aff,#0067ff,#0074ff,#0081ff,#008fff,#009dfe,#00adfd,#00bffb,#00d3f8,#00e6f4,#00f7ef,#00ffeb,#00ffe6,#00ffe1,#00ffda,#00ffd2,#00ffc7,#00ffb8,#00ffa5,#00ff90,#01ff78,#02ff60,#04ff48,#07ff31,#0cff1c,#15ff0a,#23fe00,#37fb00,#4ff900,#6af600,#86f200,#9fef00,#b3ec01,#c2e903,#cee602,#d7e401,#dee200,#e6e000,#eedd00,#f6da00,#fdd600,#ffd000,#ffc900,#ffbf00,#ffb600,#ffab00,#ffa200,#ff9a00,#ff9300,#ff8e00,#ff8900,#ff8400,#ff8000,#ff7b00,#ff7700,#ff7200,#ff6d00,#ff6900,#ff6400,#ff5f00,#ff5a00,#ff5600,#ff5500)"></i>
<i style="background:linear-gradient(90deg,#0073ff,#0073ff,#0071ff,#006dff,#0068ff,#0061ff,#005aff,#0052ff,#004bff,#0043ff,#003dff,#0038ff,#0034ff,#0033ff,#0033ff,#0036ff,#003cff,#0045ff,#004fff,#005bff,#0067ff,#0072ff,#007eff,#0089ff,#0096ff,#00a5fe,#00b6fc,#00cafa,#00def8,#00f1f5,#00fff1,#00ffee,#00ffea,#00ffe5,#00ffde,#00ffd4,#00ffc5,#00ffb3,#01fe9d,#01fe85,#01ff6c,#02ff52,#03ff39,#07ff22,#0eff0f,#1aff00,#2dfd00,#46fa00,#62f700,#7ef300,#98f000,#adec01,#bde903,#c9e602,#d2e401,#dae100,#e2df00,#ebdd00,#f3db00,#fbd700,#ffd200,#ffcb00,#ffc200,#ffb800,#ffae00,#ffa500,#ff9d00,#ff9600,#ff9100,#ff8c00,#ff8700,#ff8300,#ff7e00,#ff7a00,#ff7500,#ff7000,#ff6c00,#ff6700,#ff6200,#ff5d00,#ff5800,#ff5700)"></i>
<i style="background:linear-gradient(90deg,#007cff,#007cff,#0079ff,#0075ff,#006fff,#0067ff,#005fff,#0057ff,#004fff,#0047ff,#0040ff,#003bff,#0037ff,#0035ff,#0036ff,#0039ff,#003fff,#0047ff,#0051ff,#005cff,#0067ff,#0071ff,#007aff,#0084ff,#008eff,#009cff,#00adfe,#00c1fd,#00d6fb,#00eaf9,#00fbf7,#00fff5,#00fff3,#00ffef,#00ffe9,#00ffdf,#00ffd2,#00fdbf,#01fdaa,#01fe91,#01ff77,#00ff5c,#00ff42,#02ff29,#07ff14,#12ff04,#24fe00,#3dfb00,#59f800,#76f400,#91f100,#a7ed01,#b7ea02,#c3e602,#cde401,#d6e100,#dedf00,#e8de00,#f1dc00,#f8d900,#fed400,#ffcd00,#ffc500,#ffbb00,#ffb100,#ffa700,#ff9f00,#fe9900,#fe9400,#ff8f00,#ff8b00,#ff8600,#ff8200,#ff7d00,#ff7800,#ff7400,#ff6f00,#ff6a00,#ff6400,#ff5f00,#ff5a00,#ff5900)"></i>
<i style="background:linear-gradient(90deg,#0084ff,#0084ff,#0081ff,#007cff,#0075ff,#006dff,#0065ff,#005cff,#0053ff,#004bff,#0044ff,#003eff,#003bff,#0039ff,#0039ff,#003cff,#0042ff,#0049ff,#0053ff,#005dff,#0067ff,#006fff,#0077ff,#007eff,#0087ff,#0093ff,#00a3ff,#00b8ff,#00cefe,#00e3fd,#00f4fc,#00fffb,#00fffa,#00fff7,#00fff2,#00ffe9,#00fddc,#01fccb,#01fcb5,#01fd9d,#00fe82,#00ff66,#00ff4b,#00ff30,#02ff1a,#0cff08,#1dfe00,#35fc00,#51f900,#6ef600,#89f200,#a0ee01,#b1ea02,#bde702,#c8e401,#d1e100,#dae000,#e4de00,#eddd00,#f6da00,#fcd600,#ffd000,#ffc700,#ffbd00,#ffb300,#ffaa00,#fea200,#fe9c00,#fe9700,#fe9200,#ff8e00,#ff8a00,#ff8500,#ff8100,#ff7c00,#ff7700,#ff7200,#ff6d00,#ff6700,#ff6200,#ff5c00,#ff5b00)"></i>
<i style="background:linear-gradient(90deg,#008dff,#008cff,#0088ff,#0082ff,#007bff,#0073ff,#006aff,#0061ff,#0058ff,#004fff,#0048ff,#0043ff,#003fff,#003dff,#003dff,#0040ff,#0045ff,#004cff,#0055ff,#005eff,#0067ff,#006eff,#0073ff,#0079ff,#0080ff,#008bff,#009aff,#00aeff,#00c4ff,#00d9ff,#00ecff,#00f8ff,#00feff,#00fffe,#00fef9,#00fcf2,#00fae5,#01fad4,#01fbbf,#01fca7,#00fe8d,#00ff70,#00ff54,#00ff39,#00ff21,#06ff0e,#16ff01,#2efd00,#49fa00,#66f700,#81f300,#98ef01,#a9eb02,#b7e702,#c2e401,#cce200,#d6e000,#e0df00,#eade00,#f3dc00,#f9d800,#fdd200,#ffc900,#ffc000,#ffb600,#fead00,#fda500,#fd9f00,#fe9a00,#fe9500,#ff9100,#ff8d00,#ff8900,#ff8400,#ff7f00,#ff7a00,#ff7500,#ff7000,#ff6a00,#ff6400,#ff5f00,#ff5d00)"></i>
<i style="background:linear-gradient(90deg,#0095ff,#0094ff,#008fff,#0089ff,#0081ff,#0078ff,#006fff,#0065ff,#005cff,#0054ff,#004dff,#0047ff,#0043ff,#0041ff,#0041ff,#0043ff,#0048ff,#004fff,#0057ff,#005fff,#0066ff,#006cff,#0070ff,#0074ff,#0079ff,#0082ff,#0091ff,#00a4ff,#00baff,#00cfff,#00e2ff,#00efff,#00f7ff,#00f9ff,#00f9ff,#00f8f8,#00f7ed,#01f8dd,#01f9c9,#01fbb1,#00fe97,#00ff7b,#00ff5e,#00ff42,#00ff29,#02ff14,#11ff07,#27fd00,#42fb00,#5ef800,#79f400,#90f001,#a2ec01,#b0e801,#bce501,#c7e200,#d2e100,#dde000,#e6df00,#efdd00,#f6da00,#fad400,#fccb00,#fdc200,#fdb800,#fcaf00,#fca800,#fca200,#fd9d00,#fe9900,#ff9500,#ff9100,#ff8c00,#ff8800,#ff8300,#ff7e00,#ff7800,#ff7300,#fe6d00,#ff6700,#ff6100,#ff6000)"></i>
<i style="background:linear-gradient(90deg,#009dff,#009cff,#0096ff,#008fff,#0086ff,#007dff,#0074ff,#006aff,#0061ff,#0059ff,#0052ff,#004cff,#0048ff,#0046ff,#0046ff,#0048ff,#004cff,#0052ff,#0059ff,#0060ff,#0066ff,#006aff,#006cff,#006fff,#0073ff,#007aff,#0087ff,#009aff,#00afff,#00c4ff,#00d7ff,#00e5ff,#00edff,#00f1ff,#00f2ff,#00f3fe,#00f3f3,#01f5e4,#01f8d1,#01fbba,#00fda1,#00ff85,#00ff68,#00ff4b,#00ff31,#00ff1c,#0cff0d,#21fe04,#3bfc00,#56f900,#70f500,#87f100,#9aed01,#a9e901,#b6e600,#c2e300,#cee100,#d9e100,#e3e000,#ebde00,#f2db00,#f7d600,#f9ce00,#fac400,#fabb00,#fab200,#fbab00,#fca500,#fda000,#fe9c00,#ff9800,#ff9400,#ff9000,#ff8b00,#ff8600,#ff8100,#ff7c00,#fe7600,#fe7000,#fe6a00,#ff6300,#ff6200)"></i>
<i style="background:linear-gradient(90deg,#00a4ff,#00a3ff,#009cff,#0094ff,#008cff,#0082ff,#0079ff,#006fff,#0066ff,#005eff,#0057ff,#0051ff,#004dff,#004bff,#004aff,#004cff,#0050ff,#0055ff,#005bff,#0061ff,#0065ff,#0068ff,#0069ff,#006aff,#006cff,#0073ff,#007eff,#008fff,#00a4ff,#00b8ff,#00cbff,#00daff,#00e3ff,#00e8ff,#00ebff,#00edff,#00eff8,#01f3ea,#01f6d8,#01fac3,#00fdaa,#00ff8f,#00ff72,#00ff55,#00ff3a,#00ff24,#09ff13,#1cfe09,#34fc03,#4dfa01,#67f700,#7ef300,#91ef00,#a2ea00,#b0e700,#bde400,#c9e200,#d4e200,#dee100,#e7e000,#eedd00,#f2d700,#f5d000,#f7c700,#f8bd00,#f8b500,#f9ad00,#fba800,#fca300,#fea000,#ff9c00,#ff9800,#ff9400,#ff8f00,#ff8a00,#ff8500,#ff7f00,#fe7900,#fe7300,#fe6c00,#ff6600,#ff6400)"></i>
<i style="background:linear-gradient(90deg,#00acff,#00aaff,#00a3ff,#009aff,#0091ff,#0087ff,#007eff,#0074ff,#006bff,#0063ff,#005cff,#0057ff,#0053ff,#0050ff,#0050ff,#0051ff,#0053ff,#0058ff,#005dff,#0061ff,#0065ff,#0066ff,#0066ff,#0065ff,#0066ff,#006bff,#0075ff,#0085ff,#0098ff,#00acff,#00bfff,#00ceff,#00d8ff,#00dfff,#00e3ff,#00e7ff,#00ebfc,#01f0ef,#01f5df,#01f9cb,#00fdb3,#00ff99,#00ff7c,#00ff5f,#00ff44,#00ff2d,#06ff1b,#17ff0e,#2dfd07,#45fb02,#5ef800,#74f400,#88f000,#9aec00,#aae800,#b8e500,#c5e400,#d0e300,#dae300,#e2e100,#e9df00,#eed900,#f1d200,#f3c900,#f5c000,#f6b700,#f8b000,#faab00,#fba700,#fda300,#ffa000,#ff9c00,#ff9700,#ff9300,#ff8e00,#ff8800,#ff8200,#fe7c00,#fe7600,#fe6f00,#ff6800,#ff6700)"></i>
<i style="background:linear-gradient(90deg,#00b3ff,#00b1ff,#00a9ff,#00a0ff,#0096ff,#008cff,#0083ff,#0079ff,#0071ff,#0069ff,#0062ff,#005cff,#0058ff,#0056ff,#0055ff,#0055ff,#0057ff,#005bff,#005fff,#0062ff,#0064ff,#0064ff,#0063ff,#0061ff,#0060ff,#0064ff,#006cff,#007bff,#008cff,#009fff,#00b1ff,#00c0ff,#00ccff,#00d4ff,#00dbff,#00e1ff,#00e7fe,#01edf3,#01f3e4,#01f9d2,#00fdbc,#00ffa2,#00ff86,#00ff6a,#00ff4e,#00ff36,#03ff22,#13ff14,#27fe0b,#3dfc05,#54f901,#6af600,#7ff100,#92ed00,#a3e900,#b2e600,#c0e500,#cce400,#d5e400,#dee300,#e4e000,#e9db00,#edd400,#f0cb00,#f2c200,#f4ba00,#f6b300,#f8ae00,#fbaa00,#fda700,#ffa300,#ff9f00,#ff9b00,#ff9600,#ff9100,#ff8b00,#ff8500,#fe7f00,#fe7800,#fe7100,#ff6a00,#ff6900)"></i>
<i style="background:linear-gradient(90deg,#00baff,#00b8ff,#00aeff,#00a5ff,#009bff,#0091ff,#0087ff,#007eff,#0076ff,#006eff,#0067ff,#0062ff,#005eff,#005bff,#005aff,#005aff,#005cff,#005eff,#0061ff,#0063ff,#0064ff,#0062ff,#005fff,#005cff,#005bff,#005dff,#0064ff,#0070ff,#0080ff,#0092ff,#00a3ff,#00b3ff,#00bfff,#00caff,#00d2ff,#00daff,#00e2ff,#01eaf6,#01f1e9,#01f8d8,#00fdc4,#00ffab,#00ff90,#00ff74,#00ff58,#00ff3f,#02ff2b,#0fff1b,#21fe0f,#35fc07,#4bfa01,#61f700,#76f300,#8aef00,#9ceb00,#ade800,#bbe600,#c7e601,#d1e501,#d9e400,#dfe200,#e4dd00,#e8d600,#eccd00,#eec500,#f1bd00,#f4b600,#f7b100,#faad00,#fdaa00,#ffa700,#ffa300,#ff9f00,#ff9a00,#ff9400,#ff8f00,#fe8800,#fe8200,#fe7b00,#fe7400,#ff6d00,#ff6b00)"></i>
<i style="background:linear-gradient(90deg,#00c0ff,#00beff,#00b4ff,#00aaff,#00a0ff,#0096ff,#008cff,#0083ff,#007bff,#0074ff,#006dff,#0068ff,#0064ff,#0061ff,#0060ff,#005fff,#0060ff,#0061ff,#0062ff,#0063ff,#0063ff,#0060ff,#005cff,#0058ff,#0056ff,#0056ff,#005cff,#0066ff,#0074ff,#0084ff,#0095ff,#00a4ff,#00b2ff,#00beff,#00c9ff,#00d4ff,#00ddff,#01e7f9,#01f0ed,#01f7de,#00fdcb,#00ffb5,#00ff9a,#00ff7f,#00ff63,#00ff49,#01ff33,#0cff21,#1cfe13,#2efd09,#42fb02,#57f800,#6df500,#82f000,#96ed00,#a7ea00,#b6e801,#c2e701,#cce701,#d3e601,#dae300,#dfde00,#e3d700,#e7cf00,#ebc700,#efbf00,#f2b900,#f6b400,#f9b100,#fcae00,#ffab00,#ffa700,#ffa200,#ff9d00,#ff9800,#ff9200,#fe8b00,#fe8500,#fd7d00,#fe7600,#ff6f00,#ff6d00)"></i>
<i style="background:linear-gradient(90deg,#00c7ff,#00c4ff,#00b9ff,#00afff,#00a4ff,#009aff,#0091ff,#0088ff,#0080ff,#0079ff,#0073ff,#006eff,#006aff,#0067ff,#0065ff,#0064ff,#0064ff,#0064ff,#0064ff,#0064ff,#0062ff,#005eff,#0059ff,#0054ff,#0051ff,#0050ff,#0054ff,#005cff,#0068ff,#0077ff,#0087ff,#0096ff,#00a5ff,#00b3ff,#00c0ff,#00cdff,#00d9ff,#01e4fb,#01eef1,#01f6e4,#00fdd3,#00ffbd,#00ffa4,#00ff89,#00ff6e,#00ff53,#00ff3c,#0aff28,#16ff18,#26fe0b,#39fd03,#4dfa00,#63f600,#7af200,#8fee00,#a2eb00,#b1e901,#bde901,#c7e801,#cee701,#d4e500,#d9e000,#ded900,#e3d100,#e7c900,#ecc200,#f0bc00,#f5b800,#f9b400,#fcb100,#feae00,#ffaa00,#ffa600,#ffa100,#ff9b00,#ff9500,#fe8e00,#fe8700,#fd8000,#fe7800,#ff7100,#ff6f00)"></i>
<i style="background:linear-gradient(90deg,#00cdff,#00caff,#00bfff,#00b4ff,#00a9ff,#009fff,#0096ff,#008dff,#0085ff,#007eff,#0078ff,#0074ff,#0070ff,#006dff,#006aff,#0069ff,#0068ff,#0067ff,#0066ff,#0064ff,#0061ff,#005cff,#0057ff,#0051ff,#004cff,#004aff,#004cff,#0052ff,#005dff,#0069ff,#0078ff,#0088ff,#0097ff,#00a7ff,#00b7ff,#00c6ff,#00d4ff,#00e1fc,#01ecf4,#00f6e9,#00fdd9,#00ffc6,#00ffae,#00ff93,#00ff78,#00ff5d,#00ff44,#07ff2f,#12ff1c,#1fff0e,#30fe03,#44fb00,#5af800,#71f400,#88f000,#9ced00,#aceb01,#b8ea01,#c1ea01,#c8e901,#cee600,#d4e200,#d9db00,#ded300,#e4cc00,#e9c400,#eebf00,#f3bb00,#f8b700,#fcb500,#feb100,#ffae00,#ffa900,#ffa400,#ff9e00,#ff9800,#fe9100,#fd8a00,#fd8200,#fd7a00,#ff7300,#ff7100)"></i>
<i style="background:linear-gradient(90deg,#00d3ff,#00d0ff,#00c4ff,#00b8ff,#00adff,#00a3ff,#009aff,#0092ff,#008aff,#0084ff,#007eff,#0079ff,#0075ff,#0072ff,#0070ff,#006dff,#006bff,#0069ff,#0067ff,#0064ff,#0060ff,#005bff,#0054ff,#004dff,#0048ff,#0044ff,#0045ff,#0049ff,#0051ff,#005cff,#006aff,#0079ff,#008aff,#009cff,#00adff,#00bfff,#00cfff,#00defc,#00eaf6,#00f5ed,#00fce0,#00ffce,#00ffb7,#00ff9e,#00ff82,#00ff67,#00ff4d,#06ff35,#0dff21,#19ff10,#28ff04,#3bfd00,#51f900,#69f600,#81f200,#96ef00,#a7ed01,#b3ec02,#bceb02,#c3ea01,#c8e800,#cee300,#d4dd00,#dad500,#e0ce00,#e6c700,#ecc200,#f2be00,#f7bb00,#fbb800,#feb500,#ffb100,#ffac00,#ffa700,#ffa100,#ff9a00,#fe9300,#fd8c00,#fd8400,#fd7c00,#ff7400,#ff7300)"></i>
<i style="background:linear-gradient(90deg,#00d8ff,#00d5ff,#00c9ff,#00bdff,#00b2ff,#00a8ff,#009fff,#0097ff,#008fff,#0089ff,#0083ff,#007fff,#007bff,#0078ff,#0075ff,#0072ff,#006fff,#006cff,#0069ff,#0064ff,#005fff,#0059ff,#0051ff,#004aff,#0043ff,#003fff,#003eff,#0040ff,#0046ff,#004fff,#005cff,#006bff,#007dff,#0090ff,#00a4ff,#00b8ff,#00cafe,#00dbfc,#00e9f8,#00f4f1,#00fce6,#00ffd5,#00ffc0,#00ffa7,#00ff8c,#00ff71,#01ff56,#04ff3c,#0aff25,#13ff13,#20ff04,#32fe00,#49fb00,#62f700,#7af400,#90f100,#a1ef01,#aeee02,#b7ed02,#bdec01,#c3e900,#c8e500,#cfdf00,#d5d800,#dcd000,#e3ca00,#eac400,#f0c100,#f6be00,#fbbb00,#feb800,#ffb400,#ffaf00,#ffaa00,#ffa400,#ff9d00,#fe9500,#fd8e00,#fd8600,#fd7e00,#ff7600,#ff7400)"></i>
<i style="background:linear-gradient(90deg,#00ddff,#00daff,#00cdff,#00c1ff,#00b6ff,#00acff,#00a3ff,#009bff,#0094ff,#008eff,#0089ff,#0084ff,#0080ff,#007dff,#0079ff,#0076ff,#0073ff,#006eff,#006aff,#0064ff,#005eff,#0057ff,#004fff,#0047ff,#0040ff,#003aff,#0038fe,#0038fe,#003cfe,#0043fd,#004efd,#005dfd,#0070fd,#0085fd,#009bfd,#00b1fd,#00c6fd,#00d8fc,#00e7fa,#00f3f4,#00fceb,#00ffdc,#01ffc8,#01ffb1,#01ff96,#01ff7a,#02fe5e,#03ff43,#06ff2a,#0dff15,#18ff05,#2aff00,#41fc00,#5af900,#73f500,#8af200,#9cf001,#a8f002,#b1ef02,#b7ed01,#bdeb00,#c3e700,#cae100,#d1da00,#d9d300,#e0cc00,#e8c700,#efc400,#f5c100,#fabe00,#febb00,#ffb700,#ffb200,#ffac00,#ffa600,#ff9f00,#fe9700,#fd8f00,#fc8700,#fd7f00,#fe7700,#ff7500)"></i>
<i style="background:linear-gradient(90deg,#00e2ff,#00dfff,#00d2ff,#00c6ff,#00bbff,#00b1ff,#00a8ff,#00a0ff,#0099ff,#0093ff,#008eff,#0089ff,#0085ff,#0082ff,#007eff,#007aff,#0076ff,#0071ff,#006bff,#0064ff,#005dff,#0055ff,#004cff,#0044ff,#003cff,#0036fe,#0032fe,#0030fd,#0032fc,#0037fc,#0041fb,#0050fb,#0064fa,#007bfa,#0093fa,#00abfa,#00c1fb,#00d5fc,#00e5fb,#00f2f7,#01fbf0,#01ffe3,#02ffd0,#03ffb9,#03ff9f,#03ff83,#03fe66,#02ff49,#03ff2e,#08ff17,#12ff05,#22ff00,#39fe00,#52fa00,#6cf700,#84f400,#96f201,#a2f102,#abf002,#b2ef01,#b7ed00,#bde800,#c5e200,#cddc00,#d5d500,#ddcf00,#e6ca00,#edc600,#f4c400,#fac100,#febe00,#ffba00,#ffb500,#ffaf00,#ffa800,#ffa100,#fe9900,#fd9100,#fc8900,#fd8000,#fe7800,#ff7600)"></i>
<i style="background:linear-gradient(90deg,#00e7ff,#00e4ff,#00d6ff,#00caff,#00bfff,#00b5ff,#00acff,#00a5ff,#009eff,#0098ff,#0092ff,#008eff,#008aff,#0086ff,#0082ff,#007eff,#0079ff,#0073ff,#006cff,#0064ff,#005cff,#0053ff,#004aff,#0041ff,#0039fe,#0032fe,#002cfd,#0029fc,#0028fb,#002cfa,#0035f9,#0044f8,#0058f8,#0071f7,#008bf7,#00a5f8,#00bdfa,#00d2fb,#00e4fc,#00f1fa,#01fbf4,#02ffe8,#03ffd7,#04ffc1,#05ffa8,#05fe8b,#03fe6d,#01fe4f,#01ff32,#04ff19,#0cff06,#1bff00,#32ff00,#4bfc00,#66f900,#7df600,#90f402,#9df303,#a5f202,#acf102,#b1ee00,#b8ea00,#c0e400,#c8de00,#d1d700,#dbd100,#e3cd00,#ecc900,#f3c600,#f9c400,#fec000,#ffbc00,#ffb700,#ffb100,#ffaa00,#ffa200,#fe9a00,#fd9200,#fc8a00,#fc8100,#fe7800,#ff7700)"></i>
<i style="background:linear-gradient(90deg,#00ebff,#00e8ff,#00daff,#00ceff,#00c3ff,#00baff,#00b1ff,#00a9ff,#00a2ff,#009cff,#0097ff,#0092ff,#008eff,#008aff,#0086ff,#0081ff,#007bff,#0074ff,#006cff,#0064ff,#005bff,#0051ff,#0048ff,#003fff,#0036fe,#002ffe,#0028fd,#0022fc,#0020fa,#0022f9,#002af8,#0038f7,#004ef5,#0068f5,#0084f5,#00a0f6,#00baf8,#00d0fb,#00e2fd,#00f0fc,#01faf8,#02ffee,#04ffde,#06ffc9,#07ffb0,#07fe93,#04fe74,#01fe54,#00ff36,#00ff1b,#07ff06,#15ff00,#2bff00,#45fd00,#5ffa00,#77f800,#8af602,#97f503,#9ff403,#a6f202,#acf000,#b3ec00,#bbe600,#c4e000,#ced900,#d8d400,#e1cf00,#eacc00,#f2c900,#f9c600,#fec300,#ffbe00,#ffb900,#ffb300,#ffac00,#ffa400,#fe9b00,#fc9300,#fc8a00,#fc8100,#fe7900,#ff7700)"></i>
<i style="background:linear-gradient(90deg,#00efff,#00ecff,#00dfff,#00d3ff,#00c8ff,#00beff,#00b5ff,#00adff,#00a6ff,#00a0ff,#009bff,#0096ff,#0092ff,#008eff,#0089ff,#0084ff,#007dff,#0076ff,#006dff,#0063ff,#0059ff,#0050ff,#0046ff,#003dff,#0034fe,#002cfd,#0024fc,#001dfb,#0019fa,#0019f8,#0020f7,#002ef5,#0044f4,#005ff3,#007df3,#009bf4,#00b6f7,#00cdfa,#00e0fe,#00effe,#01fafb,#03fff2,#05ffe3,#07ffcf,#08ffb7,#08fe9a,#05fd7a,#01fe59,#00ff39,#00ff1d,#02ff07,#10ff00,#25ff00,#3efe00,#58fc00,#70f900,#83f702,#90f603,#9af503,#a0f402,#a7f100,#aeed00,#b7e800,#c0e200,#cadc00,#d5d600,#dfd200,#e9ce00,#f1cb00,#f8c800,#fec500,#ffc000,#ffbb00,#ffb400,#ffad00,#ffa500,#fe9c00,#fc9300,#fb8a00,#fc8100,#fe7900,#ff7700)"></i>
<i style="background:linear-gradient(90deg,#00f2ff,#00efff,#00e3ff,#00d7ff,#00ccff,#00c2ff,#00baff,#00b2ff,#00aaff,#00a4ff,#009eff,#0099ff,#0095ff,#0091ff,#008cff,#0086ff,#007fff,#0077ff,#006dff,#0063ff,#0058ff,#004eff,#0044ff,#003bff,#0032fe,#0029fd,#0020fc,#0018fb,#0012f9,#0011f8,#0017f6,#0025f4,#003cf2,#0058f1,#0077f1,#0097f3,#00b3f6,#00cbfa,#00dffe,#00eeff,#01f9fe,#03fff6,#06ffe8,#08ffd5,#0affbd,#09fea0,#06fd80,#00fe5e,#00ff3c,#00ff1f,#00ff07,#0cff00,#20ff00,#38ff00,#52fd00,#6afa00,#7df902,#8af803,#94f703,#9bf602,#a2f300,#aaef00,#b3ea00,#bde400,#c7de00,#d2d900,#ddd400,#e7d100,#f0ce00,#f8ca00,#fec700,#ffc200,#ffbc00,#ffb500,#ffad00,#ffa500,#fd9c00,#fc9300,#fb8a00,#fc8100,#fe7800,#ff7700)"></i>
<i style="background:linear-gradient(90deg,#00f5ff,#00f2ff,#00e6ff,#00dbff,#00d1ff,#00c7ff,#00beff,#00b6ff,#00aeff,#00a7ff,#00a1ff,#009cff,#0098ff,#0093ff,#008eff,#0088ff,#0080ff,#0077ff,#006dff,#0062ff,#0057ff,#004dff,#0043ff,#003aff,#0030fe,#0027fd,#001dfc,#0014fb,#000df9,#000bf7,#0010f5,#001ef3,#0035f2,#0052f1,#0073f0,#0093f2,#00b1f5,#00c9fa,#00deff,#00edff,#01f8ff,#03fef9,#06ffec,#09ffda,#0affc2,#09fea5,#06fd84,#00fe61,#00ff3f,#00ff20,#00ff08,#09ff00,#1cff00,#33ff00,#4cfe00,#63fc00,#76fa02,#83f903,#8ef903,#96f702,#9df500,#a5f100,#afec00,#b9e600,#c4e000,#d0db00,#dbd600,#e5d300,#efd000,#f7cc00,#fec800,#ffc300,#ffbd00,#ffb600,#ffae00,#ffa500,#fd9c00,#fc9300,#fb8a00,#fb8100,#fe7800,#ff7600)"></i>
<i style="background:linear-gradient(90deg,#00f8ff,#00f5ff,#00eaff,#00e0ff,#00d5ff,#00cbff,#00c2ff,#00baff,#00b2ff,#00aaff,#00a4ff,#009eff,#0099ff,#0095ff,#008fff,#0089ff,#0081ff,#0078ff,#006dff,#0061ff,#0056ff,#004bff,#0042ff,#0038ff,#002ffe,#0026fd,#001bfc,#0011fb,#0009f9,#0006f7,#000af6,#0018f4,#0030f2,#004ef0,#006ff0,#0090f2,#00aff5,#00c8fa,#00dcff,#00ecff,#01f7ff,#03fefb,#06ffef,#09ffdd,#0affc5,#09fea9,#06fd88,#00fe64,#00ff41,#00ff21,#00ff08,#07ff00,#18ff00,#2fff00,#46fe00,#5cfd00,#6ffc02,#7dfb04,#88fa03,#91f902,#99f700,#a2f300,#acee00,#b6e900,#c2e300,#cddd00,#d9d900,#e4d500,#eed100,#f7ce00,#fec900,#ffc400,#ffbd00,#ffb600,#ffae00,#ffa500,#fd9c00,#fb9200,#fb8900,#fb7f00,#fe7600,#ff7400)"></i>
<i style="background:linear-gradient(90deg,#00faff,#00f8ff,#00eeff,#00e4ff,#00daff,#00d0ff,#00c6ff,#00bdff,#00b5ff,#00adff,#00a6ff,#00a0ff,#009bff,#0096ff,#0090ff,#008aff,#0081ff,#0077ff,#006cff,#0060ff,#0055ff,#004aff,#0040ff,#0037ff,#002efe,#0025fd,#001afc,#000ffb,#0006fa,#0002f8,#0006f6,#0014f4,#002cf3,#004bf1,#006df1,#008ff3,#00adf6,#00c7fb,#00dbff,#00ebff,#01f6ff,#03fcfd,#06fff1,#08ffdf,#09ffc8,#09feac,#06fd8a,#00fe66,#00ff42,#00ff22,#00ff08,#06ff00,#16ff00,#2bff00,#40ff00,#56fe00,#68fd02,#76fc04,#82fc03,#8cfb02,#95f900,#9ff500,#a9f000,#b4eb00,#bfe500,#cbe000,#d7db00,#e2d700,#edd300,#f6cf00,#fdca00,#ffc400,#ffbe00,#ffb600,#ffad00,#ffa400,#fd9b00,#fb9100,#fa8700,#fb7e00,#fe7500,#ff7300)"></i>
<i style="background:linear-gradient(90deg,#00fcff,#00faff,#00f2ff,#00e8ff,#00dfff,#00d5ff,#00cbff,#00c1ff,#00b8ff,#00afff,#00a7ff,#00a1ff,#009bff,#0096ff,#0090ff,#0089ff,#0081ff,#0077ff,#006bff,#005fff,#0054ff,#0049ff,#003fff,#0037ff,#002efe,#0024fd,#0019fd,#000efc,#0005fb,#0001f9,#0004f8,#0012f6,#002af4,#0049f3,#006cf3,#008ef4,#00acf8,#00c6fd,#00daff,#00e9ff,#01f4ff,#02fbfd,#05fff2,#07ffe0,#08ffc9,#07fead,#05fe8c,#01fe67,#00ff43,#00ff22,#00ff08,#07ff00,#15ff00,#27ff00,#3bff00,#4ffe00,#60fe02,#6ffe04,#7cfd03,#87fc02,#91fb00,#9cf700,#a7f300,#b2ed00,#bde700,#c9e200,#d5dd00,#e1d900,#ecd400,#f6d000,#fdcb00,#ffc400,#ffbd00,#ffb500,#ffac00,#ffa300,#fd9900,#fb8f00,#fa8600,#fb7c00,#fe7300,#ff7100)"></i>
<i style="background:linear-gradient(90deg,#00feff,#00fcff,#00f5ff,#00edff,#00e4ff,#00d9ff,#00cfff,#00c4ff,#00baff,#00b1ff,#00a8ff,#00a1ff,#009aff,#0095ff,#008fff,#0088ff,#0080ff,#0076ff,#006aff,#005eff,#0052ff,#0048ff,#003fff,#0036ff,#002efe,#0024fe,#001afd,#000ffd,#0005fc,#0001fb,#0005fa,#0012f9,#002bf7,#004af6,#006cf6,#008ef7,#00acfa,#00c5fe,#00d9ff,#00e8ff,#01f3ff,#02fafd,#03fdf1,#05ffe0,#05ffc9,#05fead,#03fe8c,#01ff67,#00ff43,#00ff22,#01ff08,#09ff00,#15ff00,#25ff00,#36ff00,#48ff00,#58ff02,#68ff04,#76ff03,#83fe02,#8ffd00,#9af900,#a5f500,#b0f000,#bbea00,#c7e400,#d3df00,#dfda00,#ebd500,#f5d000,#fdcb00,#ffc400,#ffbc00,#ffb400,#ffab00,#ffa100,#fd9700,#fb8d00,#fa8300,#fa7900,#fe7000,#ff6e00)"></i>
<i style="background:linear-gradient(90deg,#00ffff,#00feff,#00f9ff,#00f2ff,#00e9ff,#00deff,#00d3ff,#00c8ff,#00bcff,#00b1ff,#00a8ff,#00a0ff,#0099ff,#0093ff,#008dff,#0087ff,#007eff,#0074ff,#0069ff,#005dff,#0051ff,#0047ff,#003eff,#0036ff,#002eff,#0025ff,#001bfe,#0010fe,#0008fe,#0004fe,#0007fd,#0015fc,#002dfb,#004cfb,#006efb,#008ffc,#00adfe,#00c5ff,#00d8ff,#00e7ff,#00f1ff,#01f8fc,#01fcef,#02fede,#02ffc7,#02ffab,#01ff8a,#01ff66,#00ff42,#02ff22,#06ff08,#0dff00,#17ff00,#23ff00,#31ff00,#41ff00,#51ff02,#60ff04,#70ff03,#7eff02,#8cff00,#99fc00,#a4f700,#aff200,#baec00,#c5e600,#d1e100,#dedb00,#ead600,#f5d100,#fdca00,#ffc300,#ffbb00,#ffb200,#ffa900,#ff9f00,#fd9500,#fa8a00,#f98000,#fa7600,#fe6d00,#ff6b00)"></i>
<i style="background:linear-gradient(90deg,#00ffff,#00ffff,#00fbff,#00f4ff,#00ebff,#00e1ff,#00d5ff,#00c9ff,#00bdff,#00b2ff,#00a7ff,#009fff,#0098ff,#0092ff,#008cff,#0085ff,#007dff,#0073ff,#0068ff,#005cff,#0051ff,#0047ff,#003eff,#0036ff,#002eff,#0026ff,#001cff,#0012ff,#0009ff,#0006ff,#0009ff,#0017ff,#002ffe,#004efd,#006ffd,#0091fe,#00aeff,#00c5ff,#00d8ff,#00e6ff,#00f0ff,#00f7fb,#00fbee,#00fedc,#00ffc5,#00ffaa,#00ff89,#01ff65,#02ff42,#04ff21,#09ff08,#0fff00,#18ff00,#23fe00,#2ffe00,#3dff00,#4cff02,#5dff04,#6dff03,#7dff02,#8bff00,#98fd00,#a4f900,#aef300,#b9ed00,#c4e700,#d0e200,#dddc00,#e9d600,#f4d100,#fdca00,#ffc300,#ffba00,#ffb100,#ffa800,#ff9d00,#fd9300,#fa8900,#f97f00,#fa7500,#fe6b00,#ff6900)"></i>
<i style="background:linear-gradient(90deg,#00ffff,#00ffff,#00fbff,#00f4ff,#00ebff,#00e1ff,#00d5ff,#00c9ff,#00bdff,#00b2ff,#00a7ff,#009fff,#0098ff,#0092ff,#008cff,#0085ff,#007dff,#0073ff,#0068ff,#005cff,#0051ff,#0047ff,#003eff,#0036ff,#002eff,#0026ff,#001cff,#0012ff,#0009ff,#0006ff,#0009ff,#0017ff,#002ffe,#004efd,#006ffd,#0091fe,#00aeff,#00c5ff,#00d8ff,#00e6ff,#00f0ff,#00f7fb,#00fbee,#00fedc,#00ffc5,#00ffaa,#00ff89,#01ff65,#02ff42,#04ff21,#09ff08,#0fff00,#18ff00,#23fe00,#2ffe00,#3dff00,#4cff02,#5dff04,#6dff03,#7dff02,#8bff00,#98fd00,#a4f900,#aef300,#b9ed00,#c4e700,#d0e200,#dddc00,#e9d600,#f4d100,#fdca00,#ffc300,#ffba00,#ffb100,#ffa800,#ff9d00,#fd9300,#fa8900,#f97f00,#fa7500,#fe6b00,#ff6900)"></i>
</div></div>
<svg width="1100" height="1050" viewBox="0 0 1100 1050">
<line x1="140.5" y1="151" x2="140.5" y2="949" stroke="rgba(185,185,185,0.62)" stroke-width="1.5"/>
<line x1="640.5" y1="151" x2="640.5" y2="949" stroke="rgba(185,185,185,0.62)" stroke-width="1.5"/>
<line x1="101" y1="650.5" x2="899" y2="650.5" stroke="rgba(185,185,185,0.62)" stroke-width="1.5"/>
<circle cx="437.5" cy="710" r="6" fill="#fff" stroke="#000" stroke-width="2.2"/>
<line x1="296.0" y1="350.0" x2="273.5" y2="350.6" stroke="#000" stroke-width="1.0"/><polygon points="258.0,351.0 273.4,345.6 273.6,355.6" fill="#000"/><line x1="496.0" y1="349.0" x2="473.5" y2="347.2" stroke="#000" stroke-width="1.0"/><polygon points="458.0,346.0 473.8,342.2 473.1,352.2" fill="#000"/><line x1="696.0" y1="349.0" x2="673.9" y2="342.4" stroke="#000" stroke-width="1.0"/><polygon points="659.0,338.0 675.3,337.6 672.4,347.2" fill="#000"/><line x1="896.0" y1="348.0" x2="874.4" y2="339.6" stroke="#000" stroke-width="1.0"/><polygon points="860.0,334.0 876.3,335.0 872.6,344.3" fill="#000"/><line x1="297.0" y1="550.0" x2="281.5" y2="550.5" stroke="#000" stroke-width="1.0"/><polygon points="266.0,551.0 281.3,545.5 281.7,555.5" fill="#000"/><line x1="498.0" y1="549.0" x2="482.3" y2="546.5" stroke="#000" stroke-width="1.0"/><polygon points="467.0,544.0 483.1,541.5 481.5,551.4" fill="#000"/><line x1="698.0" y1="548.0" x2="684.1" y2="541.5" stroke="#000" stroke-width="1.0"/><polygon points="670.0,535.0 686.2,537.0 682.0,546.1" fill="#000"/><line x1="897.0" y1="547.0" x2="885.7" y2="537.2" stroke="#000" stroke-width="1.0"/><polygon points="874.0,527.0 889.0,533.4 882.4,540.9" fill="#000"/><line x1="298.0" y1="750.0" x2="288.5" y2="749.6" stroke="#000" stroke-width="1.0"/><polygon points="273.0,749.0 288.7,744.6 288.3,754.6" fill="#000"/><line x1="497.0" y1="749.0" x2="488.4" y2="745.6" stroke="#000" stroke-width="1.0"/><polygon points="474.0,740.0 490.3,741.0 486.6,750.3" fill="#000"/><line x1="699.0" y1="748.0" x2="689.0" y2="739.8" stroke="#000" stroke-width="1.0"/><polygon points="677.0,730.0 692.2,735.9 685.8,743.7" fill="#000"/><line x1="899.0" y1="747.0" x2="894.2" y2="737.7" stroke="#000" stroke-width="1.0"/><polygon points="887.0,724.0 898.6,735.4 889.7,740.1" fill="#000"/><line x1="299.0" y1="949.0" x2="292.6" y2="943.3" stroke="#000" stroke-width="1.0"/><polygon points="281.0,933.0 295.9,939.6 289.3,947.0" fill="#000"/><line x1="499.0" y1="948.0" x2="492.1" y2="938.5" stroke="#000" stroke-width="1.0"/><polygon points="483.0,926.0 496.2,935.6 488.1,941.5" fill="#000"/><line x1="700.0" y1="948.0" x2="694.9" y2="932.7" stroke="#000" stroke-width="1.0"/><polygon points="690.0,918.0 699.6,931.1 690.2,934.3" fill="#000"/>
<rect x="100.5" y="150.5" width="800" height="800" fill="none" stroke="#000" stroke-width="3"/>
<line x1="140.5" y1="142" x2="140.5" y2="149" stroke="#000" stroke-width="1"/><line x1="140.5" y1="951" x2="140.5" y2="958" stroke="#000" stroke-width="1"/><line x1="190.5" y1="146" x2="190.5" y2="149" stroke="#000" stroke-width="1"/><line x1="190.5" y1="951" x2="190.5" y2="954" stroke="#000" stroke-width="1"/><line x1="240.5" y1="146" x2="240.5" y2="149" stroke="#000" stroke-width="1"/><line x1="240.5" y1="951" x2="240.5" y2="954" stroke="#000" stroke-width="1"/><line x1="290.5" y1="146" x2="290.5" y2="149" stroke="#000" stroke-width="1"/><line x1="290.5" y1="951" x2="290.5" y2="954" stroke="#000" stroke-width="1"/><line x1="340.5" y1="146" x2="340.5" y2="149" stroke="#000" stroke-width="1"/><line x1="340.5" y1="951" x2="340.5" y2="954" stroke="#000" stroke-width="1"/><line x1="390.5" y1="146" x2="390.5" y2="149" stroke="#000" stroke-width="1"/><line x1="390.5" y1="951" x2="390.5" y2="954" stroke="#000" stroke-width="1"/><line x1="440.5" y1="146" x2="440.5" y2="149" stroke="#000" stroke-width="1"/><line x1="440.5" y1="951" x2="440.5" y2="954" stroke="#000" stroke-width="1"/><line x1="490.5" y1="146" x2="490.5" y2="149" stroke="#000" stroke-width="1"/><line x1="490.5" y1="951" x2="490.5" y2="954" stroke="#000" stroke-width="1"/><line x1="540.5" y1="146" x2="540.5" y2="149" stroke="#000" stroke-width="1"/><line x1="540.5" y1="951" x2="540.5" y2="954" stroke="#000" stroke-width="1"/><line x1="590.5" y1="146" x2="590.5" y2="149" stroke="#000" stroke-width="1"/><line x1="590.5" y1="951" x2="590.5" y2="954" stroke="#000" stroke-width="1"/><line x1="640.5" y1="142" x2="640.5" y2="149" stroke="#000" stroke-width="1"/><line x1="640.5" y1="951" x2="640.5" y2="958" stroke="#000" stroke-width="1"/><line x1="690.5" y1="146" x2="690.5" y2="149" stroke="#000" stroke-width="1"/><line x1="690.5" y1="951" x2="690.5" y2="954" stroke="#000" stroke-width="1"/><line x1="740.5" y1="146" x2="740.5" y2="149" stroke="#000" stroke-width="1"/><line x1="740.5" y1="951" x2="740.5" y2="954" stroke="#000" stroke-width="1"/><line x1="790.5" y1="146" x2="790.5" y2="149" stroke="#000" stroke-width="1"/><line x1="790.5" y1="951" x2="790.5" y2="954" stroke="#000" stroke-width="1"/><line x1="840.5" y1="146" x2="840.5" y2="149" stroke="#000" stroke-width="1"/><line x1="840.5" y1="951" x2="840.5" y2="954" stroke="#000" stroke-width="1"/><line x1="890.5" y1="146" x2="890.5" y2="149" stroke="#000" stroke-width="1"/><line x1="890.5" y1="951" x2="890.5" y2="954" stroke="#000" stroke-width="1"/><line x1="92" y1="150.5" x2="99" y2="150.5" stroke="#000" stroke-width="1"/><line x1="901" y1="150.5" x2="908" y2="150.5" stroke="#000" stroke-width="1"/><line x1="96" y1="200.5" x2="99" y2="200.5" stroke="#000" stroke-width="1"/><line x1="901" y1="200.5" x2="904" y2="200.5" stroke="#000" stroke-width="1"/><line x1="96" y1="250.5" x2="99" y2="250.5" stroke="#000" stroke-width="1"/><line x1="901" y1="250.5" x2="904" y2="250.5" stroke="#000" stroke-width="1"/><line x1="96" y1="300.5" x2="99" y2="300.5" stroke="#000" stroke-width="1"/><line x1="901" y1="300.5" x2="904" y2="300.5" stroke="#000" stroke-width="1"/><line x1="96" y1="350.5" x2="99" y2="350.5" stroke="#000" stroke-width="1"/><line x1="901" y1="350.5" x2="904" y2="350.5" stroke="#000" stroke-width="1"/><line x1="96" y1="400.5" x2="99" y2="400.5" stroke="#000" stroke-width="1"/><line x1="901" y1="400.5" x2="904" y2="400.5" stroke="#000" stroke-width="1"/><line x1="96" y1="450.5" x2="99" y2="450.5" stroke="#000" stroke-width="1"/><line x1="901" y1="450.5" x2="904" y2="450.5" stroke="#000" stroke-width="1"/><line x1="96" y1="500.5" x2="99" y2="500.5" stroke="#000" stroke-width="1"/><line x1="901" y1="500.5" x2="904" y2="500.5" stroke="#000" stroke-width="1"/><line x1="96" y1="550.5" x2="99" y2="550.5" stroke="#000" stroke-width="1"/><line x1="901" y1="550.5" x2="904" y2="550.5" stroke="#000" stroke-width="1"/><line x1="96" y1="600.5" x2="99" y2="600.5" stroke="#000" stroke-width="1"/><line x1="901" y1="600.5" x2="904" y2="600.5" stroke="#000" stroke-width="1"/><line x1="92" y1="650.5" x2="99" y2="650.5" stroke="#000" stroke-width="1"/><line x1="901" y1="650.5" x2="908" y2="650.5" stroke="#000" stroke-width="1"/><line x1="96" y1="700.5" x2="99" y2="700.5" stroke="#000" stroke-width="1"/><line x1="901" y1="700.5" x2="904" y2="700.5" stroke="#000" stroke-width="1"/><line x1="96" y1="750.5" x2="99" y2="750.5" stroke="#000" stroke-width="1"/><line x1="901" y1="750.5" x2="904" y2="750.5" stroke="#000" stroke-width="1"/><line x1="96" y1="800.5" x2="99" y2="800.5" stroke="#000" stroke-width="1"/><line x1="901" y1="800.5" x2="904" y2="800.5" stroke="#000" stroke-width="1"/><line x1="96" y1="850.5" x2="99" y2="850.5" stroke="#000" stroke-width="1"/><line x1="901" y1="850.5" x2="904" y2="850.5" stroke="#000" stroke-width="1"/><line x1="96" y1="900.5" x2="99" y2="900.5" stroke="#000" stroke-width="1"/><line x1="901" y1="900.5" x2="904" y2="900.5" stroke="#000" stroke-width="1"/><line x1="96" y1="950.5" x2="99" y2="950.5" stroke="#000" stroke-width="1"/><line x1="901" y1="950.5" x2="904" y2="950.5" stroke="#000" stroke-width="1"/>
<circle cx="120" cy="45" r="5.8" fill="none" stroke="#000" stroke-width="2.5"/>
<rect x="582" y="40" width="313" height="40" fill="#fff" stroke="#000" stroke-width="2"/>
<line x1="803" y1="50" x2="880" y2="50" stroke="#000" stroke-width="1.3"/><polygon points="893,50 879,45 879,55" fill="#000"/>
<line x1="722" y1="60" x2="880" y2="60" stroke="#000" stroke-width="1.3"/><polygon points="893,60 879,55 879,65" fill="#000"/>
<line x1="641" y1="70" x2="880" y2="70" stroke="#000" stroke-width="1.3"/><polygon points="893,70 879,65 879,75" fill="#000"/>
<defs><linearGradient id="cbg" x1="0" y1="0" x2="0" y2="1">
<stop offset="0" stop-color="#ff0000"/><stop offset="0.2" stop-color="#ffff00"/><stop offset="0.4" stop-color="#00ff00"/><stop offset="0.6" stop-color="#00ffff"/><stop offset="0.8" stop-color="#0000ff"/><stop offset="1" stop-color="#ff00ff"/>
</linearGradient></defs>
<rect x="980" y="400" width="20" height="300" fill="url(#cbg)" stroke="#000" stroke-width="3"/>
<line x1="981" y1="400.5" x2="999" y2="400.5" stroke="#dcdcdc" stroke-width="1.2"/><line x1="981" y1="430.5" x2="999" y2="430.5" stroke="#dcdcdc" stroke-width="1.2"/><line x1="981" y1="460.5" x2="999" y2="460.5" stroke="#dcdcdc" stroke-width="1.2"/><line x1="981" y1="490.5" x2="999" y2="490.5" stroke="#dcdcdc" stroke-width="1.2"/><line x1="981" y1="520.5" x2="999" y2="520.5" stroke="#dcdcdc" stroke-width="1.2"/><line x1="981" y1="550.5" x2="999" y2="550.5" stroke="#dcdcdc" stroke-width="1.2"/><line x1="981" y1="580.5" x2="999" y2="580.5" stroke="#dcdcdc" stroke-width="1.2"/><line x1="981" y1="610.5" x2="999" y2="610.5" stroke="#dcdcdc" stroke-width="1.2"/><line x1="981" y1="640.5" x2="999" y2="640.5" stroke="#dcdcdc" stroke-width="1.2"/><line x1="981" y1="670.5" x2="999" y2="670.5" stroke="#dcdcdc" stroke-width="1.2"/><line x1="981" y1="700.5" x2="999" y2="700.5" stroke="#dcdcdc" stroke-width="1.2"/>
<line x1="1001" y1="400.5" x2="1008" y2="400.5" stroke="#000" stroke-width="1"/><line x1="1001" y1="430.5" x2="1008" y2="430.5" stroke="#000" stroke-width="1"/><line x1="1001" y1="460.5" x2="1008" y2="460.5" stroke="#000" stroke-width="1"/><line x1="1001" y1="490.5" x2="1008" y2="490.5" stroke="#000" stroke-width="1"/><line x1="1001" y1="520.5" x2="1008" y2="520.5" stroke="#000" stroke-width="1"/><line x1="1001" y1="550.5" x2="1008" y2="550.5" stroke="#000" stroke-width="1"/><line x1="1001" y1="580.5" x2="1008" y2="580.5" stroke="#000" stroke-width="1"/><line x1="1001" y1="610.5" x2="1008" y2="610.5" stroke="#000" stroke-width="1"/><line x1="1001" y1="640.5" x2="1008" y2="640.5" stroke="#000" stroke-width="1"/><line x1="1001" y1="670.5" x2="1008" y2="670.5" stroke="#000" stroke-width="1"/><line x1="1001" y1="700.5" x2="1008" y2="700.5" stroke="#000" stroke-width="1"/>
</svg>
<div class="lab" style="left:117px;top:125px;">-89°05'15"</div>
<div class="lab" style="left:617px;top:125px;">-89°04'30"</div>
<div class="lab" style="left:117px;top:963px;">-89°05'15"</div>
<div class="lab" style="left:617px;top:963px;">-89°04'30"</div>
<div class="lab" style="right:1015.5px;top:144px;">30°16'30"</div>
<div class="lab" style="right:1015.5px;top:644px;">30°15'45"</div>
<div class="lab" style="left:915px;top:144px;">30°16'30"</div>
<div class="lab" style="left:915px;top:644px;">30°15'45"</div>
<div class="cbl" style="top:394px">25.0</div><div class="cbl" style="top:424px">22.7</div><div class="cbl" style="top:454px">20.4</div><div class="cbl" style="top:484px">18.1</div><div class="cbl" style="top:514px">15.8</div><div class="cbl" style="top:544px">13.5</div><div class="cbl" style="top:574px">11.2</div><div class="cbl" style="top:604px">8.9</div><div class="cbl" style="top:634px">6.6</div><div class="cbl" style="top:664px">4.3</div><div class="cbl" style="top:694px">2.0</div>
<div class="a" style="left:1050px;top:550px;transform:translate(-50%,-50%) rotate(-90deg);font-weight:bold;font-size:12.8px;letter-spacing:0.6px;">Salinity (psu)</div>
<div class="a" style="left:586px;top:45.5px;font-size:12px;line-height:10px;letter-spacing:0.3px;word-spacing:1.2px;">0.25 kts<br>0.50 kts<br>0.75 kts</div>
</body></html>
